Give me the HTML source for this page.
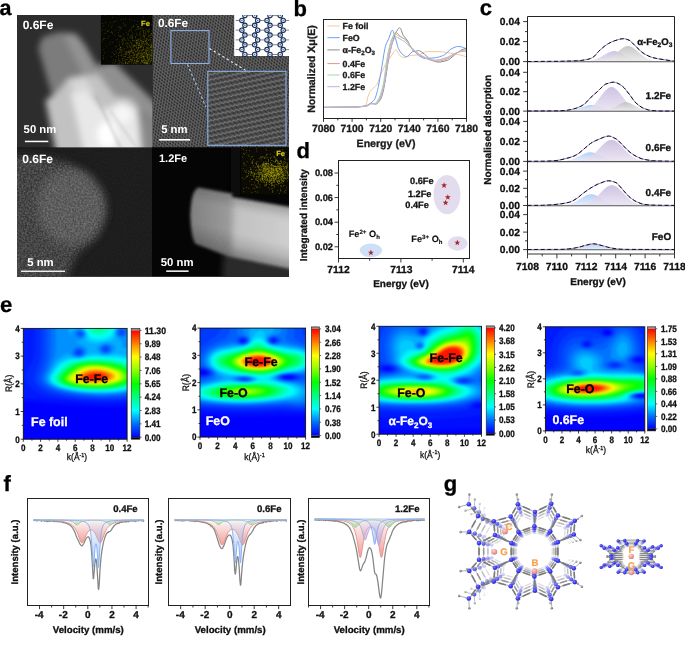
<!DOCTYPE html>
<html lang="en">
<head>
<meta charset="utf-8">
<title>Figure</title>
<style>
html,body{margin:0;padding:0;background:#fff;}
body{width:685px;height:655px;overflow:hidden;}
svg{display:block;font-family:"Liberation Sans", Arial, Helvetica, sans-serif;text-rendering:geometricPrecision;}
text{white-space:pre;}
</style>
</head>
<body>
<svg width="685" height="655" viewBox="0 0 685 655">
<rect width="685" height="655" fill="#fff"/>
<g id="pa">
<defs>
<clipPath id="cTL"><rect x="17.0" y="15.0" width="135.7" height="132.5"/></clipPath>
<clipPath id="cTR"><rect x="152.7" y="15.0" width="136.3" height="132.5"/></clipPath>
<clipPath id="cBL"><rect x="17.0" y="147.5" width="135.7" height="129.2"/></clipPath>
<clipPath id="cBR"><rect x="152.0" y="147.2" width="137.0" height="129.5"/></clipPath>
<clipPath id="cBig"><rect x="207.8" y="71.3" width="78.2" height="74"/></clipPath>
<filter id="bl1" x="-30%" y="-30%" width="160%" height="160%"><feGaussianBlur stdDeviation="1.6"/></filter>
<filter id="bl2" x="-30%" y="-30%" width="160%" height="160%"><feGaussianBlur stdDeviation="3"/></filter>
<filter id="bl3" x="-30%" y="-30%" width="160%" height="160%"><feGaussianBlur stdDeviation="5"/></filter>
<filter id="blt" x="-10%" y="-10%" width="120%" height="120%"><feGaussianBlur stdDeviation="0.45"/></filter>
<filter id="nz" x="0" y="0" width="100%" height="100%" color-interpolation-filters="sRGB">
<feTurbulence type="fractalNoise" baseFrequency="0.55" numOctaves="2" seed="3" result="n"/>
<feColorMatrix in="n" type="matrix" values="0 0 0 0 1  0 0 0 0 1  0 0 0 0 1  1.6 0 0 0 -0.45" result="a"/>
<feComposite in="a" in2="SourceGraphic" operator="in"/>
</filter>
<filter id="nz2" x="0" y="0" width="100%" height="100%" color-interpolation-filters="sRGB">
<feTurbulence type="fractalNoise" baseFrequency="0.9" numOctaves="1" seed="8" result="n"/>
<feColorMatrix in="n" type="matrix" values="0 0 0 0 1  0 0 0 0 1  0 0 0 0 1  1.2 0 0 0 -0.4" result="a"/>
<feComposite in="a" in2="SourceGraphic" operator="in"/>
</filter>
<pattern id="lat" width="3.1" height="5.4" patternUnits="userSpaceOnUse" patternTransform="rotate(-20)">
<rect width="3.1" height="5.4" fill="#646464"/><circle cx="0.78" cy="1.35" r="1.05" fill="#2a2a2a"/><circle cx="2.33" cy="4.05" r="1.05" fill="#2a2a2a"/></pattern>
<pattern id="lat2" width="4.5" height="5.0" patternUnits="userSpaceOnUse" patternTransform="rotate(-12)">
<rect width="4.5" height="5" fill="#494949"/><path d="M-0.3,1.8 L1.1,1.0 L3.4,2.6 L4.8,1.8" stroke="#8a8a8a" stroke-width="0.9" fill="none"/><circle cx="2.25" cy="4.1" r="1.0" fill="#333"/></pattern>
<linearGradient id="rods" gradientUnits="userSpaceOnUse" x1="242" y1="196" x2="228" y2="256"><stop offset="0" stop-color="#000" stop-opacity="0.2"/><stop offset="0.25" stop-color="#000" stop-opacity="0"/><stop offset="0.6" stop-color="#000" stop-opacity="0"/><stop offset="1" stop-color="#000" stop-opacity="0.3"/></linearGradient>
<linearGradient id="rodg" x1="0" y1="0" x2="1" y2="0"><stop offset="0" stop-color="#7e7e7e"/><stop offset="0.36" stop-color="#989898"/><stop offset="0.44" stop-color="#b4b4b4"/><stop offset="1" stop-color="#c6c6c6"/></linearGradient>
</defs>
<rect x="17" y="15" width="272" height="261.7" fill="#1c1c1c" stroke="none" stroke-width="1" />
<g clip-path="url(#cTL)">
<rect x="17" y="15" width="135.7" height="132.5" fill="#2d2d2d" stroke="none" stroke-width="1" />
<g filter="url(#bl2)">
<polygon points="38.32,48.5 42.38,37.33 57.6,32.26 75.87,33.27 85.01,44.44 116.47,100.26 77.9,120.56 51.51,94.17" fill="#7c7c7c" opacity="1.0"/>
<polygon points="62.68,34.29 75.87,34.29 83.99,44.44 114.44,100.26 98.2,106.35" fill="#a4a4a4" opacity="0.55"/>
<polygon points="93.13,65.75 114.44,62.71 159.1,106.35 159.1,153.04 108.35,153.04 98.2,96.2" fill="#909090" opacity="1.0"/>
<polygon points="45.42,100.26 56.59,93.16 68.77,77.93 98.2,73.87 114.44,96.2 130.68,98.23 159.1,128.68 159.1,155.07 56.59,155.07" fill="#c2c2c2" opacity="1.0"/>
<polygon points="70.8,93.16 85.01,88.08 102.26,110.41 122.56,101.28 136.77,109.4 146.92,128.68 148.95,155.07 85.01,155.07" fill="#e8e8e8" opacity="1.0"/>
<polygon points="68.77,81.99 83.99,76.92 94.14,92.14 77.9,96.2" fill="#e0e0e0" opacity="0.7"/>
<ellipse cx="107.34" cy="134.77" rx="10" ry="13" fill="#fff"/>
<ellipse cx="122.56" cy="114.47" rx="9" ry="9" fill="#fff" opacity="0.6"/>
<polygon points="136.77,106.35 159.1,124.62 159.1,155.07 141.85,155.07" fill="#707070" opacity="0.75"/>
</g>
<g filter="url(#bl1)">
<polygon points="94.75,96.2 96.78,95.39 122.56,148.98 119.52,148.98" fill="#888" opacity="0.3"/>
<polygon points="109.37,110.41 110.79,109.6 138.8,148.98 136.37,148.98" fill="#999" opacity="0.3"/>
</g>
</g>
<rect x="100.9" y="15" width="51.8" height="49.7" fill="#070703" stroke="none" stroke-width="1" />
<path d="M134.39 45.48h0.7M110.92 27.28h0.7M134.82 37.77h0.7M151.78 63.99h0.7M149.78 56.76h0.7M150.91 34.85h0.7M133.15 53.41h0.7M149.83 39.06h0.7M147.27 55.33h0.7M131.84 36.02h0.7M146.38 63.25h0.7M136.28 43.96h0.7M136.77 62.39h0.7M117.44 64.17h0.7M146.88 57.92h0.7M141.3 57.55h0.7M151.56 58.35h0.7M123.59 56.33h0.7M147.13 47.64h0.7M147.56 58.37h0.7M130.81 30.91h0.7M137.29 61.77h0.7M150.99 37.54h0.7M102.89 58.01h0.7M137.16 43.29h0.7M113.31 22.36h0.7M132.39 52.33h0.7M141.37 59.63h0.7M148.49 50.68h0.7M141.62 61.49h0.7M142.71 46.75h0.7M129.15 52.91h0.7M136.18 61.56h0.7M144.07 59.36h0.7M144.35 62.66h0.7M126.76 44.97h0.7M150.35 40.63h0.7M141.83 42.91h0.7M132.57 60.56h0.7M119.28 45.68h0.7M133.24 46.59h0.7M146.98 30.88h0.7M138.06 28.14h0.7M147.42 62.66h0.7M136 24.7h0.7M127.35 43.2h0.7M151.41 60.64h0.7M140.67 55.17h0.7M146.67 58.35h0.7M140.12 52.77h0.7M133.62 45.89h0.7M149.1 47.94h0.7M114.29 35.06h0.7M151.65 46.57h0.7M125.47 62.89h0.7M124.36 25.42h0.7M135.1 37.69h0.7M138.45 27.11h0.7M146.47 53.7h0.7M150.87 60.1h0.7M122.81 45.86h0.7M132.86 52.94h0.7M147.89 36.33h0.7M136.42 29.28h0.7M147.78 61.27h0.7M123.46 54.61h0.7M145.87 29.21h0.7M150.2 47.21h0.7M127.69 52.74h0.7M137.13 60.06h0.7M142.08 56.11h0.7M149.76 46.68h0.7M137.23 54.57h0.7M151.45 33.79h0.7M130.85 59.78h0.7M129.04 55.29h0.7M125.72 26.26h0.7M149.24 54.53h0.7M128 40.62h0.7M151.41 47.52h0.7M141.62 50.24h0.7M133.53 63.86h0.7M122.4 60.15h0.7M119.5 48.96h0.7M143.28 47.35h0.7M120.38 50.08h0.7M129.84 37.81h0.7M151.48 54.43h0.7M118.08 55.77h0.7M143.65 44.37h0.7M140.1 55.49h0.7M118.07 35.57h0.7M141.26 47.65h0.7M146.99 42.2h0.7M133.03 25.14h0.7M129.67 42.79h0.7M147.31 63.82h0.7M130.32 55.96h0.7M129.02 19.21h0.7M144.57 35.42h0.7M129.94 59.59h0.7M146.85 51.15h0.7M126.73 34.82h0.7M136.46 41.13h0.7M134.98 57.7h0.7M129.98 59.5h0.7M146.59 55.21h0.7M119.34 44.01h0.7M147.99 59.17h0.7M145.3 50.23h0.7M136.52 61.17h0.7M148.19 47.98h0.7M114 54.62h0.7M146.69 63.6h0.7M124.66 52.05h0.7M148.32 39.85h0.7M129.43 46.91h0.7M134.61 53.63h0.7M127.64 61.84h0.7M141.1 54.03h0.7M110.41 22.89h0.7M114.61 54.39h0.7M147.21 43.21h0.7M141.36 27.09h0.7M132.73 41.09h0.7M112.25 62.77h0.7M122.78 19.22h0.7M151.7 52.67h0.7M136.45 57.6h0.7M146.15 38.03h0.7M140.3 40.79h0.7M121.24 27.11h0.7M108.93 44.5h0.7M138.01 47.94h0.7M112.22 17.48h0.7M122.94 34.61h0.7M117.77 27.84h0.7M140.34 46.05h0.7M143.28 58.34h0.7M143.35 62.68h0.7M137.53 49.37h0.7M150.07 55.65h0.7M143.22 43.14h0.7M148.53 63.65h0.7M137.39 21.27h0.7M107.38 31.57h0.7M140.03 63.27h0.7M107.39 31.26h0.7M119.81 28.14h0.7M134.54 45.84h0.7M148.81 57.61h0.7M141.39 51.31h0.7M141.94 55.81h0.7M121.65 49.85h0.7M134.54 54.98h0.7M147.1 31.16h0.7M119.03 36.48h0.7M128.48 61.88h0.7M135.57 61.65h0.7M146.21 57.2h0.7M126.85 43.15h0.7M143.68 49.1h0.7M151.54 51.44h0.7M138.58 63.68h0.7M128.44 57.65h0.7M115.45 46.85h0.7M129.38 53.83h0.7M145.06 56.11h0.7M132.52 59.42h0.7M145.65 50.94h0.7M135.12 36.48h0.7M148.92 45.21h0.7M124.32 60.97h0.7M138.91 44.78h0.7M123.61 61.98h0.7M136.46 48.23h0.7M142.82 56.91h0.7M137.89 48.09h0.7M146.73 61.75h0.7M121.27 51.63h0.7M138.28 53.29h0.7M149.09 59.13h0.7M150.07 35.63h0.7M146.17 61.59h0.7M126.65 59.52h0.7M139.22 39.24h0.7M121.87 62.56h0.7M131.32 62.29h0.7M132.13 44.21h0.7M144.82 35.09h0.7M143.38 31.48h0.7M142.76 53.89h0.7M104.17 52.69h0.7M139.39 43.74h0.7M151.07 60.15h0.7M135.01 42.19h0.7M129.65 60.41h0.7M135.42 60.7h0.7M125.61 63.26h0.7M138.26 43.5h0.7M130.04 42.36h0.7M140.53 28.15h0.7M138.2 61.45h0.7M122.41 39.16h0.7M150.69 61.76h0.7M144.75 61.03h0.7M149.73 16.67h0.7M143.29 49.03h0.7M150.66 56.09h0.7M118.28 32.39h0.7M125.54 53.66h0.7M141.29 41.8h0.7M145.96 50.88h0.7M115.11 61.22h0.7M110.65 32.42h0.7M144.11 38.15h0.7M149.07 63.12h0.7M139.89 35.01h0.7M124.83 24.39h0.7M146.02 43.79h0.7M144.46 58.45h0.7M127.05 63.45h0.7M147.98 40.54h0.7M130.35 46.27h0.7M133.75 62.75h0.7M143.86 40h0.7M135.97 54.33h0.7M142.27 54.52h0.7M142.53 30.27h0.7M147.4 60.91h0.7M151 57.93h0.7M151.14 45.83h0.7M136.44 40.62h0.7M136.03 61.39h0.7M148.21 59.89h0.7M140.47 31.73h0.7M127.74 39.26h0.7M144.94 41.58h0.7M125.28 62.21h0.7M151.77 41.2h0.7M134.07 49.88h0.7M149.61 58.77h0.7M130.3 51.74h0.7M104.07 38.57h0.7M150.7 53.76h0.7M135.26 51.58h0.7M137.93 61.75h0.7M121.46 63.89h0.7M142.86 56.28h0.7M139.08 43.69h0.7M136.98 42.83h0.7M146.51 47.8h0.7M142.09 35.95h0.7M119.14 52.46h0.7M143.22 34.01h0.7M119.44 41.67h0.7M120.25 47.51h0.7M118.36 58.28h0.7M142.4 43.26h0.7M143.18 60.08h0.7M130.81 20.14h0.7M146.19 52.22h0.7M134.67 49.22h0.7M141.2 58.97h0.7M102.42 30.16h0.7M141.6 45.71h0.7M145.85 63.78h0.7M150.43 41.97h0.7M131.25 43.86h0.7M142.51 50.77h0.7M108.41 25.33h0.7M120.67 55.61h0.7M147.73 48.35h0.7M135.19 46.08h0.7M137.6 39.53h0.7M131.28 60.05h0.7M144.01 45.68h0.7M139.81 50.68h0.7M120.58 19.71h0.7M128.4 33.79h0.7M111.08 31.85h0.7M146.22 44.12h0.7M128.72 61.27h0.7M137.06 59.73h0.7M138.77 57.67h0.7M144.68 63.56h0.7M119.8 49.29h0.7M118.47 15.55h0.7M151.46 46.55h0.7M135.43 62.64h0.7M143.02 48.8h0.7M144.62 33.62h0.7M143 32.27h0.7M135.57 62.98h0.7M140.48 46.32h0.7M119.38 64.18h0.7M131.76 52.69h0.7M146.35 51.98h0.7M148.03 61.7h0.7M136.54 50.93h0.7M150.62 44.99h0.7M144.15 54.45h0.7M141.7 60.37h0.7M133.59 58.94h0.7M115.38 51.01h0.7M133.62 54.58h0.7M141.38 44.87h0.7M145.22 43.47h0.7M146.7 62.08h0.7M128.26 43.83h0.7M151.25 56.18h0.7M148.72 25.66h0.7M147.34 38.57h0.7M137.73 53.3h0.7M148.98 56.29h0.7M137.93 54.01h0.7M131.41 55.41h0.7M129.89 29.67h0.7M120.41 28.65h0.7M102.79 38.91h0.7M141.04 42.6h0.7M138.03 48.32h0.7M142.75 57.29h0.7M139.35 45.51h0.7M120.29 61.69h0.7M126.05 51.31h0.7M138.41 58.3h0.7M148.43 59.69h0.7M133.85 45.03h0.7M151.48 30.71h0.7M150.46 50.4h0.7M139.09 52.87h0.7M149.89 61.77h0.7M143.86 56.83h0.7M143.59 56.3h0.7M146.52 63.75h0.7M119.9 46.64h0.7M146.84 50.74h0.7M135.74 42.2h0.7M136.48 59.97h0.7M138.33 45.39h0.7M149.86 55.07h0.7M133.61 57.53h0.7M132.91 63.49h0.7M124.69 59.19h0.7M151.51 34.73h0.7M122.7 54.56h0.7M142.56 53h0.7M143.8 63.68h0.7M147.11 63.75h0.7M137.59 41.17h0.7M142.72 39.67h0.7M102.71 49.59h0.7M140.32 33.36h0.7M150.98 44.19h0.7M132.77 62.04h0.7M143.15 41.43h0.7M136.07 56.07h0.7M147.63 60.47h0.7M104.69 29.88h0.7M145.85 32.72h0.7M132.47 47.54h0.7M137.47 61.66h0.7M136.41 35.79h0.7M135.79 54.87h0.7M147.45 56.16h0.7M145.14 62.68h0.7M145.96 60.48h0.7M149.5 40.13h0.7M138.71 57.07h0.7M130.13 35.37h0.7M143.78 43.98h0.7M131.21 28.14h0.7M111.75 25.47h0.7M143.53 63.24h0.7M148.62 45.82h0.7M137.75 26.46h0.7M131.67 45.92h0.7M129.07 52.91h0.7M132.74 34.23h0.7M132.46 53.62h0.7M123.4 48.8h0.7M149.37 51.68h0.7M142.71 28.92h0.7M102.3 23.55h0.7M133.96 20.52h0.7M147.94 49h0.7M141.8 44.9h0.7M145.85 63.51h0.7M140.37 49.1h0.7M132.02 36.41h0.7M140.15 54.9h0.7M150.47 37.35h0.7M125.39 61.82h0.7M146.98 62.87h0.7M130.96 50.22h0.7M148.7 50.68h0.7M133.09 57.12h0.7M114.11 21.27h0.7M127.88 51.42h0.7M146.95 45.13h0.7M150.61 58.33h0.7M143.85 59.99h0.7M122.2 44.37h0.7M149.67 37.37h0.7M115.82 21.07h0.7M127.84 52.41h0.7M141.02 40.15h0.7M121.01 55.77h0.7M123.17 41.78h0.7M131.73 38.76h0.7M139.91 38.83h0.7M140.84 40.85h0.7M150.3 34.38h0.7M141.51 40.62h0.7M127.02 37.9h0.7M139.15 44.74h0.7M132.77 46.5h0.7M119.77 51.19h0.7M133.16 26.7h0.7M143.65 56.53h0.7M111.77 52.06h0.7M139.87 28.55h0.7M144.51 62.76h0.7M126.74 63.06h0.7M131.03 61.32h0.7M146.66 58.27h0.7M139.44 56.23h0.7M130.92 48.33h0.7M151.2 54.09h0.7M118.42 48.51h0.7M148.97 60.11h0.7M140.89 46.39h0.7M131.41 43.98h0.7M148.47 45.74h0.7M117.06 49.72h0.7M143.87 37.36h0.7M116.02 46.08h0.7M131.87 27.16h0.7M126.58 54.54h0.7M139.39 53.38h0.7M138.76 32.61h0.7M136.34 51.58h0.7M147.79 44.46h0.7M151.36 57.97h0.7M141.34 63.06h0.7M138.01 29.14h0.7M135.99 55.18h0.7M127.29 63.24h0.7M128.35 54.98h0.7M145.48 53.21h0.7M130.93 50.79h0.7M133.96 61.94h0.7M148.2 31.83h0.7M125.16 43.82h0.7M122.01 50.78h0.7M143.53 57.38h0.7M151.63 50.28h0.7M133.46 26.56h0.7M151.82 55.28h0.7M151.12 45.33h0.7M138.77 47.74h0.7M147.78 56.17h0.7M140.4 29.8h0.7M122.92 43.66h0.7M121.9 63.78h0.7M137.75 43.11h0.7M137.01 26.09h0.7M146.51 53.53h0.7M151.46 59.83h0.7M150.66 51.23h0.7M123.06 23.17h0.7M136.12 45.31h0.7M116.28 52.49h0.7M129.41 50.29h0.7M132.24 38.09h0.7M128.59 57.64h0.7M145.92 53.07h0.7M145.56 56.82h0.7M133.73 46.18h0.7M124.97 54.42h0.7M131.15 49.41h0.7M151.39 53.55h0.7M102.19 40.83h0.7M148.69 59.32h0.7M139.86 53.82h0.7M145.37 50.03h0.7M148.57 52.33h0.7M136.79 57.86h0.7M134.18 59.81h0.7M143.39 23.16h0.7M137.08 55.23h0.7M144.35 52.36h0.7M143.47 61.55h0.7M103.04 58.78h0.7M137.91 61.76h0.7M131.21 35.65h0.7M142.61 16.63h0.7M145.79 62.48h0.7M135.94 46.18h0.7M144.76 40h0.7M135.7 40.62h0.7M139.8 62.47h0.7M132.56 40.22h0.7M128.94 62.87h0.7M147.37 57.13h0.7M132.2 40.39h0.7M147.19 56.06h0.7M146.93 48.48h0.7M146.36 38.89h0.7M137.48 47.99h0.7M137.02 55.8h0.7M124.2 48.66h0.7M125.01 62.78h0.7M130.32 51.54h0.7M128.98 45.17h0.7M136.54 56.29h0.7M144.74 52.51h0.7M137.15 40.65h0.7M146.81 56.62h0.7M113.2 53.34h0.7M139.7 47.54h0.7M138.63 51.51h0.7M136.19 43.47h0.7M129.81 61.42h0.7M140.33 47.07h0.7M136.95 58.28h0.7M140.22 40.28h0.7M125.72 55.84h0.7M146.21 42.1h0.7M105.19 33.29h0.7M145.95 49.02h0.7M130 58.07h0.7M145.04 60.54h0.7M127.52 47.54h0.7M138.33 47.31h0.7M148.46 35.42h0.7M150.91 48.81h0.7M103.28 25.95h0.7M143.31 32.94h0.7M132.2 32.83h0.7M122.13 60.02h0.7M142.44 41.51h0.7M137.75 47.3h0.7M137.78 50.07h0.7M137.62 49.4h0.7M148.79 57.83h0.7M147.28 61.88h0.7M123.04 63.7h0.7M127.9 35.2h0.7M147.32 63.66h0.7M119.85 35.61h0.7M142.53 41.66h0.7M136.26 33.39h0.7M103.32 55.74h0.7M146.05 40.13h0.7M149.95 54.97h0.7M143.95 36.71h0.7M123.84 39.89h0.7M138.77 47.26h0.7M144.68 41.63h0.7M143.31 56.74h0.7M148.27 55.12h0.7M129.74 37.45h0.7M141.76 46.11h0.7M133.94 50.52h0.7M140.37 57.41h0.7M129.91 47.37h0.7M133.52 57.18h0.7M136.27 47.47h0.7M137.66 40.29h0.7M118.58 62.63h0.7M122.36 41.43h0.7M119.14 26.67h0.7M144.21 62.7h0.7M151.24 49.94h0.7M128.79 45.99h0.7M140.47 47.1h0.7M150.71 55.88h0.7M151.51 37.18h0.7M151.87 63.15h0.7M142.09 62.18h0.7M143.86 58.78h0.7M124.53 38.39h0.7M123.49 37.52h0.7M114.6 30.4h0.7M138.19 39.36h0.7M147.4 57.99h0.7M146.91 57.09h0.7M134.96 45.74h0.7M132.7 55.47h0.7M143.33 17.66h0.7M144.89 30.29h0.7M145.15 60.86h0.7M145.05 41.51h0.7M142.41 53.81h0.7M125.12 63.11h0.7M129.49 60.12h0.7M151.04 42.79h0.7M147.99 52.82h0.7M136.03 47.83h0.7M146.32 62.56h0.7M137.17 27.4h0.7M123.59 58.03h0.7M131.92 37.15h0.7M149.61 49.27h0.7M146.82 46.91h0.7M112.3 42.5h0.7M137.27 60.89h0.7M136.43 42.61h0.7M143.51 41.25h0.7M148.27 53.01h0.7M114.21 63.42h0.7M135.27 30.52h0.7M135.36 51.85h0.7M137.47 44.63h0.7M141.54 57.91h0.7M142.64 56.55h0.7M145.58 55.57h0.7M147.45 55.12h0.7M141.22 55.94h0.7M146.21 62.88h0.7M150.05 61.49h0.7M126.2 45.87h0.7M138.43 26.64h0.7M145.92 50.24h0.7M141.62 53.59h0.7M148.2 54.5h0.7M147.34 25.08h0.7M145.31 63.03h0.7M143.63 52.32h0.7M128.63 31.2h0.7M111.79 32.65h0.7M139.33 51.14h0.7M133.68 54.64h0.7M130.58 50.09h0.7M121.72 58.67h0.7M151.31 47.34h0.7M144.23 43.91h0.7M141.11 52.05h0.7M131.37 51.58h0.7M141.23 54.19h0.7M125.87 52.86h0.7M151.42 58.68h0.7M145.92 42.94h0.7M131.5 59.2h0.7M150.34 46.98h0.7M105.84 46.63h0.7M148.73 39.57h0.7M144.93 46.24h0.7M141.02 56.99h0.7M124.95 53.46h0.7M126.04 32.6h0.7M129.1 56.63h0.7M129.81 52.83h0.7M126.79 59.74h0.7M142.97 35.51h0.7M138.87 41.98h0.7M124.61 56.31h0.7M135.99 42.37h0.7M122.16 43.83h0.7M139.26 56.45h0.7M151.3 24.94h0.7M149.89 52.29h0.7M121.37 42.22h0.7M126.64 48.18h0.7M121.3 47.47h0.7M138.38 53.28h0.7M126.88 51.97h0.7M151.1 45.8h0.7M116.61 39.96h0.7M130.79 36.96h0.7M118.83 60.13h0.7M137.66 52.5h0.7M110.31 42.28h0.7M150.43 47.07h0.7M150.58 55.9h0.7M141.31 60.86h0.7M140.74 50.1h0.7M150.56 49.81h0.7M143.49 36.23h0.7M113.05 60.13h0.7M136 60.77h0.7M148.36 44.26h0.7M143.37 60.64h0.7M137.33 50.92h0.7M134.9 51.73h0.7M131.14 50.84h0.7M129.81 40.71h0.7M105.48 22.22h0.7M137.42 53.83h0.7M132.7 61.77h0.7M143.21 49.82h0.7M129.06 51.37h0.7M126.37 42.88h0.7M142.44 28.27h0.7M144.78 50.19h0.7M143.21 47.36h0.7M138.73 60.41h0.7M150.58 47.85h0.7M135.69 39.15h0.7M115.2 61.93h0.7M141.7 60.47h0.7M118.88 29.98h0.7M119.73 49.35h0.7M133.86 44.86h0.7M124.71 39.87h0.7M142.04 61.6h0.7M143.49 55.85h0.7M118.93 61.2h0.7M132.01 60.19h0.7M147.31 54.53h0.7M121.97 40.56h0.7M103.12 39.08h0.7M140.86 61.41h0.7M144.91 60.58h0.7M122.86 38.87h0.7M126.47 59.46h0.7M149.53 53.5h0.7M142.42 37.98h0.7M141.16 43.52h0.7M140.78 46.47h0.7M140.09 37.69h0.7M127.62 52.69h0.7M137.7 39.88h0.7M150.67 33.25h0.7M148.4 33.08h0.7M116 56.79h0.7M136.89 34.64h0.7M149.16 57.36h0.7M149.16 31.45h0.7M142.83 60.29h0.7M147.46 63.33h0.7M126.23 54.26h0.7M143.62 56.13h0.7M148.71 60.68h0.7M129.18 57.92h0.7M138.29 41.57h0.7M148.84 29.02h0.7M130.94 47.55h0.7M144.19 53.51h0.7M151.36 43.33h0.7M136.04 57.6h0.7M125.63 40.41h0.7M143.91 52.66h0.7M131.96 49.83h0.7M151.29 50.18h0.7M120.85 36.37h0.7M136.34 43.16h0.7M145.8 34.54h0.7M140.15 57.58h0.7M133.28 45.43h0.7M122.78 58.85h0.7M119.73 53.02h0.7M133.77 50.25h0.7M147.09 54.83h0.7M124.86 52.21h0.7M138.1 55.13h0.7M103.85 33.66h0.7M144.26 61.93h0.7M133.93 55.37h0.7M143.77 58.3h0.7M143.47 55.93h0.7M149.01 64h0.7M143.76 61.12h0.7M147.97 59.65h0.7M150.65 39.4h0.7M139.18 35.13h0.7M144.64 33.08h0.7M143.15 57.23h0.7M118.27 60.6h0.7M151.31 50.67h0.7M120.87 52.83h0.7M108.5 36.23h0.7M150.78 45.47h0.7M124.91 56.42h0.7M143.36 30.63h0.7M148.12 30.09h0.7M141.93 61.17h0.7M145.92 44.19h0.7M139.8 45.34h0.7M141.58 44.73h0.7M141.33 60.22h0.7M145.2 51.78h0.7M138.01 58.68h0.7M144.94 31.61h0.7M146.35 40.64h0.7M131.62 50.73h0.7M147.48 50.52h0.7M121.1 54.91h0.7M137.14 50.47h0.7M106.8 38.33h0.7M139.53 59.04h0.7M131.79 58.99h0.7M127.4 46.57h0.7M122.81 38.91h0.7M136.09 63.59h0.7M135.77 54.33h0.7M132.22 52.56h0.7M142.1 50.2h0.7M145.58 41.39h0.7M126.34 51.91h0.7M122.63 56.58h0.7M134.23 60.63h0.7M151 33.46h0.7M148.91 49.36h0.7M134.12 60.3h0.7M120.17 36.63h0.7M149.95 39.9h0.7M117.99 55.64h0.7M142.92 49.53h0.7M150.68 47.59h0.7M128.11 51.02h0.7M148.43 36.67h0.7M121.13 49.41h0.7M120.89 62.67h0.7M133.89 55.29h0.7M151.29 55.5h0.7M119.9 47.7h0.7M135.95 40.51h0.7M128.62 61.58h0.7M134.26 40.31h0.7M144.74 59.66h0.7M138.38 45.36h0.7M124.77 59.98h0.7M124.56 50.73h0.7M148.81 44.91h0.7M128.94 52.8h0.7M120.44 47.79h0.7M118.76 63.26h0.7M116.92 39.05h0.7M143.68 36.21h0.7M146.94 54.52h0.7M149.23 29.72h0.7M147.72 22.28h0.7M129.39 30.71h0.7M124.88 56.84h0.7M112.08 33.42h0.7M147.95 31.98h0.7M133.76 48.82h0.7M137.88 45.8h0.7M125.4 19.06h0.7M145.62 49.06h0.7M146.95 59.71h0.7M142.79 60.02h0.7M140.69 56.03h0.7M146.04 47.66h0.7M149.18 35.49h0.7M146.16 53.56h0.7M146.83 49.68h0.7M143.04 42.39h0.7M146.88 43.53h0.7M143.13 52.97h0.7M130.93 63.46h0.7M139.11 42.06h0.7M139.58 34.14h0.7M141.77 53.66h0.7M114.86 59.66h0.7M107.97 30.69h0.7M131.73 42.22h0.7M146.06 39.87h0.7M118.27 53.62h0.7M149.19 43.15h0.7M134.77 57.85h0.7M133.69 40.84h0.7M132.36 57.91h0.7M140.27 46.7h0.7M136.99 29.6h0.7M144.71 63.57h0.7M137.71 44.97h0.7M135.39 63.46h0.7M145.6 40.33h0.7M131.84 56.86h0.7M142.5 50.46h0.7M136.71 56.52h0.7M142.55 62.7h0.7M145.5 54.61h0.7M147.42 39.69h0.7M133.23 51.97h0.7M149.7 62.26h0.7M146.11 54.23h0.7M141.66 56.41h0.7M148.82 54.88h0.7M124.87 63.5h0.7M150.5 44.44h0.7M131.57 56.03h0.7M121.14 39.82h0.7M131.86 38.73h0.7M128.56 51.38h0.7M104.86 15.62h0.7M149.58 58.98h0.7M129.63 57.28h0.7M136.79 64.05h0.7M111.5 56.58h0.7M127.15 57.51h0.7M151.08 52.21h0.7M150.44 60.38h0.7M127.94 63.28h0.7M149.98 55.21h0.7M151.81 17.69h0.7" stroke="#a39d10" stroke-width="0.7" fill="none" opacity="0.52"/>
<text x="141" y="25.8" font-size="7.6" font-weight="bold" text-anchor="start" fill="#d6ce20" stroke="#d6ce20" stroke-width="0.15" >Fe</text>
<text x="22.7" y="28.6" font-size="12" font-weight="bold" text-anchor="start" fill="#fff" >0.6Fe</text>
<text x="23.6" y="133.1" font-size="11.3" font-weight="bold" text-anchor="start" fill="#fff" >50 nm</text>
<rect x="24.9" y="140.7" width="23.4" height="1.5" fill="#fff" stroke="none" stroke-width="1" />
<g clip-path="url(#cTR)">
<g filter="url(#blt)"><rect x="150.7" y="13" width="140.3" height="136.5" fill="url(#lat)" stroke="none" stroke-width="1" /></g>
<g clip-path="url(#cBig)"><g filter="url(#blt)"><rect x="205" y="69" width="84" height="80" fill="url(#lat2)" stroke="none" stroke-width="1" /></g></g>
</g>
<rect x="170.9" y="30.6" width="38.1" height="32.9" fill="none" stroke="#8cb0e8" stroke-width="1.1" />
<rect x="207.8" y="71.3" width="78.2" height="74" fill="none" stroke="#8cb0e8" stroke-width="1.1" />
<line x1="209.5" y1="48.5" x2="246.5" y2="70.8" stroke="#e6eefb" stroke-width="1.1" stroke-dasharray="2.4 2.6"/>
<line x1="187.5" y1="64.5" x2="206" y2="107" stroke="#a9c8f8" stroke-width="1.1" stroke-dasharray="2.4 2.6"/>
<rect x="234.2" y="14.3" width="55" height="41.7" fill="#fff" stroke="none" stroke-width="1" />
<g clip-path="url(#cTR)">
<path d="M244.9 16.8L241.9 19.26M254.7 16.8L257.7 19.26M270 16.8L267 19.26M280.2 16.8L283.2 19.26M241.9 21.66L244.9 24.12M257.7 21.66L254.7 24.12M267 21.66L270 24.12M283.2 21.66L280.2 24.12M244.9 26.52L241.9 28.98M254.7 26.52L257.7 28.98M270 26.52L267 28.98M280.2 26.52L283.2 28.98M241.9 31.38L244.9 33.84M257.7 31.38L254.7 33.84M267 31.38L270 33.84M283.2 31.38L280.2 33.84M244.9 36.24L241.9 38.7M254.7 36.24L257.7 38.7M270 36.24L267 38.7M280.2 36.24L283.2 38.7M241.9 41.1L244.9 43.56M257.7 41.1L254.7 43.56M267 41.1L270 43.56M283.2 41.1L280.2 43.56M244.9 45.96L241.9 48.42M254.7 45.96L257.7 48.42M270 45.96L267 48.42M280.2 45.96L283.2 48.42M241.9 50.82L244.9 53.28M257.7 50.82L254.7 53.28M267 50.82L270 53.28M283.2 50.82L280.2 53.28" stroke="#2a78dc" stroke-width="1.6" fill="none"/>
<g fill="#fff" stroke="#1f2c4c" stroke-width="1.15"><circle cx="244.9" cy="15.6" r="2.2"/><circle cx="254.7" cy="15.6" r="2.2"/><circle cx="270" cy="15.6" r="2.2"/><circle cx="280.2" cy="15.6" r="2.2"/><circle cx="241.9" cy="20.46" r="2.2"/><circle cx="257.7" cy="20.46" r="2.2"/><circle cx="267" cy="20.46" r="2.2"/><circle cx="283.2" cy="20.46" r="2.2"/><circle cx="244.9" cy="25.32" r="2.2"/><circle cx="254.7" cy="25.32" r="2.2"/><circle cx="270" cy="25.32" r="2.2"/><circle cx="280.2" cy="25.32" r="2.2"/><circle cx="241.9" cy="30.18" r="2.2"/><circle cx="257.7" cy="30.18" r="2.2"/><circle cx="267" cy="30.18" r="2.2"/><circle cx="283.2" cy="30.18" r="2.2"/><circle cx="244.9" cy="35.04" r="2.2"/><circle cx="254.7" cy="35.04" r="2.2"/><circle cx="270" cy="35.04" r="2.2"/><circle cx="280.2" cy="35.04" r="2.2"/><circle cx="241.9" cy="39.9" r="2.2"/><circle cx="257.7" cy="39.9" r="2.2"/><circle cx="267" cy="39.9" r="2.2"/><circle cx="283.2" cy="39.9" r="2.2"/><circle cx="244.9" cy="44.76" r="2.2"/><circle cx="254.7" cy="44.76" r="2.2"/><circle cx="270" cy="44.76" r="2.2"/><circle cx="280.2" cy="44.76" r="2.2"/><circle cx="241.9" cy="49.62" r="2.2"/><circle cx="257.7" cy="49.62" r="2.2"/><circle cx="267" cy="49.62" r="2.2"/><circle cx="283.2" cy="49.62" r="2.2"/><circle cx="244.9" cy="54.48" r="2.2"/><circle cx="254.7" cy="54.48" r="2.2"/><circle cx="270" cy="54.48" r="2.2"/><circle cx="280.2" cy="54.48" r="2.2"/></g>
<path d="M247.1 15.6H252.5M272.2 15.6H278M239.7 20.46h-4M259.9 20.46H264.8M285.4 20.46h4M247.1 25.32H252.5M272.2 25.32H278M239.7 30.18h-4M259.9 30.18H264.8M285.4 30.18h4M247.1 35.04H252.5M272.2 35.04H278M239.7 39.9h-4M259.9 39.9H264.8M285.4 39.9h4M247.1 44.76H252.5M272.2 44.76H278M239.7 49.62h-4M259.9 49.62H264.8M285.4 49.62h4M247.1 54.48H252.5M272.2 54.48H278" stroke="#3d4d6a" stroke-width="0.7" fill="none"/>
<path d="M244.2 15.6h1.4M254 15.6h1.4M269.3 15.6h1.4M279.5 15.6h1.4M241.2 20.46h1.4M257 20.46h1.4M266.3 20.46h1.4M282.5 20.46h1.4M244.2 25.32h1.4M254 25.32h1.4M269.3 25.32h1.4M279.5 25.32h1.4M241.2 30.18h1.4M257 30.18h1.4M266.3 30.18h1.4M282.5 30.18h1.4M244.2 35.04h1.4M254 35.04h1.4M269.3 35.04h1.4M279.5 35.04h1.4M241.2 39.9h1.4M257 39.9h1.4M266.3 39.9h1.4M282.5 39.9h1.4M244.2 44.76h1.4M254 44.76h1.4M269.3 44.76h1.4M279.5 44.76h1.4M241.2 49.62h1.4M257 49.62h1.4M266.3 49.62h1.4M282.5 49.62h1.4M244.2 54.48h1.4M254 54.48h1.4M269.3 54.48h1.4M279.5 54.48h1.4" stroke="#2a78dc" stroke-width="1.4" fill="none"/>
</g>
<text x="157.9" y="27.1" font-size="11.8" font-weight="bold" text-anchor="start" fill="#fff" >0.6Fe</text>
<text x="161.2" y="132.6" font-size="11.3" font-weight="bold" text-anchor="start" fill="#fff" >5 nm</text>
<rect x="159.2" y="139" width="31" height="1.6" fill="#fff" stroke="none" stroke-width="1" />
<g clip-path="url(#cBL)">
<rect x="17" y="147.5" width="135.7" height="129.2" fill="#1b1b1b" stroke="none" stroke-width="1" />
<g filter="url(#bl3)"><path d="M5,155 L41,157 L67,162 L87,173 L103,193 L107.4,213 L98,237 L77,254 L62,287 L5,287Z" fill="#313131"/></g>
<g filter="url(#bl3)"><ellipse cx="71" cy="207" rx="34" ry="38" fill="#545454" opacity="0.75"/></g>
<g filter="url(#nz)" opacity="0.26"><g filter="url(#bl2)"><path d="M5,155 L41,157 L67,162 L87,173 L103,193 L107.4,213 L98,237 L77,254 L62,287 L5,287Z" fill="#fff"/></g></g>
<g filter="url(#nz2)" opacity="0.07"><rect x="17" y="147.5" width="135.7" height="129.2" fill="#fff" stroke="none" stroke-width="1" /></g>
</g>
<text x="22.3" y="162.5" font-size="12" font-weight="bold" text-anchor="start" fill="#fff" >0.6Fe</text>
<text x="27.3" y="265.6" font-size="11.3" font-weight="bold" text-anchor="start" fill="#fff" >5 nm</text>
<rect x="21" y="270.6" width="44" height="1.3" fill="#fff" stroke="none" stroke-width="1" />
<g clip-path="url(#cBR)">
<rect x="152" y="147.2" width="137" height="129.5" fill="#050505" stroke="none" stroke-width="1" />
<g filter="url(#bl2)"><path d="M224,252 L295,266 L295,280 L222,280 Z" fill="#2c2c2c"/><path d="M231,146 L240,146 L240,196 L231,194 Z" fill="#111"/></g>
<g filter="url(#bl1)">
<path d="M198.5,187.5 Q191,190 190.3,215 Q191,238 195.5,243.8 L228.6,256.5 L295,270 L295,208 L231.6,197 L232.6,193.8 Z" fill="url(#rodg)"/>
<path d="M198.5,187.5 Q191,190 190.3,215 Q191,238 195.5,243.8 L228.6,256.5 L295,270 L295,208 L231.6,197 L232.6,193.8 Z" fill="url(#rods)"/>
</g>
<g filter="url(#bl2)"><path d="M236,204 L295,214 L295,262 L232,248 Z" fill="#fff" opacity="0.16"/></g>
<g filter="url(#nz2)" opacity="0.10"><path d="M198.5,187.5 L190.3,215 L195.5,243.8 L295,270 L295,208 L232,195 Z" fill="#fff"/></g>
</g>
<rect x="241" y="147.5" width="48" height="46.7" fill="#0b0a04" stroke="none" stroke-width="1" />
<path d="M267.64 163.37h0.7M282.29 181.11h0.7M271.5 175.77h0.7M271.85 170.58h0.7M286.9 163.93h0.7M285.13 172.5h0.7M269.18 174.51h0.7M278.48 175.53h0.7M277.26 182.45h0.7M269.35 168.57h0.7M281.75 169.25h0.7M278.35 170.28h0.7M257.61 161.46h0.7M281.1 162.52h0.7M280.17 188.97h0.7M243.07 191.72h0.7M284.61 192.74h0.7M278.86 180h0.7M268.87 171.73h0.7M283.4 176.75h0.7M282.02 177.21h0.7M263.35 169.66h0.7M273.85 186.28h0.7M279.43 174.66h0.7M278.74 183.15h0.7M250.36 171.64h0.7M263.97 174.33h0.7M270.38 174.18h0.7M242.31 157.15h0.7M274.56 166.21h0.7M280.71 161.01h0.7M264.23 163.8h0.7M250.98 184.56h0.7M276.08 169.87h0.7M260.72 181.86h0.7M281.53 171.87h0.7M254.11 173.75h0.7M262.5 178.46h0.7M260.92 167.75h0.7M262.07 164.07h0.7M264.09 178.91h0.7M272.35 180.87h0.7M278.6 172.44h0.7M261.57 178.42h0.7M276.44 172.18h0.7M265.65 174.95h0.7M278.4 183.54h0.7M257.48 187.49h0.7M272.06 172.88h0.7M280.99 174.15h0.7M267.74 172.21h0.7M262.59 171.82h0.7M276.18 169.81h0.7M256.13 176.73h0.7M269.22 177.84h0.7M248.21 170.99h0.7M265.31 167.85h0.7M283.67 161.97h0.7M257.75 172.63h0.7M276.19 160.18h0.7M281.62 172.05h0.7M258.51 177.15h0.7M260.85 177.11h0.7M256.34 169.64h0.7M262.59 172.34h0.7M266.89 179.66h0.7M262.86 175.91h0.7M274.43 175.99h0.7M251.55 162.26h0.7M278.11 176.91h0.7M271.29 173.25h0.7M273.19 172.63h0.7M282.56 178.6h0.7M285.45 170.97h0.7M278.31 175.15h0.7M279.18 175.02h0.7M271.63 176.41h0.7M268.94 179.17h0.7M282.86 162.96h0.7M263.93 175.66h0.7M275.57 178.64h0.7M280.58 190.92h0.7M265.64 172.65h0.7M261.99 178.73h0.7M278.06 177.11h0.7M285.24 166.57h0.7M283.4 178.19h0.7M276.64 170.61h0.7M275.07 160.94h0.7M265.78 175.24h0.7M279.15 177.6h0.7M286.02 166.19h0.7M276.48 175.1h0.7M258.85 170.88h0.7M266.24 175.22h0.7M265.05 170.51h0.7M273.53 175.59h0.7M265.39 171.37h0.7M273.8 166.85h0.7M272.77 181.89h0.7M248.49 188.35h0.7M267.29 175.06h0.7M272.56 166.53h0.7M270.69 176.08h0.7M281.85 169.51h0.7M269.16 182.47h0.7M287.84 175h0.7M264.01 165.81h0.7M284.16 178.26h0.7M279.18 181.07h0.7M257.06 180.59h0.7M263.34 162.64h0.7M279.76 169.63h0.7M274.63 170.08h0.7M277.47 190.38h0.7M287.32 175.14h0.7M283.25 166.64h0.7M275.67 175.22h0.7M268.16 172.22h0.7M269.32 188.95h0.7M259.1 176.16h0.7M250.32 174.76h0.7M257.18 192.11h0.7M276.58 168.47h0.7M249.55 181.26h0.7M249.83 167.57h0.7M261.81 175.94h0.7M261.09 173h0.7M257.78 165.6h0.7M263.68 177.46h0.7M266.15 175.81h0.7M259.84 180.72h0.7M273.13 170.78h0.7M261.9 176.78h0.7M269.32 184.48h0.7M278.54 163.62h0.7M276.27 176.5h0.7M282.14 174.11h0.7M276.75 177.94h0.7M276.9 161.44h0.7M258.24 176.6h0.7M267.98 164.03h0.7M278.08 178.35h0.7M255.92 180.22h0.7M262.78 168.38h0.7M265.53 161.64h0.7M279.2 168.61h0.7M272.23 184.97h0.7M277.72 165.87h0.7M269.9 171.04h0.7M268.31 165.18h0.7M271.09 184.97h0.7M284.85 178.73h0.7M279.93 173.07h0.7M256.41 163.3h0.7M273.09 172.14h0.7M264.66 177.99h0.7M243.16 153.47h0.7M285.19 170.57h0.7M261.81 179.1h0.7M281.93 171.67h0.7M251.63 192.55h0.7M265.96 185.69h0.7M272.77 165.56h0.7M275.47 169.1h0.7M261.91 173.78h0.7M274.05 166.47h0.7M272.76 168.59h0.7M282.85 177.38h0.7M276.48 166.47h0.7M274.65 161.93h0.7M276.23 160.45h0.7M285.7 177.77h0.7M280.35 177.76h0.7M272.6 190.84h0.7M258.12 178.8h0.7M273.58 175.33h0.7M281.22 182.01h0.7M270.92 180.48h0.7M277.17 171.8h0.7M286.4 166.73h0.7M279.09 169.68h0.7M272.39 165.02h0.7M251.13 179.46h0.7M265.64 167.05h0.7M276.35 171.76h0.7M259.67 174.51h0.7M274.42 176.35h0.7M287.11 171.75h0.7M252.12 160.78h0.7M261.57 181.9h0.7M261.45 169.9h0.7M267.42 157.45h0.7M275.84 175.39h0.7M282.53 172.7h0.7M274.53 175.17h0.7M261.78 156.53h0.7M267.12 174.17h0.7M272.86 172.54h0.7M271.93 178.82h0.7M275.26 166.41h0.7M276.08 166.68h0.7M263.62 174.68h0.7M265.41 166.32h0.7M243.48 162.91h0.7M272.73 156h0.7M259.68 186.96h0.7M274.22 156.29h0.7M284.17 158.89h0.7M279.47 166.32h0.7M267.32 175.53h0.7M253.39 176.53h0.7M266.11 180.2h0.7M262.76 179.36h0.7M264.16 172.92h0.7M280.45 175.25h0.7M266.56 174.24h0.7M272.56 177.27h0.7M282.38 183.6h0.7M277.14 175.72h0.7M282.05 176.12h0.7M270.83 175.08h0.7M274.86 168.39h0.7M275.33 166.79h0.7M273.85 181.92h0.7M271.12 171.65h0.7M280.24 177.13h0.7M243.24 149.35h0.7M287.5 176.47h0.7M280.58 173.27h0.7M265.59 174.01h0.7M263.87 181.94h0.7M242.66 168.61h0.7M270.6 172.81h0.7M269.39 175.02h0.7M265.6 176.61h0.7M278.73 181.57h0.7M267.87 182.28h0.7M248.7 171.42h0.7M271.1 183.59h0.7M265.36 163.53h0.7M273.85 173.5h0.7M282.28 175.22h0.7M277.49 173.97h0.7M270.55 167.4h0.7M272.86 170.88h0.7M274.42 179.16h0.7M266.44 162.78h0.7M262.47 178.14h0.7M250.29 169.29h0.7M268.03 170.21h0.7M275.74 169.7h0.7M260.24 172.1h0.7M269.9 181.3h0.7M267.26 178.75h0.7M271.4 160.48h0.7M270.31 176.21h0.7M268.33 159.7h0.7M267.45 172.02h0.7M272.98 178.1h0.7M249.09 150.7h0.7M284.32 158.63h0.7M271.12 172.41h0.7M278.75 171.5h0.7M283.25 174.46h0.7M272.5 176.67h0.7M257.36 166.75h0.7M265.93 155.24h0.7M265.91 169.95h0.7M254.29 176.22h0.7M263.5 156.78h0.7M280.58 166.67h0.7M257.75 183.59h0.7M270.91 170.12h0.7M286.21 170.04h0.7M283.61 164.45h0.7M273.34 176.64h0.7M277.33 182.01h0.7M273.83 171.91h0.7M270.55 181.05h0.7M267.72 173.45h0.7M264.09 168.71h0.7M286.41 168.48h0.7M272.03 169.1h0.7M267.44 172.34h0.7M262.47 157.49h0.7M256.46 178.76h0.7M251.56 173.34h0.7M258.54 166.59h0.7M266.2 169.98h0.7M258.73 174.96h0.7M271.05 179.09h0.7M270.18 172.48h0.7M260.61 165.66h0.7M286.64 173.26h0.7M266.2 179.57h0.7M263.44 165.12h0.7M262.12 175.1h0.7M258.12 167.4h0.7M282.6 166.88h0.7M268.41 167.15h0.7M273.92 178.72h0.7M271.5 168.67h0.7M279.65 173.87h0.7M286.81 164.82h0.7M270.95 164.46h0.7M277.7 179.94h0.7M280.26 170.44h0.7M282.54 180.84h0.7M279.1 168.49h0.7M281.2 170.47h0.7M260.13 169.23h0.7M275.35 170.53h0.7M279.81 169.05h0.7M283.47 166.84h0.7M241.82 177.69h0.7M263.05 164.58h0.7M267.12 168.33h0.7M286.67 162.92h0.7M278.74 173.69h0.7M258.19 164.76h0.7M275.86 177.64h0.7M275.99 180.73h0.7M286.2 167.3h0.7M256.74 177.76h0.7M284.48 175.45h0.7M258.24 181.13h0.7M269.17 181.21h0.7M261.44 179.87h0.7M256.58 173.64h0.7M287.97 174.66h0.7M279.61 168.36h0.7M245.07 171.96h0.7M277.71 174.46h0.7M267.83 174.16h0.7M257.43 173.78h0.7M274.72 162.03h0.7M247.89 175.18h0.7M273.52 177.74h0.7M279.59 174.56h0.7M265.07 166.8h0.7M268.13 160.85h0.7M285.03 178.78h0.7M260.17 174.41h0.7M267.42 179.04h0.7M253.61 169.7h0.7M260.93 167.31h0.7M247.19 176.52h0.7M263.54 166.6h0.7M258.9 158.5h0.7M287.65 172.36h0.7M259.23 173.01h0.7M281.1 173.04h0.7M269.71 172.57h0.7M263.03 176.38h0.7M263.48 170.21h0.7M242.96 179.07h0.7M267.05 171.25h0.7M262.46 176.78h0.7M279.11 169.7h0.7M270.72 168.87h0.7M283.63 168.51h0.7M246.27 187.46h0.7M281.12 172.8h0.7M279.47 150.25h0.7M258.62 176.83h0.7M265.11 163.71h0.7M282.5 164.09h0.7M271.22 182.67h0.7M271.84 185.1h0.7M284.7 177.89h0.7M274.8 178.45h0.7M269.38 174.85h0.7M274.21 180.5h0.7M274.14 157.49h0.7M260.33 180.31h0.7M285.42 190.41h0.7M246.73 175.92h0.7M251.15 172.33h0.7M271.12 185.76h0.7M275.25 169.21h0.7M270.98 175.69h0.7M263.85 170.22h0.7M279.82 171.53h0.7M263.49 171.62h0.7M278.71 161.92h0.7M275.28 161.19h0.7M269.47 168.26h0.7M281.27 168.63h0.7M251.14 169.42h0.7M277.6 173.01h0.7M275.47 179.21h0.7M269.92 154.04h0.7M286.07 166.04h0.7M275.32 177.91h0.7M270.77 175.29h0.7M252.27 163.31h0.7M253.12 174.93h0.7M281.75 157.02h0.7M254.4 173.49h0.7M269.66 166.18h0.7M269.78 176.81h0.7M261.36 172.57h0.7M266.96 180.67h0.7M264.88 174.24h0.7M271.23 173.13h0.7M279.33 181.27h0.7M271.36 173.84h0.7M278.85 164.88h0.7M287.09 181.04h0.7M265.9 184.31h0.7M265.86 173.72h0.7M262.52 167.21h0.7M260.76 159.91h0.7M252.43 161.77h0.7M265.27 178.61h0.7M280.66 161.54h0.7M280.61 163.66h0.7M270.81 171.95h0.7M273.71 182.46h0.7M269.96 175.12h0.7M264.76 186.05h0.7M269.4 174.68h0.7M271.19 173.04h0.7M253.2 159.54h0.7M245.37 177.79h0.7M264.03 179.53h0.7M255.11 179.65h0.7M280.63 160.95h0.7M282.85 180.72h0.7M271.65 169.08h0.7M270.78 157.21h0.7M269.83 179.23h0.7M284.51 166.77h0.7M249.9 158.9h0.7M281.39 179.83h0.7M261.86 179.37h0.7M278.16 170.76h0.7M247.81 155.04h0.7M284.44 156.96h0.7M268.38 180.9h0.7M273.16 167.45h0.7M268.25 159.84h0.7M285.3 166.69h0.7M283.76 161.63h0.7M281.34 169.12h0.7M257.25 180.6h0.7M274.96 157.82h0.7M266.87 173.47h0.7M276.62 174.49h0.7M281.36 177.63h0.7M271.49 179.17h0.7M278.27 174.69h0.7M271.07 167.72h0.7M265.47 168.12h0.7M272.26 172.64h0.7M264.19 172.2h0.7M269.91 176.13h0.7M268.1 170.71h0.7M274.52 175.36h0.7M280.5 169.37h0.7M280.63 166.46h0.7M276.72 180.59h0.7M274.53 166.53h0.7M286.95 169.79h0.7M269.04 170.38h0.7M260.16 170.4h0.7M255.56 185.2h0.7M275.45 173.39h0.7M243.61 165.06h0.7M283.02 185.97h0.7M269.45 182.04h0.7M271.05 178.44h0.7M271.36 176h0.7M258.44 172.88h0.7M256.03 148.58h0.7M273.24 166.27h0.7M279.24 169.63h0.7M281.01 176.68h0.7M274.75 182.06h0.7M271.82 177.96h0.7M271.2 169.79h0.7M266.03 167.09h0.7M276.93 181.58h0.7M270.47 165.44h0.7M261.61 178.38h0.7M267.51 154.04h0.7M262.76 173.5h0.7M261.17 173.04h0.7M269.84 168.65h0.7M287.08 177.94h0.7M266.44 175.53h0.7M267.34 169.24h0.7M265.54 170.27h0.7M273.57 171.2h0.7M270.31 162.9h0.7M272.93 169.89h0.7M262.99 171.18h0.7M274.53 178.27h0.7M283.76 185.28h0.7M269.37 171.67h0.7M246.05 150.42h0.7M282.81 174.68h0.7M251.25 179.15h0.7M268.05 173.07h0.7M278.01 180.5h0.7M250.24 168.94h0.7M265.65 177.46h0.7M260.92 174.36h0.7M280.08 168.19h0.7M287.49 167.34h0.7M284.67 175.22h0.7M248.2 173.42h0.7M255.77 174.11h0.7M277.74 168.61h0.7M270.83 166.33h0.7M244.13 154.19h0.7M273.05 169.35h0.7M267.75 176.09h0.7M282.22 149.45h0.7M278.44 166.4h0.7M275.63 177.58h0.7M280.81 186.65h0.7M266.45 164.9h0.7M278.81 167.62h0.7M279.3 174.39h0.7M266.8 166.4h0.7M277.68 167.03h0.7M245.72 152.81h0.7M283.99 191.61h0.7M248.57 173.42h0.7M273.83 169.8h0.7M257.06 176.54h0.7M265.39 173.47h0.7M265.86 158.23h0.7M273.35 175.4h0.7M273.74 171.32h0.7M277.98 173.26h0.7M263.51 174.82h0.7M279.3 167.21h0.7M266.41 150.2h0.7M280.89 178.66h0.7M256.22 162h0.7M275.49 159.5h0.7M264.36 170.9h0.7M267.75 175h0.7M262.33 176.02h0.7M254.35 188.28h0.7M279.75 169.52h0.7M268.32 169.2h0.7M269.06 170.63h0.7M280.74 176.4h0.7M270.64 163.13h0.7M268.72 177.76h0.7M281.48 173.38h0.7M269.05 178.93h0.7M270.28 171.18h0.7M285.82 188.99h0.7M260.3 179.01h0.7M286.53 172.53h0.7M258.6 169.16h0.7M278.72 172.76h0.7M255.48 170.15h0.7M262.24 177.28h0.7M265.75 172.36h0.7M269.69 172.96h0.7M276.55 168.41h0.7M275.77 170.82h0.7M254.78 173.24h0.7M275.74 184.64h0.7M263.91 158.49h0.7M266.1 182.84h0.7M250.46 172.91h0.7M283.34 175.55h0.7M278.41 174.09h0.7M262.19 164.26h0.7M282.94 173.14h0.7M252.82 184.66h0.7M271.37 165.62h0.7M265.46 148.97h0.7M261.82 169.88h0.7M272.36 168.95h0.7M267.51 180.86h0.7M262.97 163.42h0.7M278.33 168.49h0.7M274.37 175.72h0.7M271.43 165.06h0.7M287.2 165.43h0.7M269.38 180.86h0.7M264.07 176.44h0.7M282.69 171.27h0.7M250.54 175.33h0.7M274.58 172.55h0.7M275.41 175.99h0.7M271.66 174.35h0.7M274.75 165.21h0.7M258.09 174.17h0.7M283.43 174.85h0.7M264.52 177.47h0.7M276.14 169.3h0.7M266.37 182.09h0.7M271.05 171.17h0.7M276.77 170.44h0.7M276.8 170.36h0.7M251.1 171.45h0.7M270.08 158.48h0.7M272.46 172.35h0.7M254.31 182.68h0.7M258.86 169.15h0.7M265.51 174.13h0.7M259.34 175.01h0.7M273.98 180.32h0.7M272.89 185.71h0.7M254.44 174.25h0.7M262.09 180.51h0.7M270.8 180.18h0.7M254.8 191.42h0.7M273.01 180.4h0.7M271.25 170.98h0.7M268.62 167.75h0.7M284.79 168.17h0.7M272.84 173.78h0.7M265.58 164.64h0.7M272.07 182.82h0.7M264.26 168.54h0.7M277.48 172.73h0.7M269.43 169.75h0.7M263.56 170.99h0.7M278.09 178.23h0.7M256.27 164.49h0.7M272.95 179.09h0.7M280.44 185.66h0.7M251.32 171.76h0.7M280.38 182.97h0.7M265.84 176.76h0.7M276.54 181.24h0.7M275.89 175.99h0.7M284.37 167.42h0.7M251.94 173.02h0.7M280.95 170.45h0.7M271.29 188.8h0.7M281.81 172.61h0.7M280.32 190.55h0.7M255.51 167.36h0.7M262.57 170.44h0.7M263.06 168.18h0.7M273.83 175.36h0.7M275.81 179.03h0.7M274.69 172.59h0.7M274.94 161.01h0.7M286 187.03h0.7M273.25 169.09h0.7M257.63 170.38h0.7M263.41 164.25h0.7M266.46 184.26h0.7M273.61 168.72h0.7M270.3 172.77h0.7M271.86 182.92h0.7M272.95 169.95h0.7M281.07 168.29h0.7M265.78 176.08h0.7M269.86 168.83h0.7M270 177.74h0.7M285.4 162.16h0.7M262.96 182.12h0.7M254.89 163.08h0.7M276.74 163.43h0.7M266.88 169.6h0.7M277.52 181.36h0.7M271.26 169.27h0.7M265.07 179.26h0.7M282.79 172.98h0.7M272.21 191.06h0.7M272.71 178.72h0.7M287.32 166.84h0.7M278.75 163.56h0.7M276.5 175.66h0.7M245.68 165.83h0.7M286.13 168.11h0.7M260.26 165.93h0.7M265.14 174.49h0.7M276.92 165.31h0.7M264.38 166.7h0.7M268.53 176.51h0.7M266.16 176.2h0.7M269.03 177.14h0.7M277.14 166.43h0.7M257.74 171.5h0.7M255.38 178.52h0.7M270.86 175.33h0.7M277.12 170.29h0.7M271.89 171.09h0.7M283.39 179.61h0.7M267.26 166.31h0.7M276.34 170.68h0.7M265.85 169.02h0.7M254.83 167.12h0.7M246.82 161.63h0.7M287.92 175.53h0.7M276.34 177.03h0.7M266.46 163.87h0.7M277.37 172.08h0.7M274.34 185.02h0.7M284 169.39h0.7M272.5 168.22h0.7M268.26 161.44h0.7M282.48 180.7h0.7M276.78 173.03h0.7M269.42 170.44h0.7M281.39 169.51h0.7M265.77 163.78h0.7M277.83 166.72h0.7M265 174.86h0.7M277.3 163.15h0.7M266.28 177.41h0.7M279.27 176.58h0.7M257.18 166.57h0.7M281.66 176.32h0.7M271.78 163.87h0.7M267.07 173.98h0.7M276.55 154.26h0.7M287.06 172.09h0.7M246.5 176.84h0.7M281.26 180.2h0.7M270.81 164.66h0.7M257.83 172.68h0.7M272.38 192.23h0.7M282.72 181.26h0.7M281.23 178.53h0.7M271.13 168.37h0.7M273.16 174.06h0.7M275.08 166.88h0.7M276.28 174.14h0.7M269.99 172.5h0.7M256.91 165.88h0.7M283.24 168.79h0.7M259.51 184.65h0.7M261.57 176.02h0.7M281.36 170.46h0.7M267.68 163.47h0.7M277.15 171.37h0.7M264.03 182.74h0.7M262.18 171.27h0.7M254.32 174.22h0.7M265.86 164.59h0.7M287.27 173.7h0.7M252.64 167.04h0.7M272.64 171.06h0.7M278.23 162.29h0.7M271.71 160.71h0.7M252.46 163h0.7M268.26 174.3h0.7M286.23 178.91h0.7M283.61 171.13h0.7M271.06 168.62h0.7M260.57 156.63h0.7M273.47 175.65h0.7M269.73 172.87h0.7M268.63 166.37h0.7M274.09 174.62h0.7M280.68 171.16h0.7M261.81 174.63h0.7M270.48 183.59h0.7M272.47 176.29h0.7M256.15 163.89h0.7M271.87 169.89h0.7M264.44 169.63h0.7M268.22 169.28h0.7M262.44 164.61h0.7M282.16 174.71h0.7M277.59 184.89h0.7M280.29 167.72h0.7M285.86 171.59h0.7M263.17 168.26h0.7M279.01 174.53h0.7M252.47 175.19h0.7M263.61 162.02h0.7M276.94 173.85h0.7M252.64 172.23h0.7M280.32 163.55h0.7M273.34 178.44h0.7M285.62 159.41h0.7M278.75 181.58h0.7M252.77 188.2h0.7M265.9 182.78h0.7M277.85 168.6h0.7M280.71 167.88h0.7M282.42 171.06h0.7M276.72 176.44h0.7M266.99 179.94h0.7M277.87 173.79h0.7M267.33 169.59h0.7M287.84 158.94h0.7M271.58 173.74h0.7M279.46 179.54h0.7M256.46 179.11h0.7M273.65 157.11h0.7M277.26 174.01h0.7M265.91 171.6h0.7M281.48 166.55h0.7M272.87 170.37h0.7M279.44 163.43h0.7M267.07 168.06h0.7M259.92 178.67h0.7M258.46 168.03h0.7M276.95 173.77h0.7M253.53 175.28h0.7M263.2 165h0.7M284.08 177.37h0.7M264.4 176.94h0.7M279.66 171.6h0.7M272.36 176.37h0.7M265.12 166.58h0.7M264.14 164.15h0.7M265.49 157.13h0.7M268.2 187.43h0.7M262.98 168.88h0.7M260.56 157.27h0.7M258.73 174.16h0.7M264.73 181.09h0.7M283.99 171.24h0.7M277.87 166.78h0.7M264.02 185.32h0.7M273.82 170.59h0.7M282.75 166.11h0.7M280.73 182.62h0.7M280.32 179.82h0.7M278.43 183.8h0.7M280.49 165.44h0.7M271.61 167.49h0.7M260.22 172.94h0.7M256.45 151.14h0.7M267.92 176.62h0.7M268.1 173.3h0.7M265.2 169.35h0.7M276.82 167.36h0.7M256.62 186.74h0.7M267.22 168.33h0.7M260.09 172.58h0.7M264.79 172.08h0.7M269.88 180.57h0.7M275.11 173.88h0.7M286.63 178.03h0.7M277.87 163.44h0.7M267.86 165.59h0.7M253.57 177.31h0.7M246.17 172.32h0.7M279.36 163.8h0.7M266.32 154.45h0.7M263.94 165.6h0.7M286.42 167.94h0.7M279.21 168.14h0.7M252.4 156.49h0.7M267.98 163.43h0.7M269.89 180.27h0.7M258.06 181.98h0.7M256.14 176.32h0.7M261.91 178.77h0.7M276.02 167.18h0.7M273.58 179.8h0.7M262.24 165.82h0.7M268.99 167.61h0.7M282.02 176.25h0.7M266.88 163.91h0.7M270.69 169.17h0.7M264.49 176.73h0.7M285.13 174.24h0.7M272.52 177h0.7M266.41 168.61h0.7M271.18 164.57h0.7M263.27 180.49h0.7M285.35 175.65h0.7M275.67 169.66h0.7M253.51 172.82h0.7M268.18 171.17h0.7M268.66 175.17h0.7M271.74 165.67h0.7M265.58 169.12h0.7M278.63 164.97h0.7M265.15 165.19h0.7M282.62 164.92h0.7M273.9 174.58h0.7M272.97 161.64h0.7M267.13 171.52h0.7M279.98 161.19h0.7M275.57 171.54h0.7M266.65 165.42h0.7M265.08 168.79h0.7M277.2 171.52h0.7M275.97 168.33h0.7M246.39 170.02h0.7M268.01 168.39h0.7M272.33 172.37h0.7M275.22 175.09h0.7M275.85 179.04h0.7M270.19 173.39h0.7M277.61 174.19h0.7M261.9 178.86h0.7M252.33 179.37h0.7M263.66 168.06h0.7M248.65 156.3h0.7M273.56 181.2h0.7M282.97 181.33h0.7M258.86 169.43h0.7M271.97 172.73h0.7M284.82 163.2h0.7M283.16 175.78h0.7M267.94 171.62h0.7M261.18 169.83h0.7M259.31 169.67h0.7M264.26 157.58h0.7M269.53 172.27h0.7M284.48 173.43h0.7M280.05 172.38h0.7M274.48 187.17h0.7M261.75 166.91h0.7M277.17 178.31h0.7M251.68 163.04h0.7M263.46 170.27h0.7M270.81 176.54h0.7M241.52 148.32h0.7M268.8 181h0.7M279.79 172.62h0.7M270.75 180.71h0.7M274.62 174.42h0.7M260.67 157.95h0.7M258.85 166.92h0.7M273.79 182.05h0.7M270.19 158.17h0.7M283.39 181.69h0.7M265.25 174.41h0.7M269.76 174.04h0.7M251.3 156.97h0.7M275.72 158.96h0.7M255.5 185.66h0.7M273.48 176.11h0.7M264.15 167.5h0.7M263.87 176.56h0.7M260.72 166.01h0.7M271.28 183.04h0.7M265.04 184.76h0.7M256.42 187.38h0.7M270.8 179.07h0.7M285.64 152.23h0.7M263.96 174.78h0.7M274.86 179.35h0.7M277.5 171.51h0.7M264.06 168.89h0.7M284.5 168.18h0.7M277.4 160.37h0.7M278.29 174.05h0.7M262.21 166.05h0.7M253.02 165.47h0.7M268.81 164.12h0.7M276.75 173.93h0.7M275.82 172.02h0.7M282.97 178.52h0.7M272.4 174.17h0.7M276.38 168.6h0.7M250.85 172.83h0.7M280.96 186.13h0.7M276.86 161.07h0.7M281.4 179.79h0.7M244.32 170.54h0.7M278.27 154.06h0.7M278.97 193.55h0.7M273.33 165.52h0.7M262.32 175.08h0.7M243.39 188.35h0.7M263 165.2h0.7M279.73 165.34h0.7M284.09 180.11h0.7M271.88 176.08h0.7M265.79 169.06h0.7M268.71 166.79h0.7M266.51 177.77h0.7M271.23 175.17h0.7M272.46 188.4h0.7M277.18 168.93h0.7M255.6 171.28h0.7M257.9 166.84h0.7M265.51 163.32h0.7M278.67 183.12h0.7M265.92 163.44h0.7M265.46 171h0.7M279.72 166.06h0.7M259.34 179.39h0.7M265.43 180.44h0.7M244.29 163.65h0.7M272.94 180.44h0.7M266.23 173.36h0.7M261.67 175.32h0.7M259.33 172.92h0.7M269.03 174.51h0.7M274.7 169.28h0.7M273.95 152.07h0.7M275.54 168.69h0.7M287.77 178.37h0.7M268.33 172.15h0.7M280.9 169.88h0.7" stroke="#bcb410" stroke-width="0.7" fill="none" opacity="0.75"/>
<text x="276.2" y="156.4" font-size="7.6" font-weight="bold" text-anchor="start" fill="#d6ce20" stroke="#d6ce20" stroke-width="0.15" >Fe</text>
<text x="159" y="162.3" font-size="11" font-weight="bold" text-anchor="start" fill="#fff" >1.2Fe</text>
<text x="160.8" y="265.8" font-size="11.3" font-weight="bold" text-anchor="start" fill="#fff" >50 nm</text>
<rect x="166.2" y="270.4" width="22.4" height="1.5" fill="#fff" stroke="none" stroke-width="1" />
<text x="-0.6" y="15.3" font-size="21.5" font-weight="bold" text-anchor="start" fill="#000" stroke="#000" stroke-width="0.3" >a</text>
</g>
<g id="pb">
<clipPath id="pbc"><rect x="323.5" y="19.5" width="143.0" height="99.0"/></clipPath><g clip-path="url(#pbc)" stroke-linejoin="round">
<path d="M323.4 107.4l20.2-.1 13-.4 3.6-.2 3.6-.4 1.4-.4 .7-.5 .8-2.7 .7-3.7 .7-2.7 1.5-4 .7-1.2 .7-.9 1.4-1.4 2.9-2.2 .7-.8 .8-1.1 1.4-2.9 1.4-4.3 2.2-5.4 2.2-4.7 1.4-2.7 2.2-3.6 4.3-6.1 2.2-3.5 .7-.9 .7-.5 .7 .1 .8 .7 2.1 3.5 .7 1.1 .8 .6 2.1 1.3 1.5 .3 1.4-.3 3.6-1.5 1.5-.4 7.9-.6 1.4-.5 4.4-2.2 1.4-.5 .7-.1 12.3 0 3.6 .3 6.5 1 4.3 .7 7.2 1.5 6.5 1.6" fill="none" stroke="#f8c79a" stroke-width="1" />
<path d="M323.4 107.4l28.1-.3 6.5-.3 5.1-.4 3.6-.9 1.4-.7 3.6-2.4 1.5-1.3 .7-.8 .7-.9 .7-1.5 .7-2.1 1.5-5.1 .7-3.2 2.9-16 2.9-18.2 1.4-7 .7-2.2 .8-1.7 2.1-4.4 2.2-6.3 .7-1.3 .7-.2 .7 1.2 2.2 7 2.2 8.2 .7 1.8 .7 1.5 .7 1.2 1.5 2.1 2.9 2.6 1.4 .8 .7 .1 .7-.2 .8-.4 4.3-4.2 .7-.4 .7-.2 .8 .1 .7 .4 .7 .6 2.9 3 .7 .5 2.9 1.7 1.4 .6 1.5 .3 2.1 0 7.3-.7 2.1-.3 2.9-.7 2.9-1 2.1-1 1.5-1 3.6-3.7 1.4-1.1 2.9-1.4 2.2-.8 1.4-.3 1.5 0 2.9 .5 1.4 .4 1.4 .7 2.2 1.3" fill="none" stroke="#6f9ff2" stroke-width="1" />
<path d="M323.4 107.4l24.5-.2 7.9-.2 4.4-.3 4.3-.5 2.9-.5 2.9-2 .7-.3 1.4 0 2.2 .5 1.4 .1 .8-.2 1.4-1.3 1.4-1.7 .8-1.1 .7-1.5 .7-1.7 .7-2.4 .8-3 2.1-11.2 2.2-14.7 1.4-8.3 2.2-9.9 1.4-5.5 1.5-4.4 1.4-3.7 .7-1.5 1.5-2.3 .7-1 .7-.6 .7-.2 .8 .8 .7 1.6 1.4 3.9 .7 1.5 3.6 4.4 .8 1.2 2.9 5.6 2.1 3.5 .7 .9 .8 .4 .7-.1 2.9-.8 .7-.1 .7 .1 .7 .3 1.5 .9 2.9 2.3 4.3 3.8 1.4 1 3.6 1.9 2.2 .8 2.2 .4 2.8-.2 3.6-.7 3.7-1.2 2.1-1.4 5.1-4.4 5-3.7 1.5-.8 1.4-.6 2.2-.7 1.4-.2" fill="none" stroke="#8c8c8c" stroke-width="1" />
<path d="M323.4 107.4l23.1-.2 8.6-.2 3.6-.2 5.1-.5 2.9-.4 1.4-.6 2.2-1.4 .7-.2 1.4 0 2.9 .3 .7-.1 .8-.6 1.4-2 1.4-2.5 1.5-3.5 .7-2.3 .7-2.7 1.5-6.7 .7-4.3 2.9-20.8 2.1-10.9 1.5-5.8 .7-2.3 2.2-4.8 .7-1.2 .7-.7 .7-.2 .8 .4 2.8 2.9 4.4 2.9 1.4 1.2 1.4 1.7 2.9 4.1 1.5 1.9 3.6 3.6 2.9 2.4 4.3 3 2.9 1.5 4.3 1.6 3.6 1.1 2.9 .5 2.2 0 2.8-.5 3.6-1.1 2.9-1 1.5-.7 5-3.8 2.2-1.3 5.8-2.3 2.8-.9 2.2-.4" fill="none" stroke="#e3958c" stroke-width="1" />
<path d="M323.4 107.4l24.5-.2 7.9-.2 4.4-.3 4.3-.5 2.2-.3 1.4-.6 2.2-1.3 .7-.3 4.3-.3 .7-.5 .8-.9 2.1-3.8 1.5-3.5 1.4-4.6 1.5-5.8 .7-4.1 2.9-21 .7-4.1 1.4-6.7 1.5-5.6 .7-2.3 2.1-4.7 .8-1.1 .7-.6 .7 .1 .7 .2 2.9 1.9 4.3 2.1 1.5 .9 1.4 1.3 4.4 5.7 2.1 2.4 3.6 3.5 2.9 2.2 2.9 1.9 2.9 1.6 3.6 1.2 2.9 .9 2.9 .4 2.1-.1 3.6-.5 3.6-.9 4.4-1.4 2.1-1.1 3.6-2.3 2.2-1.1 5.8-1.9 2.8-.7 2.2-.3" fill="none" stroke="#a5d8a5" stroke-width="1" />
<path d="M323.4 107.4l23.1-.2 8.6-.2 3.6-.2 5.1-.5 2.9-.4 1.4-.6 2.2-1.4 .7-.2 1.4 0 2.9 .3 .7-.1 .8-.5 1.4-1.8 1.4-2.2 1.5-3.3 1.4-4.5 2.2-9.6 3.6-22.5 2.2-9.8 1.4-5.3 .7-2 1.5-3.3 .7-1.3 .7-.7 .7-.1 1.5 .6 5 2.9 2.2 1.4 2.1 1.9 3.7 3.7 2.8 2.6 2.9 2.3 3.6 2.4 2.9 1.6 2.9 1.3 4.3 1.4 2.9 .8 2.2 .2 1.4 0 2.2-.3 2.1-.5 7.3-2.3 6.4-3.4 3.6-1.3 2.2-.6 1.5-.2 5-.2" fill="none" stroke="#c4aee0" stroke-width="1" />
</g>
<rect x="323.5" y="19.5" width="143" height="99" fill="none" stroke="#222" stroke-width="1" />
<path d="M323.5 118.5L323.5 121.9M337.8 118.5L337.8 120.4M352.1 118.5L352.1 121.9M366.4 118.5L366.4 120.4M380.7 118.5L380.7 121.9M395 118.5L395 120.4M409.3 118.5L409.3 121.9M423.6 118.5L423.6 120.4M437.9 118.5L437.9 121.9M452.2 118.5L452.2 120.4M466.5 118.5L466.5 121.9" stroke="#222" stroke-width="0.9" fill="none"/>
<text x="323.5" y="131.6" font-size="10.4" font-weight="bold" text-anchor="middle" fill="#1a1a1a" stroke="#1a1a1a" stroke-width="0.3" >7080</text>
<text x="352.1" y="131.6" font-size="10.4" font-weight="bold" text-anchor="middle" fill="#1a1a1a" stroke="#1a1a1a" stroke-width="0.3" >7100</text>
<text x="380.7" y="131.6" font-size="10.4" font-weight="bold" text-anchor="middle" fill="#1a1a1a" stroke="#1a1a1a" stroke-width="0.3" >7120</text>
<text x="409.3" y="131.6" font-size="10.4" font-weight="bold" text-anchor="middle" fill="#1a1a1a" stroke="#1a1a1a" stroke-width="0.3" >7140</text>
<text x="437.9" y="131.6" font-size="10.4" font-weight="bold" text-anchor="middle" fill="#1a1a1a" stroke="#1a1a1a" stroke-width="0.3" >7160</text>
<text x="466.5" y="131.6" font-size="10.4" font-weight="bold" text-anchor="middle" fill="#1a1a1a" stroke="#1a1a1a" stroke-width="0.3" >7180</text>
<text x="386" y="146.8" font-size="10.6" font-weight="bold" text-anchor="middle" fill="#1a1a1a" stroke="#1a1a1a" stroke-width="0.3" >Energy (eV)</text>
<text transform="translate(314.6 69) rotate(-90)" font-size="10.6" font-weight="bold" text-anchor="middle" fill="#1a1a1a" stroke="#1a1a1a" stroke-width="0.3" >Normalized Xμ(E)</text>
<line x1="327.4" y1="26" x2="339.7" y2="26" stroke="#f8c79a" stroke-width="1" />
<text x="342.6" y="28.9" font-size="8.8" font-weight="bold" text-anchor="start" fill="#1a1a1a" stroke="#1a1a1a" stroke-width="0.3" >Fe foil</text>
<line x1="327.4" y1="37.7" x2="339.7" y2="37.7" stroke="#6f9ff2" stroke-width="1" />
<text x="342.6" y="40.6" font-size="8.8" font-weight="bold" text-anchor="start" fill="#1a1a1a" stroke="#1a1a1a" stroke-width="0.3" >FeO</text>
<line x1="327.4" y1="49.9" x2="339.7" y2="49.9" stroke="#8c8c8c" stroke-width="1" />
<text x="342.6" y="52.8" font-size="8.8" font-weight="bold" text-anchor="start" fill="#1a1a1a" stroke="#1a1a1a" stroke-width="0.3" >α-Fe<tspan font-size="6.2" dy="2">2</tspan><tspan dy="-2">O</tspan><tspan font-size="6.2" dy="2">3</tspan></text>
<line x1="327.4" y1="63.6" x2="339.7" y2="63.6" stroke="#e3958c" stroke-width="1" />
<text x="342.6" y="66.5" font-size="8.8" font-weight="bold" text-anchor="start" fill="#1a1a1a" stroke="#1a1a1a" stroke-width="0.3" >0.4Fe</text>
<line x1="327.4" y1="75" x2="339.7" y2="75" stroke="#a5d8a5" stroke-width="1" />
<text x="342.6" y="77.9" font-size="8.8" font-weight="bold" text-anchor="start" fill="#1a1a1a" stroke="#1a1a1a" stroke-width="0.3" >0.6Fe</text>
<line x1="327.4" y1="86.7" x2="339.7" y2="86.7" stroke="#c4aee0" stroke-width="1" />
<text x="342.6" y="89.6" font-size="8.8" font-weight="bold" text-anchor="start" fill="#1a1a1a" stroke="#1a1a1a" stroke-width="0.3" >1.2Fe</text>
<text x="293.4" y="15.6" font-size="22" font-weight="bold" text-anchor="start" fill="#000" stroke="#000" stroke-width="0.3" >b</text>
</g>
<g id="pc">
<defs>
<linearGradient id="gp" x1="0" y1="0" x2="0" y2="1" gradientUnits="objectBoundingBox"><stop offset="0" stop-color="#c6b8de"/><stop offset="1" stop-color="#e8e2f1"/></linearGradient>
<linearGradient id="gg" x1="0" y1="0" x2="0" y2="1"><stop offset="0" stop-color="#bdbdbd"/><stop offset="1" stop-color="#ececec"/></linearGradient>
<linearGradient id="gb" x1="0" y1="0" x2="0" y2="1"><stop offset="0" stop-color="#a9c8f5"/><stop offset="1" stop-color="#e3ecfb"/></linearGradient>
</defs>
<path d="M580.6 61.6l5.2-.3 3.4-.3 3.5-.7 1.7-.5 1.7-.6 3.5-1.6 8.6-4.9 1.7-.8 1.7-.5 1.7-.3 1.8 0 1.7 .3 1.7 .5 3.5 1.7 6.8 4 3.5 1.6 1.7 .6 1.7 .5 3.5 .7 3.4 .3 5.2 .3z" fill="url(#gp)" fill-opacity="0.85"/>
<path d="M594.4 61.6l0-.1 5.2-.3 3.4-.5 3.5-1 1.7-.7 1.7-.9 3.5-2.4 6.8-6 1.8-1.3 1.7-1.1 1.7-.8 1.7-.4 1.8 0 1.7 .4 1.7 .8 1.7 1.1 1.8 1.3 6.8 6 3.5 2.4 1.7 .9 1.7 .7 3.5 1 3.4 .5 5.2 .3 0 .1z" fill="url(#gg)" fill-opacity="0.85"/>
<line x1="527.5" y1="61.8" x2="674.5" y2="61.8" stroke="#555" stroke-width="1.1" />
<path d="M527.5 61.5l31.6-.2 12.8-.3 4.9-.2 4-.3 3.9-.6 3-.5 2-.6 1.9-.8 1-.5 1-.6 2-2 2.9-3.4 2-1.9 4-3.4 1.9-1.4 2-1.2 3-1.6 2.9-1.1 5-1.6 1.9-.4 2-.2 1 0 2 .4 2.9 1.1 1 .6 2 1.8 2.9 3.1 6.9 6.5 3 2 3.9 2 4 1.4 4.9 1.1 16.8 2.6" fill="none" stroke="#9a7fc8" stroke-width="1" />
<path d="M527.5 61.5l31.6-.2 12.8-.3 4.9-.2 4-.3 3.9-.6 3-.5 2-.6 1.9-.8 1-.5 1-.6 2-2 2.9-3.4 2-1.9 4-3.4 1.9-1.4 2-1.2 3-1.6 2.9-1.1 5-1.6 1.9-.4 2-.2 1 0 2 .4 2.9 1.1 1 .6 2 1.8 2.9 3.1 6.9 6.5 3 2 3.9 2 4 1.4 4.9 1.1 16.8 2.6" fill="none" stroke="#111" stroke-width="1" stroke-dasharray="4 2.6"/>
<text x="519.9" y="65.2" font-size="10.3" font-weight="bold" text-anchor="end" fill="#111" stroke="#111" stroke-width="0.3" >0.00</text>
<text x="519.9" y="45.2" font-size="10.3" font-weight="bold" text-anchor="end" fill="#111" stroke="#111" stroke-width="0.3" >0.02</text>
<text x="519.9" y="25.2" font-size="10.3" font-weight="bold" text-anchor="end" fill="#111" stroke="#111" stroke-width="0.3" >0.04</text>
<path d="M523.1 61.6L527.5 61.6M525 51.6L527.5 51.6M523.1 41.6L527.5 41.6M525 31.6L527.5 31.6M523.1 21.6L527.5 21.6" stroke="#222" stroke-width="0.9" fill="none"/>
<text x="672.3" y="44.8" font-size="9.6" font-weight="bold" text-anchor="end" fill="#111" stroke="#111" stroke-width="0.3" >α-Fe<tspan font-size="6.6" dy="2.2">2</tspan><tspan dy="-2.2">O</tspan><tspan font-size="6.6" dy="2.2">3</tspan></text>
<path d="M560.7 111.1l7.8-.4 4.7-.6 4.6-1.3 7.8-2.9 3.2-.7 1.5-.2 1.6 0 3.1 .5 3.1 1 6.3 2.3 4.6 1.3 4.7 .6 7.8 .4z" fill="url(#gb)" fill-opacity="0.85"/>
<path d="M576.9 111.1l0-.1 5.4-.5 3.5-.8 1.8-.7 1.7-.8 1.8-1.2 1.8-1.4 1.8-1.6 1.7-2 7.1-9.2 1.8-2.1 1.8-1.8 1.7-1.2 1.8-.6 1.8 0 1.8 .6 1.7 1.2 1.8 1.8 1.8 2.1 7.1 9.2 1.7 2 1.8 1.6 1.8 1.4 1.8 1.2 1.7 .8 1.8 .7 3.5 .8 5.4 .5 0 .1z" fill="url(#gp)" fill-opacity="0.85"/>
<path d="M597.9 111.1l4.4-.2 2.9-.3 2.8-.6 1.5-.4 1.4-.5 2.9-1.3 7.2-4.2 1.5-.6 1.4-.4 1.5-.3 1.4 0 1.5 .3 1.4 .4 2.9 1.4 5.8 3.4 2.9 1.3 1.4 .5 1.5 .4 2.8 .6 2.9 .3 4.4 .2z" fill="url(#gg)" fill-opacity="0.85"/>
<line x1="527.5" y1="111.3" x2="674.5" y2="111.3" stroke="#555" stroke-width="1.1" />
<path d="M527.5 111l27.6-.1 8.9-.3 3-.3 2.9-.5 4-.9 2.9-.9 4-1.7 1.9-1.1 2-1.4 2-1.9 3.9-4.3 7.9-7 4-4.1 2-1.7 .9-.6 4-1.3 2-.5 1.9-.2 2 .2 2 .7 2 1 2.9 1.9 2 1.9 2 2.4 3.9 5 3 4.2 1.9 2.5 2 1.9 2 1.6 2 1.4 1.9 1.1 4 1.5 1.9 .6 2 .3 5 .4 3.9 .2 14.8 .1" fill="none" stroke="#9a7fc8" stroke-width="1" />
<path d="M527.5 111l27.6-.1 8.9-.3 3-.3 2.9-.5 4-.9 2.9-.9 4-1.7 1.9-1.1 2-1.4 2-1.9 3.9-4.3 7.9-7 4-4.1 2-1.7 .9-.6 4-1.3 2-.5 1.9-.2 2 .2 2 .7 2 1 2.9 1.9 2 1.9 2 2.4 3.9 5 3 4.2 1.9 2.5 2 1.9 2 1.6 2 1.4 1.9 1.1 4 1.5 1.9 .6 2 .3 5 .4 3.9 .2 14.8 .1" fill="none" stroke="#111" stroke-width="1" stroke-dasharray="4 2.6"/>
<text x="519.9" y="114.7" font-size="10.3" font-weight="bold" text-anchor="end" fill="#111" stroke="#111" stroke-width="0.3" >0.00</text>
<text x="519.9" y="95.3" font-size="10.3" font-weight="bold" text-anchor="end" fill="#111" stroke="#111" stroke-width="0.3" >0.02</text>
<text x="519.9" y="75.9" font-size="10.3" font-weight="bold" text-anchor="end" fill="#111" stroke="#111" stroke-width="0.3" >0.04</text>
<path d="M523.1 111.1L527.5 111.1M525 101.4L527.5 101.4M523.1 91.7L527.5 91.7M525 82L527.5 82M523.1 72.3L527.5 72.3" stroke="#222" stroke-width="0.9" fill="none"/>
<text x="671.2" y="98.9" font-size="10" font-weight="bold" text-anchor="end" fill="#111" stroke="#111" stroke-width="0.3" >1.2Fe</text>
<path d="M556.8 161.4l5.2-.2 3.4-.3 3.5-.6 1.7-.4 1.7-.6 3.5-1.3 8.6-4.3 1.7-.7 1.7-.4 1.7-.3 1.8 0 1.7 .3 1.7 .4 3.5 1.5 6.8 3.5 3.5 1.3 1.7 .6 1.7 .4 3.5 .6 3.4 .3 5.2 .2z" fill="url(#gb)" fill-opacity="0.85"/>
<path d="M573.1 161.4l0-.1 5.9-.5 3.9-.7 2-.5 2-.8 2-1 1.9-1.3 2-1.5 2-1.7 7.8-8.3 2-1.8 2-1.6 1.9-1.1 2-.5 2 0 2 .5 1.9 1.1 2 1.6 2 1.8 7.8 8.3 2 1.7 2 1.5 1.9 1.3 2 1 2 .8 2 .5 3.9 .7 5.9 .5 0 .1z" fill="url(#gp)" fill-opacity="0.85"/>
<line x1="527.5" y1="161.6" x2="674.5" y2="161.6" stroke="#555" stroke-width="1.1" />
<path d="M527.5 161.3l18.7-.1 8.9-.5 3-.4 3.9-.8 7.9-2 4-1.4 1.9-1 2-1.1 2-1.5 8.9-7.6 1.9-1.5 2-1.2 3-1.5 7.9-3.4 2.9-.9 2-.3 1 0 2 .5 1.9 .9 3 1.5 2 1.6 8.8 9.1 3 2.6 3 2.2 1.9 1.2 3 1.5 3 1.3 1.9 .6 4 .8 5.9 .9 9.9 .3 11.8 .2" fill="none" stroke="#9a7fc8" stroke-width="1" />
<path d="M527.5 161.3l18.7-.1 8.9-.5 3-.4 3.9-.8 7.9-2 4-1.4 1.9-1 2-1.1 2-1.5 8.9-7.6 1.9-1.5 2-1.2 3-1.5 7.9-3.4 2.9-.9 2-.3 1 0 2 .5 1.9 .9 3 1.5 2 1.6 8.8 9.1 3 2.6 3 2.2 1.9 1.2 3 1.5 3 1.3 1.9 .6 4 .8 5.9 .9 9.9 .3 11.8 .2" fill="none" stroke="#111" stroke-width="1" stroke-dasharray="4 2.6"/>
<text x="519.9" y="165" font-size="10.3" font-weight="bold" text-anchor="end" fill="#111" stroke="#111" stroke-width="0.3" >0.00</text>
<text x="519.9" y="145" font-size="10.3" font-weight="bold" text-anchor="end" fill="#111" stroke="#111" stroke-width="0.3" >0.02</text>
<text x="519.9" y="125" font-size="10.3" font-weight="bold" text-anchor="end" fill="#111" stroke="#111" stroke-width="0.3" >0.04</text>
<path d="M523.1 161.4L527.5 161.4M525 151.4L527.5 151.4M523.1 141.4L527.5 141.4M525 131.4L527.5 131.4M523.1 121.4L527.5 121.4" stroke="#222" stroke-width="0.9" fill="none"/>
<text x="671.2" y="150.9" font-size="10" font-weight="bold" text-anchor="end" fill="#111" stroke="#111" stroke-width="0.3" >0.6Fe</text>
<path d="M557.5 205.5l5.2-.3 3.4-.4 3.5-.7 1.7-.5 1.7-.7 3.5-1.7 8.6-5.3 1.7-.8 1.7-.6 1.7-.3 1.8 0 1.7 .3 1.7 .6 3.5 1.8 6.8 4.3 3.5 1.7 1.7 .7 1.7 .5 3.5 .7 3.4 .4 5.2 .3z" fill="url(#gb)" fill-opacity="0.85"/>
<path d="M575 205.5l0-.1 5.7-.4 3.7-.7 1.9-.5 1.9-.8 1.9-.9 1.9-1.2 1.9-1.4 1.9-1.7 7.5-7.8 1.9-1.7 1.9-1.5 1.9-1 1.9-.5 1.8 0 1.9 .5 1.9 1 1.9 1.5 1.9 1.7 7.5 7.8 1.9 1.7 1.9 1.4 1.9 1.2 1.9 .9 1.9 .8 1.9 .5 3.7 .7 5.7 .4 0 .1z" fill="url(#gp)" fill-opacity="0.85"/>
<line x1="527.5" y1="205.7" x2="674.5" y2="205.7" stroke="#555" stroke-width="1.1" />
<path d="M527.5 205.4l14.8-.1 6.9-.3 7.9-.7 4.9-.6 4-.7 3.9-.9 3-1.3 3.9-2.4 2-1.5 3.9-3.3 4-2.9 3-2.1 3.9-2.3 3.9-2 6-2.4 2.9-.9 2-.2 2 .1 1.9 .5 2 .6 2 .8 1 .7 1 1 7.9 9.2 2.9 3 3 2.3 2 1.4 1.9 1.1 4 1.7 1.9 .7 2 .4 4 .5 3.9 .3 8.9 .2 13.8 .1" fill="none" stroke="#9a7fc8" stroke-width="1" />
<path d="M527.5 205.4l14.8-.1 6.9-.3 7.9-.7 4.9-.6 4-.7 3.9-.9 3-1.3 3.9-2.4 2-1.5 3.9-3.3 4-2.9 3-2.1 3.9-2.3 3.9-2 6-2.4 2.9-.9 2-.2 2 .1 1.9 .5 2 .6 2 .8 1 .7 1 1 7.9 9.2 2.9 3 3 2.3 2 1.4 1.9 1.1 4 1.7 1.9 .7 2 .4 4 .5 3.9 .3 8.9 .2 13.8 .1" fill="none" stroke="#111" stroke-width="1" stroke-dasharray="4 2.6"/>
<text x="519.9" y="209.1" font-size="10.3" font-weight="bold" text-anchor="end" fill="#111" stroke="#111" stroke-width="0.3" >0.00</text>
<text x="519.9" y="191.9" font-size="10.3" font-weight="bold" text-anchor="end" fill="#111" stroke="#111" stroke-width="0.3" >0.02</text>
<text x="519.9" y="174.7" font-size="10.3" font-weight="bold" text-anchor="end" fill="#111" stroke="#111" stroke-width="0.3" >0.04</text>
<path d="M523.1 205.5L527.5 205.5M525 196.9L527.5 196.9M523.1 188.3L527.5 188.3M525 179.7L527.5 179.7M523.1 171.1L527.5 171.1" stroke="#222" stroke-width="0.9" fill="none"/>
<text x="671.2" y="195.6" font-size="10" font-weight="bold" text-anchor="end" fill="#111" stroke="#111" stroke-width="0.3" >0.4Fe</text>
<path d="M562.9 249.6l7.8-.3 4.7-.7 4.6-1.2 7.8-2.7 3.2-.7 1.5-.2 1.6 0 3.1 .5 3.1 .9 6.3 2.2 4.6 1.2 4.7 .7 7.8 .3z" fill="url(#gb)" fill-opacity="0.85"/>
<line x1="527.5" y1="249.8" x2="674.5" y2="249.8" stroke="#555" stroke-width="1.1" />
<path d="M527.5 249.5l32.6-.1 3.9-.1 4.9-.4 4-.5 3.9-.8 3-.6 4.9-1.5 5-1.2 1.9-.4 2-.1 2 .2 1.9 .4 5 1.3 4.9 1.4 4.9 1.1 4 .6 3.9 .4 6 .2 48.3 .1" fill="none" stroke="#9a7fc8" stroke-width="1" />
<path d="M527.5 249.5l32.6-.1 3.9-.1 4.9-.4 4-.5 3.9-.8 3-.6 4.9-1.5 5-1.2 1.9-.4 2-.1 2 .2 1.9 .4 5 1.3 4.9 1.4 4.9 1.1 4 .6 3.9 .4 6 .2 48.3 .1" fill="none" stroke="#111" stroke-width="1" stroke-dasharray="4 2.6"/>
<text x="519.9" y="253.2" font-size="10.3" font-weight="bold" text-anchor="end" fill="#111" stroke="#111" stroke-width="0.3" >0.00</text>
<text x="519.9" y="235.7" font-size="10.3" font-weight="bold" text-anchor="end" fill="#111" stroke="#111" stroke-width="0.3" >0.02</text>
<text x="519.9" y="218.2" font-size="10.3" font-weight="bold" text-anchor="end" fill="#111" stroke="#111" stroke-width="0.3" >0.04</text>
<path d="M523.1 249.6L527.5 249.6M525 240.85L527.5 240.85M523.1 232.1L527.5 232.1M525 223.35L527.5 223.35M523.1 214.6L527.5 214.6" stroke="#222" stroke-width="0.9" fill="none"/>
<text x="671.2" y="239.9" font-size="10" font-weight="bold" text-anchor="end" fill="#111" stroke="#111" stroke-width="0.3" >FeO</text>
<path d="M527.5 254.0V16.5H674.5V254.0" fill="none" stroke="#222" stroke-width="1"/>
<line x1="527.5" y1="254" x2="674.5" y2="254" stroke="#777" stroke-width="1.6" />
<path d="M527.5 254L527.5 258.4M542.2 254L542.2 256.4M556.9 254L556.9 258.4M571.6 254L571.6 256.4M586.3 254L586.3 258.4M601 254L601 256.4M615.7 254L615.7 258.4M630.4 254L630.4 256.4M645.1 254L645.1 258.4M659.8 254L659.8 256.4M674.5 254L674.5 258.4" stroke="#222" stroke-width="0.9" fill="none"/>
<text x="527.5" y="270" font-size="10.3" font-weight="bold" text-anchor="middle" fill="#111" stroke="#111" stroke-width="0.3" >7108</text>
<text x="556.9" y="270" font-size="10.3" font-weight="bold" text-anchor="middle" fill="#111" stroke="#111" stroke-width="0.3" >7110</text>
<text x="586.3" y="270" font-size="10.3" font-weight="bold" text-anchor="middle" fill="#111" stroke="#111" stroke-width="0.3" >7112</text>
<text x="615.7" y="270" font-size="10.3" font-weight="bold" text-anchor="middle" fill="#111" stroke="#111" stroke-width="0.3" >7114</text>
<text x="645.1" y="270" font-size="10.3" font-weight="bold" text-anchor="middle" fill="#111" stroke="#111" stroke-width="0.3" >7116</text>
<text x="674.5" y="270" font-size="10.3" font-weight="bold" text-anchor="middle" fill="#111" stroke="#111" stroke-width="0.3" >7118</text>
<text x="598.1" y="285.3" font-size="10" font-weight="bold" text-anchor="middle" fill="#111" stroke="#111" stroke-width="0.3" >Energy (eV)</text>
<text transform="translate(490.9 129.8) rotate(-90)" font-size="10.1" font-weight="bold" text-anchor="middle" fill="#111" stroke="#111" stroke-width="0.3" >Normalised adsorption</text>
<text x="479.7" y="14.8" font-size="22" font-weight="bold" text-anchor="start" fill="#000" stroke="#000" stroke-width="0.3" >c</text>
</g>
<g id="pd">
<ellipse cx="447" cy="194.6" rx="13.5" ry="19.7" fill="#e2dcee"/>
<ellipse cx="370.9" cy="250.3" rx="11.2" ry="6.9" fill="#cfdff7"/>
<ellipse cx="457.6" cy="243.5" rx="9.9" ry="7.2" fill="#e2dcee"/>
<polygon points="444.1,182.3 444.87,184.35 447.05,184.44 445.34,185.8 445.92,187.91 444.1,186.7 442.28,187.91 442.86,185.8 441.15,184.44 443.33,184.35" fill="#a52a2a"/>
<polygon points="447.8,194.2 448.57,196.25 450.75,196.34 449.04,197.7 449.62,199.81 447.8,198.6 445.98,199.81 446.56,197.7 444.85,196.34 447.03,196.25" fill="#a52a2a"/>
<polygon points="445.6,199.7 446.37,201.75 448.55,201.84 446.84,203.2 447.42,205.31 445.6,204.1 443.78,205.31 444.36,203.2 442.65,201.84 444.83,201.75" fill="#a52a2a"/>
<polygon points="370.9,249.6 371.67,251.65 373.85,251.74 372.14,253.1 372.72,255.21 370.9,254 369.08,255.21 369.66,253.1 367.95,251.74 370.13,251.65" fill="#a52a2a"/>
<polygon points="457.3,239.6 458.07,241.65 460.25,241.74 458.54,243.1 459.12,245.21 457.3,244 455.48,245.21 456.06,243.1 454.35,241.74 456.53,241.65" fill="#a52a2a"/>
<rect x="338.5" y="160.5" width="131" height="98" fill="none" stroke="#222" stroke-width="1" />
<path d="M334.5 246.8L338.5 246.8M336.3 234.5L338.5 234.5M334.5 222.2L338.5 222.2M336.3 209.9L338.5 209.9M334.5 197.6L338.5 197.6M336.3 185.3L338.5 185.3M334.5 173L338.5 173M338.5 258.5L338.5 262.5M369.7 258.5L369.7 260.7M400.9 258.5L400.9 262.5M432.1 258.5L432.1 260.7M463.3 258.5L463.3 262.5" stroke="#222" stroke-width="0.9" fill="none"/>
<text x="333" y="176.4" font-size="9.3" font-weight="bold" text-anchor="end" fill="#111" stroke="#111" stroke-width="0.3" >0.08</text>
<text x="333" y="201" font-size="9.3" font-weight="bold" text-anchor="end" fill="#111" stroke="#111" stroke-width="0.3" >0.06</text>
<text x="333" y="225.4" font-size="9.3" font-weight="bold" text-anchor="end" fill="#111" stroke="#111" stroke-width="0.3" >0.04</text>
<text x="333" y="250.2" font-size="9.3" font-weight="bold" text-anchor="end" fill="#111" stroke="#111" stroke-width="0.3" >0.02</text>
<text x="338.5" y="272.9" font-size="10.3" font-weight="bold" text-anchor="middle" fill="#111" stroke="#111" stroke-width="0.3" >7112</text>
<text x="401.4" y="272.9" font-size="10.3" font-weight="bold" text-anchor="middle" fill="#111" stroke="#111" stroke-width="0.3" >7113</text>
<text x="463.2" y="272.9" font-size="10.3" font-weight="bold" text-anchor="middle" fill="#111" stroke="#111" stroke-width="0.3" >7114</text>
<text x="401" y="287" font-size="10" font-weight="bold" text-anchor="middle" fill="#111" stroke="#111" stroke-width="0.3" >Energy (eV)</text>
<text transform="translate(307.2 215.2) rotate(-90)" font-size="10" font-weight="bold" text-anchor="middle" fill="#111" stroke="#111" stroke-width="0.3" >Integrated intensity</text>
<text x="433.6" y="184.4" font-size="9.2" font-weight="bold" text-anchor="end" fill="#111" stroke="#111" stroke-width="0.3" >0.6Fe</text>
<text x="431.4" y="196.8" font-size="9.2" font-weight="bold" text-anchor="end" fill="#111" stroke="#111" stroke-width="0.3" >1.2Fe</text>
<text x="428.8" y="208" font-size="9.2" font-weight="bold" text-anchor="end" fill="#111" stroke="#111" stroke-width="0.3" >0.4Fe</text>
<text x="348.7" y="237.2" font-size="9.2" font-weight="bold" text-anchor="start" fill="#111" stroke="#111" stroke-width="0.15" >Fe<tspan font-size="6.2" dy="-3.4">2+</tspan><tspan dy="3.4"> O</tspan><tspan font-size="6" dy="1.6">h</tspan></text>
<text x="411.3" y="242" font-size="9.2" font-weight="bold" text-anchor="start" fill="#111" stroke="#111" stroke-width="0.15" >Fe<tspan font-size="6.2" dy="-3.4">3+</tspan><tspan dy="3.4"> O</tspan><tspan font-size="6" dy="1.6">h</tspan></text>
<text x="296.6" y="158.3" font-size="22" font-weight="bold" text-anchor="start" fill="#000" stroke="#000" stroke-width="0.3" >d</text>
</g>
<g id="pe">
<defs><filter id="hbl" x="-5%" y="-5%" width="110%" height="110%" color-interpolation-filters="sRGB"><feGaussianBlur stdDeviation="0.9"/></filter><linearGradient id="cb" x1="0" y1="1" x2="0" y2="0"><stop offset="0" stop-color="rgb(0,0,255)"/><stop offset="0.125" stop-color="rgb(0,110,255)"/><stop offset="0.25" stop-color="rgb(0,255,255)"/><stop offset="0.375" stop-color="rgb(0,255,128)"/><stop offset="0.5" stop-color="rgb(0,255,0)"/><stop offset="0.625" stop-color="rgb(140,255,0)"/><stop offset="0.75" stop-color="rgb(255,255,0)"/><stop offset="0.875" stop-color="rgb(255,128,0)"/><stop offset="1" stop-color="rgb(255,0,0)"/></linearGradient></defs>
<clipPath id="hc0"><rect x="23.3" y="328.4" width="103.8" height="110.8"/></clipPath>
<g clip-path="url(#hc0)"><g filter="url(#hbl)">
<rect x="17.3" y="322.4" width="115.8" height="122.8" fill="rgb(0,0,255)" stroke="none" stroke-width="1" />
<path d="M90.9 406.7l8.6 .4 10 .1 22.8-.5 0-83.8-114.2 0 0 79.1 10 .1 5.7 .2 11.4 1.1 35.7 2.7 10 .6z" fill="rgb(0,13,255)" fill-rule="evenodd"/>
<path d="M76.4 402.1l13.1 .9 12.8 .4 11.4 0 18.6-.4 0-80.1-114.2 0 0 75 7.1 0 7.2 .3 14.3 1.6 29.7 2.3z" fill="rgb(0,26,255)" fill-rule="evenodd"/>
<path d="M86.5 400.6l10.1 .5 10 .2 25.7-.7 0-77.7-97.8 0 0 22.8-.2 4.6-.4 4.6-.6 3-.9 2.9-1.4 3.1-3.4 6.2-1.7 4.6-.4 3 .2 1.5 .3 1.6 1.5 3 1.1 1.5 2.4 2.5 4.2 3.3 4.3 2.5 4.3 1.7 5.7 1.3 11.4 1.6 14.3 1.5 11.3 .9z" fill="rgb(0,41,255)" fill-rule="evenodd"/>
<path d="M90.5 399l9 .4 8.5 .1 8.6-.2 10-.6 5.7 0 0-75.8-92 0 0 24.3-.5 9.2-.5 3-.7 3.1-3.8 10.6-.7 3.1-.2 1.5 .1 1.5 .4 1.6 1.5 3 2.7 3 3.8 2.9 4.3 2.2 5.7 1.8 7.1 1.7 10 1.6 11.4 1.4 9.6 .6z" fill="rgb(0,58,255)" fill-rule="evenodd"/>
<path d="M90.4 397.5l9.1 .4 8.5 .1 8.6-.3 10-.7 5.7-.1 0-74-88.2 0 0 24.3-.3 7.7-.4 3-.9 4.6-1.6 5-2 5.6-.8 3.1-.2 1.5 .1 1.5 .4 1.6 .6 1.5 1 1.5 1.4 1.5 1.8 1.5 2 1.4 4.3 2 5.7 2 7.2 1.7 8.5 1.6 10 1.3 9.5 .7zM105.2 350.3l-.8-1.5 .8-.6 1.4 0 .6 .6-.6 1.2-1.4 .3zM120.9 332.7l-.4-.7 .4-.4 1.4 .2 .2 .2-.2 .4-1.4 .3zM78.1 354.2l-1.4-.9 .1-1.5 1.3-.8 1.4 0 1.3 .8 0 1.5-1.3 .8-1.4 .1z" fill="rgb(0,75,255)" fill-rule="evenodd"/>
<path d="M87.8 396l10.2 .6 10 0 8.6-.3 10-.9 5.7-.1 0-72.4-84.8 0-.1 24.3-.3 7.7-.4 3.6-1 4-1.9 5.9-2.4 6.3-.4 1.5-.2 1.5 .1 1.5 .4 1.6 .7 1.5 1.8 2.2 3.1 2.3 4 2.1 5.7 2 5.8 1.5 7.1 1.4 10 1.4 8.3 .8zM103.7 350.8l-.6-.5-.3-1.5 1-1.6 1.4-.5 1.4 0 1.4 .7 .8 1.4-.4 1.5-1.8 1.1-1.4 0-1.5-.6zM119.4 333.7l-.4-1.7 .4-.9 .6-.6 .9-.5 1.4 0 1.1 .5 .3 .4 .6 1.1-.6 1.6-1.4 .9-1.4 0-1.5-.8zM78.1 355.2l-1.5-.5-1.2-1.4 0-1.5 1.2-1.5 1.5-.5 1.4-.1 1.4 .6 1.3 1.5-.1 1.5-1.2 1.3-.5 .3-.9 .2-1.4 .1zM80.9 335.1l-1.4-.4-.8-1.2 .8-1.1 1.4-.3 1.3 1.4-1.3 1.6z" fill="rgb(0,94,255)" fill-rule="evenodd"/>
<path d="M83.7 394.5l10.1 .8 11.4 .2 11.4-.5 10-1.1 5.7-.1 0-70.9-81.3 0 0 24.3-.4 7.7-.5 3-1.4 4.6-2.1 6.1-2 4.5-1.1 3.1-.3 1.5 .1 1.5 .4 1.6 .8 1.5 .7 .8 2.4 2.2 3.3 2 4.3 1.8 5.7 1.7 7.2 1.6 8.5 1.3 7.1 .8zM103.7 352.1l-1.4-1.1-.6-.7-.3-1.5 .9-1.8 1.4-.9 1.5-.4 1.4-.1 1.4 .4 1.6 1.2 .7 1.6-.4 1.5-1.6 1.5-1.7 .6-1.4 0-1.5-.3zM119.4 335.2l-1.3-1.7-.2-1.5 .7-1.5 .8-.8 1.5-.7 1.4-.3 1.4 .6 1.5 1.2 .5 1.5-.3 1.5-1.3 1.5-1.8 .8-1.4 0-1.5-.6zM75.2 354.9l-1.1-1.6-.1-1.5 .8-1.5 1.8-1.3 1.5-.4 1.4 0 1.4 .4 1.8 1.3 .7 1.5-.1 1.5-1.3 1.6-1.1 .6-1.4 .4-1.4 0-1.5-.3-1.4-.7zM78.1 335.5l-.5-.5-.5-1.5 .6-1.5 .4-.3 1.4-.7 1.4 .1 1.7 .9 .7 1.5-.3 1.5-.7 .8-1.4 .6-1.4-.1-1.4-.8z" fill="rgb(0,116,255)" fill-rule="evenodd"/>
<path d="M78.8 392.9l6.4 .8 5.7 .4 12.8 .3 10-.3 5.7-.5 7.2-1 5.7-.1 0-58.4-4.3 0-1.4 .9-1.4 1.3-1.5 .7-1.4 .3-1.4-.1-1.5-.5-1.4-1.1-1-2.1 0-1.5 .5-1.5 1.4-1.5 .9-1.6 0-4.5-64 0 .1 21.3-.2 4.6-.3 3-.6 3.1-1 3-4.7 10.7-2.9 6.1-.5 1.5-.3 1.5 0 1.5 .5 1.6 .9 1.5 1.4 1.5 1.3 1.1 2.9 1.7 2.8 1.3 4.3 1.4 5.7 1.5 7.1 1.3 6.5 .8zM102.3 352.5l-1-.7-1.2-1.5-.2-1.5 .5-1.6 1.9-1.7 1.4-.6 1.5-.3 1.4 0 1.4 .2 2.1 .9 1.4 1.5 .4 1.6-.3 1.5-1.2 1.5-.9 .6-1.5 .6-1.4 .3-1.4 0-1.5-.2-1.4-.6zM76.6 356.5l-1.4-.6-1.7-1-1-1.6-.2-1.5 .4-1.5 1.1-1.4 1.4-1.1 1.4-.5 1.5-.2 2.8 .4 1.4 .6 1 .7 1.2 1.5 .4 1.5-.3 1.5-1.2 1.6-1.1 .7-1.8 .8-2.4 .3-1.5-.2zM78.1 337.4l-1.3-.8-1.1-1.6-.3-1.5 .5-1.5 1.7-1.5 1.9-.5 1.4 .1 1.4 .6 1.5 1.3 .5 1.5-.1 1.5-.4 .9-1.5 1.4-1.4 .4-1.4 .1-1.4-.4zM128 330.5l4.3 0 0-7.6-7.2 0 0 4.5 .8 1.6 .7 .7 1.4 .8z" fill="rgb(0,144,255)" fill-rule="evenodd"/>
<path d="M87.7 392.9l10.3 .6 10-.1 10-.7 8.6-1.3 5.7 0 0-43.2-5.7-.1-3.1-.9-1.8-1.5 .1-1.5 .5-1.5-.4-1.6-1-.5-.9-1-.6-.2-1.4-1.4-1.4-2-.7-2.5 .1-1.5 .5-1.5 1-1.5 .5-1.6 0-4.5-50.5 0 .1 6.1 .5 1.7 1.4 2.7 1.4 .8 .3-.7 1.1-1 .3-.5 1.6-1.5 2.4-1.2 1.5-.3 1.4-.1 1.4 .3 1.4 .5 1.5 1.1 .9 1.2 .5 1.5 .1 1.5-.5 1.6-1 1.4-1.5 1.3-.9 .3-.5 .4-1.4 .5-3.6 .6 .9 1.6 5.5 2.3 3.5 2.2 1.3 1.6 .4 1.5-.3 1.5-.8 1.5-1.4 1.6-2.3 1.5-3.2 .9-2.9-.1-3.2-.8-2.7-1.5-1.2-1-1.4-.5-1.5 0-1.4 .4-2.8 1.6-4.3 3.4-2.9 3.3-1.3 1.9-5.6 10.7-.6 1.5-.4 1.5 .1 1.5 .4 1.6 1 1.5 1.5 1.5 3.5 2.3 4.3 1.8 4.3 1.3 7.1 1.6 10 1.4 8.2 .7zM102.3 353.7l-1.4-.6-2.1-1.3-1.2-1.5-.3-1.5 .6-1.6 1.5-1.5 1.5-1 2.8-1.1 1.5-.2 2.8-.1 1.5 .2 2.1 .7 2.9 1.5 1 1.5-.2 1.6-.8 1.5-1.5 1.5-2.5 1.5-2.5 .8-1.4 .2-2.9-.2-1.4-.4z" fill="rgb(0,173,255)" fill-rule="evenodd"/>
<path d="M79.7 391.4l5.5 .6 7.1 .5 12.9 .1 5.7-.2 5.7-.5 10-1.5 5.7-.1 0-34.9-5.7-.1-7.2-1-2.8-.2-2.9 .2-5.7 1-2.8 .1-3.6-.5-5-1.2-4.3-.1-2.8 .5-5.7 2.7-1.5 .5-2.4 .6-3.3 .1-5.7-.7-2.8 .3-4.3 1.5-2.9 1.5-1.4 1-2.6 2.4-1.1 1.5-4.9 7.9-1.4 2.8-.4 1.5 0 1.5 .5 1.6 1 1.5 1.6 1.5 2.4 1.5 2 1 4.3 1.6 4.3 1.2 5.7 1.1 8.8 1.2zM90.4 342.7l3.4 .8 2.8 .1 7.1-1.6 5.8-.9 2.8-.9 .9-.6 1.2-1.5 .5-6.1 .5-1.5 .9-1.5 .4-1.6 0-4.5-35.2 0 0 4.5 1.2 1.6 1.8 1.5 1.1 1.5 .6 1.5 .2 1.5-.3 4.6 .5 1 .5 .5 .9 .7 2.4 .9z" fill="rgb(0,203,255)" fill-rule="evenodd"/>
<path d="M87.3 391.4l10.7 .5 10-.1 10-.9 8.6-1.5 5.7-.1 0-31-5.7-.1-5.7-1-5.7-.6-10-.1-8.6-.7-4.3 .1-4.3 .6-4.8 1.4-3.7 .8-7.2 .2-2.8 .5-4.3 1.4-1.4 .7-2.9 1.7-1.4 1.2-2.3 2.6-4.3 6.1-1.7 3.1-.4 1.5 0 1.5 .5 1.6 1 1.5 1.7 1.5 2.6 1.5 2.9 1.3 4.3 1.4 5.7 1.3 5.7 .9 5.7 .7 6.4 .5zM91.8 339.6l2 .6 2.8 .3 4.3-.1 5.7-1.2 2.8-1.1 1.5-.9 1.4-1.6 1.9-5.1 .7-1.5 .3-1.6 0-4.5-31.6 0 0 4.5 .6 1.6 1.5 1.5 .9 1.5 .7 1.5 .7 2.9 1 1.7 1.9 1.2 .9 .3z" fill="rgb(0,234,255)" fill-rule="evenodd"/>
<path d="M78.1 389.9l5.7 .6 7.1 .5 7.1 .2 7.2-.1 5.7-.3 5.7-.5 5.7-.9 4.3-.9 5.7-.1 0-28-5.7-.2-7.2-1.4-7.1-.8-12.8-.7-7.2 0-4.3 .4-8.5 1.7-7.2 .7-4.2 1.3-4.3 2-2.9 2.1-1.4 1.5-5.9 7.7-.8 1.5-.5 1.5 0 1.5 .5 1.6 1.1 1.5 1.9 1.5 2.7 1.5 2.4 1 4.3 1.4 4.3 .9 8.6 1.3zM96.1 338.1l3.4 .1 4.2-.6 2.9-.9 2.9-1.7 1.5-1.5 1.3-2.2 1-2.3 .3-1.6 0-4.5-28.4 0 0 4.5 .5 1.6 1.1 1.5 2.7 4.6 1.4 1.4 1.4 .8 1.5 .4 2.3 .4z" fill="rgb(0,255,246)" fill-rule="evenodd"/>
<path d="M83.9 389.9l11.3 .7 11.4-.2 11.4-1.1 8.6-1.7 5.7-.1 0-25.5-5.7-.1-7.2-1.6-8.5-1.2-10-.6-7.1-.1-7.2 .5-12.8 2.1-4.3 1.2-3.9 1.8-2.3 1.5-1.7 1.5-6.4 7.7-.9 1.5-.5 1.5 0 1.5 .5 1.6 1.2 1.5 1.9 1.5 3 1.5 3.4 1.3 4.3 1.1 5.7 1.1 10.1 1.1zM92.6 335l1.2 .5 2.8 .6 4.3-.1 3.9-1 3-1.5 1.7-1.5 1.1-1.5 .8-1.5 .2-1.6 0-4.5-24.8 0 0 4.5 .4 1.6 2.3 3.4 1 1.1 .4 .5 1.7 1z" fill="rgb(0,255,217)" fill-rule="evenodd"/>
<path d="M94.1 389.9l8.2 0 8.6-.4 7.1-.9 4.3-.8 4.3-1.1 5.7-.1 0-23.1-4.3 0-1.4-.2-7.2-1.8-8.5-1.4-8.6-.6-8.5-.1-7.2 .4-11.4 1.8-2.9 .8-2.8 1-3.9 2.1-1.9 1.5-2.8 2.9-2.9 3.2-2.2 3.1-.6 1.5 0 1.5 .5 1.6 1.3 1.5 2.1 1.5 3.2 1.5 2.9 1 4.3 1.1 4.3 .8 7.1 .9 7.1 .5 6.1 .3zM94.3 333.5l2.3 .6 1.4 .1 2.9-.2 2.8-.8 2.4-1.2 1.8-1.5 1-1.5 .3-1.6 0-4.5-20.6 0 0 4.5 .4 1.6 1.1 1.5 1.5 1.5 .7 .6 2 .9z" fill="rgb(0,255,187)" fill-rule="evenodd"/>
<path d="M79.5 388.4l5.7 .5 7.1 .4 7.2 .1 5.7-.1 5.7-.5 5.7-.7 4.3-.7 5.7-1.5 1.4-.2 4.3 0 0-20.9-4.3 0-1.4-.1-5.7-1.8-8.6-1.6-8.6-.9-7.1-.3-7.1 .2-7.2 .8-7 1.4-4.5 1.5-3 1.5-2.1 1.5-6.1 6.1-2.4 3.1-.6 1.5-.1 1.5 .6 1.6 1.3 1.5 2.3 1.5 3.1 1.4 2.8 .9 4.3 1 8.6 1.3zM97.3 332l2.2 .1 1.4-.3 2.8-1.1 1.5-1 .7-.7 .4-1.6 0-4.5-15.2 0 0 4.5 .4 1.6 .8 .9 1.5 1 1.4 .6 2.1 .5z" fill="rgb(0,255,157)" fill-rule="evenodd"/>
<path d="M85.2 388.4l11.4 .5 5.7-.1 5.7-.3 5.7-.6 4.3-.7 4.3-.9 4.3-1.3 1.4-.1 4.3 0 0-18.8-4.3 0-1.4-.2-2.9-1-4.3-1.3-8.5-1.6-7.2-.8-7.1-.3-7.1 .1-7.2 .8-7.1 1.6-4.3 1.6-2.8 1.7-1.5 1.1-4.2 4.1-2.7 2.8-1.1 1.5-.7 1.5 0 1.5 .6 1.6 1.4 1.5 2.4 1.5 2.9 1.2 2.9 .9 8.5 1.6 8.6 .9zM96.1 329l1.9 .4 1.5 0 1.5-.4 1-1.6 0-4.5-6.9 0 0 4.5 1 1.6z" fill="rgb(0,255,126)" fill-rule="evenodd"/>
<path d="M75.6 386.8l6.7 .9 7.2 .4 8.5 .2 7.2-.2 7.1-.6 5.7-.9 4.3-1 4.3-1.4 1.4-.2 4.3 0 0-16.6-4.3 0-1.4-.3-5.7-2.1-5.7-1.4-7.2-1.2-7.1-.7-7.1-.2-7.2 .4-7.1 1.2-4.3 1.1-3.1 1.3-2.6 1.5-1.9 1.6-3.8 3.4-2.7 2.7-1.2 1.5-.7 1.5-.1 1.5 .7 1.6 1.1 1.1 3 1.9 2.7 1.1 2.9 .8 6.1 1.1z" fill="rgb(0,255,94)" fill-rule="evenodd"/>
<path d="M79.4 386.8l7.2 .7 7.2 .3 7.1 0 5.7-.3 5.7-.6 5.7-1 4.3-1.1 4.3-1.5 1.4-.3 4.3 0 0-14.4-4.3 0-1.4-.2-5.7-2.4-5.7-1.6-7.2-1.3-7.1-.7-7.1-.2-5.8 .3-5.7 .7-5.7 1.4-2.3 .9-2.9 1.5-2.1 1.6-4.1 3.5-2.7 2.6-1.3 1.5-.7 1.5-.1 1.5 .7 1.6 1.3 1.2 3.2 1.8 2.5 .9 4.2 1.1 7.1 1z" fill="rgb(0,255,62)" fill-rule="evenodd"/>
<path d="M84.5 386.8l6.4 .4 7.1 .1 5.7-.2 5.8-.4 5.7-.9 4.2-.9 3.6-1.1 3.6-1.5 1.4-.3 4.3 0 0-12-4.3 0-1.4-.4-4.3-2.1-5.7-1.9-7.1-1.5-7.2-1-7.1-.3-7.2 .3-5.7 .8-5.7 1.6-4.3 2.1-2.8 2.1-4.3 3.7-2.6 2.8-.8 1.5-.1 1.5 .7 1.6 1.8 1.5 3.9 1.8 2.8 .8 4.3 .9 9.3 1z" fill="rgb(0,255,28)" fill-rule="evenodd"/>
<path d="M75.5 385.3l4 .6 5.7 .5 7.1 .4 5.7 0 5.7-.2 5.8-.5 4.2-.6 4.3-.9 4.3-1.4 2.3-.9 2-1.1 1.4-.4 4.3 0 0-9.4-4.3 0-1.4-.4-1.4-1-2.8-1.4-4.4-1.7-5.7-1.6-7.1-1.2-7.2-.6-5.7-.1-5.7 .5-5.7 1-4.3 1.5-1.4 .7-2.9 1.7-7.1 5.9-1.3 1.5-.8 1.5-.1 1.5 .8 1.6 1.9 1.5 3.8 1.6 6 1.4z" fill="rgb(6,255,0)" fill-rule="evenodd"/>
<path d="M78.7 385.3l9.3 .9 10 .1 8.6-.4 4.3-.5 4.3-.8 3.1-.8 4-1.4 3.1-1.6 1.2-1 1.4-.5 4.3 0 0-6.1-4.3 0-1.4-.5-1.1-1.1-2.3-1.5-3.8-1.8-5.7-1.8-7.1-1.5-7.1-.8-5.7-.2-5.8 .3-5.7 1-2.8 .8-2.3 .9-3.4 2-4.3 3.2-2.9 2.5-1.4 1.5-.8 1.5-.1 1.5 .8 1.6 2.1 1.5 2.3 1 2.8 .8 6.4 1.2z" fill="rgb(43,255,0)" fill-rule="evenodd"/>
<path d="M83.1 385.3l7.8 .5 8.6 0 7.1-.5 7.1-1 5.7-1.6 4.2-1.9 1.9-1.6 1-1.5 .4-1.5-.3-.5-.3-1-1-1.6-1.7-1.5-1.3-.8-4.6-2.2-5.4-1.7-7.1-1.5-7.2-.7-7.1 0-6.4 .8-5.2 1.5-4.1 2.2-4.3 3.1-2.9 2.4-1.5 1.5-.8 1.5-.1 1.5 .9 1.6 2.3 1.5 5 1.6 4.3 .8 5 .6z" fill="rgb(82,255,0)" fill-rule="evenodd"/>
<path d="M90.9 385.3l7.1 0 5.7-.2 5.8-.7 5.7-1.1 3.3-1 3.8-1.9 1.5-1.2 1-1.5 .3-1.5-.5-1.5-1.1-1.6-2.6-2-1.9-1-3.7-1.5-5.3-1.6-6.3-1.1-7.1-.6-7.1 .2-5.7 .9-2.9 .9-2.8 1.3-2.9 1.8-3.8 2.7-2 1.6-1.5 1.5-.9 1.5-.1 1.5 1.1 1.6 1.5 .9 1.4 .7 2.9 .9 2.8 .7 4.3 .6 10 .7z" fill="rgb(120,255,0)" fill-rule="evenodd"/>
<path d="M78.6 383.8l8 .8 8.6 .3 7.1-.2 7.5-.9 6.4-1.5 3.7-1.5 2.1-1.6 1.2-1.5 .2-1.5-.5-1.5-.6-.8-.6-.8-2-1.5-3.1-1.6-5.7-2-5.7-1.2-7.2-.8-5.7-.1-5.7 .6-4.3 1.2-2.1 .9-2.8 1.5-6.5 4.6-1.6 1.5-.9 1.5-.1 1.5 1.2 1.6 2.9 1.5 2.8 .8 3.4 .7z" fill="rgb(156,255,0)" fill-rule="evenodd"/>
<path d="M82.4 383.8l7.1 .5 8.5 .1 7.2-.5 5.7-.9 4.3-1.2 2.7-1 1.5-1 .9-.6 1.2-1.5 .2-1.5-.5-1.5-1.3-1.6-2.2-1.5-3.1-1.5-4.6-1.5-6.3-1.4-5.7-.6-5.7 0-4.4 .4-2.7 .6-2.8 1-4.3 2.2-5.7 3.9-1.6 1.5-1 1.5 0 1.5 1.3 1.6 1.2 .6 2.2 .9 2.1 .5 5.8 1z" fill="rgb(189,255,0)" fill-rule="evenodd"/>
<path d="M88.8 383.8l6.4 .1 5.7-.2 5.7-.6 4.6-.8 4.7-1.5 2.5-1.6 1.3-1.5 .3-1.5-.6-1.5-1.4-1.6-2.3-1.5-3.5-1.5-5.3-1.5-4.6-.9-5.7-.5-5.7 .2-4.3 .7-2.8 .9-2.9 1.2-2.8 1.7-4.1 2.8-1.7 1.5-1 1.5 0 1.5 1.6 1.6 3.9 1.5 5.5 .9 6.5 .6z" fill="rgb(222,255,0)" fill-rule="evenodd"/>
<path d="M79.7 382.3l6.9 .8 7.2 .3 7.1-.2 5.7-.7 5.7-1.3 2.9-1.2 1.4-.8 1.4-1.5 .2-1.5-.6-1.5-1.5-1.6-2.6-1.5-5.5-2-4.9-1-5.1-.6-4.2-.1-4.3 .4-4.3 1.1-2.9 1.2-4.4 2.5-2.3 1.6-1.8 1.5-1 1.5 .2 1.5 1.8 1.6 4.9 1.5z" fill="rgb(255,254,0)" fill-rule="evenodd"/>
<path d="M83.5 382.3l6 .5 5.7 .1 5.7-.3 5.7-.7 4.6-1.1 3.3-1.6 1.6-1.5 .3-1.5-.7-1.5-1.7-1.6-2.9-1.5-4.6-1.5-4.2-.9-4.3-.5-4.2 0-4.3 .5-4.3 1.2-4.3 2.1-4.3 2.8-1.1 .9-1 1.5 .3 1.5 2.2 1.6 2.5 .7 4 .8z" fill="rgb(255,216,0)" fill-rule="evenodd"/>
<path d="M90.6 382.3l4.6 0 4.3-.2 4.2-.4 4.8-.9 3.9-1.6 1.7-1.5 .3-1.5-.7-1.5-1.9-1.6-3.3-1.5-3.3-.9-4.3-.9-4.3-.3-4.3 .2-2.8 .4-4.3 1.4-3.4 1.6-2.5 1.6-2 1.5-1 1.5 .5 1.5 2.8 1.6 5.6 1 5.4 .5z" fill="rgb(255,178,0)" fill-rule="evenodd"/>
<path d="M82.9 380.8l5.1 .6 5.8 .3 5.7-.2 4.2-.5 2.9-.6 3.4-1.2 2-1.5 .4-1.5-.9-1.5-2-1.5-4.3-1.6-2.9-.6-4.3-.6-2.8 0-2.9 .2-4.3 .9-2.8 1.1-3.9 2.1-2 1.5-.9 1.5 .7 1.5 3.8 1.6z" fill="rgb(255,140,0)" fill-rule="evenodd"/>
<path d="M87.9 380.8l4.4 .2 4.3 0 3.4-.2 3.7-.7 3.4-.9 .9-.5 1.6-1 .4-1.5-1-1.5-2.4-1.4-4.3-1.3-2.8-.5-2.9-.2-2.8 .1-2.9 .5-4.1 1.2-3.1 1.6-2.1 1.5-.9 1.5 1.1 1.5 3.4 1.1 2.7 .5z" fill="rgb(255,100,0)" fill-rule="evenodd"/>
<path d="M85.4 379.2l2.6 .6 4.3 .4 4.3 0 4.3-.5 2.6-.5 3.1-1.4 .2-.1 .5-1.5-1.3-1.5-3.8-1.6-2.7-.4-2.9-.2-4.3 .3-2.8 .7-2.9 1.1-2.4 1.6-.8 1.5 2 1.5z" fill="rgb(255,60,0)" fill-rule="evenodd"/>
<path d="M92.2 379.2l4.5 0 4.2-.8 2.2-.7 .8-1.5-2.1-1.5-3.8-.8-2.8 0-4.3 .7-3.3 1.6-.5 1.5 2.4 1 2.7 .5z" fill="rgb(255,20,0)" fill-rule="evenodd"/>
</g></g>
<rect x="23.3" y="328.4" width="103.8" height="110.8" fill="none" stroke="#111" stroke-width="0.9" />
<path d="M23.3 439.2L23.3 441.8M31.95 439.2L31.95 440.7M40.6 439.2L40.6 441.8M49.25 439.2L49.25 440.7M57.9 439.2L57.9 441.8M66.55 439.2L66.55 440.7M75.2 439.2L75.2 441.8M83.85 439.2L83.85 440.7M92.5 439.2L92.5 441.8M101.15 439.2L101.15 440.7M109.8 439.2L109.8 441.8M118.45 439.2L118.45 440.7M127.1 439.2L127.1 441.8M20.7 439.2L23.3 439.2M21.8 425.35L23.3 425.35M20.7 411.5L23.3 411.5M21.8 397.65L23.3 397.65M20.7 383.8L23.3 383.8M21.8 369.95L23.3 369.95M20.7 356.1L23.3 356.1M21.8 342.25L23.3 342.25M20.7 328.4L23.3 328.4" stroke="#111" stroke-width="0.8" fill="none"/>
<text transform="translate(23.3 450.7) scale(0.86 1)" font-size="9.4" font-weight="bold" text-anchor="middle" fill="#111" stroke="#111" stroke-width="0.3">0</text>
<text transform="translate(40.6 450.7) scale(0.86 1)" font-size="9.4" font-weight="bold" text-anchor="middle" fill="#111" stroke="#111" stroke-width="0.3">2</text>
<text transform="translate(57.9 450.7) scale(0.86 1)" font-size="9.4" font-weight="bold" text-anchor="middle" fill="#111" stroke="#111" stroke-width="0.3">4</text>
<text transform="translate(75.2 450.7) scale(0.86 1)" font-size="9.4" font-weight="bold" text-anchor="middle" fill="#111" stroke="#111" stroke-width="0.3">6</text>
<text transform="translate(92.5 450.7) scale(0.86 1)" font-size="9.4" font-weight="bold" text-anchor="middle" fill="#111" stroke="#111" stroke-width="0.3">8</text>
<text transform="translate(109.8 450.7) scale(0.86 1)" font-size="9.4" font-weight="bold" text-anchor="middle" fill="#111" stroke="#111" stroke-width="0.3">10</text>
<text transform="translate(127.1 450.7) scale(0.86 1)" font-size="9.4" font-weight="bold" text-anchor="middle" fill="#111" stroke="#111" stroke-width="0.3">12</text>
<text transform="translate(19.7 442.5) scale(0.86 1)" font-size="9.4" font-weight="bold" text-anchor="end" fill="#111" stroke="#111" stroke-width="0.3">0</text>
<text transform="translate(19.7 414.8) scale(0.86 1)" font-size="9.4" font-weight="bold" text-anchor="end" fill="#111" stroke="#111" stroke-width="0.3">1</text>
<text transform="translate(19.7 387.1) scale(0.86 1)" font-size="9.4" font-weight="bold" text-anchor="end" fill="#111" stroke="#111" stroke-width="0.3">2</text>
<text transform="translate(19.7 359.4) scale(0.86 1)" font-size="9.4" font-weight="bold" text-anchor="end" fill="#111" stroke="#111" stroke-width="0.3">3</text>
<text transform="translate(19.7 331.7) scale(0.86 1)" font-size="9.4" font-weight="bold" text-anchor="end" fill="#111" stroke="#111" stroke-width="0.3">4</text>
<text transform="translate(12 383.4) rotate(-90) scale(0.9 1)" font-size="9.4" text-anchor="middle" fill="#111" stroke="#111" stroke-width="0.3">R(Å)</text>
<text transform="translate(77 460.2) scale(0.9 1)" font-size="9.4" text-anchor="middle" fill="#111" stroke="#111" stroke-width="0.3">k(Å<tspan font-size="6" dy="-3.4">-1</tspan><tspan dy="3.4">)</tspan></text>
<rect x="131.2" y="328.4" width="8.7" height="2" fill="#8c8c8c" stroke="none" stroke-width="1" />
<rect x="131.2" y="330.4" width="8.7" height="106.8" fill="url(#cb)" stroke="none" stroke-width="1" />
<rect x="131.2" y="437.2" width="8.7" height="2" fill="#000" stroke="none" stroke-width="1" />
<rect x="131.2" y="328.4" width="8.7" height="110.8" fill="none" stroke="#222" stroke-width="0.6" />
<text transform="translate(144.7 333.7) scale(0.93 1)" font-size="9.4" font-weight="bold" text-anchor="start" fill="#111" stroke="#111" stroke-width="0.3">11.30</text>
<text transform="translate(144.7 347.05) scale(0.87 1)" font-size="9.4" font-weight="bold" text-anchor="start" fill="#111" stroke="#111" stroke-width="0.3">9.89</text>
<text transform="translate(144.7 360.4) scale(0.87 1)" font-size="9.4" font-weight="bold" text-anchor="start" fill="#111" stroke="#111" stroke-width="0.3">8.48</text>
<text transform="translate(144.7 373.75) scale(0.87 1)" font-size="9.4" font-weight="bold" text-anchor="start" fill="#111" stroke="#111" stroke-width="0.3">7.06</text>
<text transform="translate(144.7 387.1) scale(0.87 1)" font-size="9.4" font-weight="bold" text-anchor="start" fill="#111" stroke="#111" stroke-width="0.3">5.65</text>
<text transform="translate(144.7 400.45) scale(0.87 1)" font-size="9.4" font-weight="bold" text-anchor="start" fill="#111" stroke="#111" stroke-width="0.3">4.24</text>
<text transform="translate(144.7 413.8) scale(0.87 1)" font-size="9.4" font-weight="bold" text-anchor="start" fill="#111" stroke="#111" stroke-width="0.3">2.83</text>
<text transform="translate(144.7 427.15) scale(0.87 1)" font-size="9.4" font-weight="bold" text-anchor="start" fill="#111" stroke="#111" stroke-width="0.3">1.41</text>
<text transform="translate(144.7 440.5) scale(0.87 1)" font-size="9.4" font-weight="bold" text-anchor="start" fill="#111" stroke="#111" stroke-width="0.3">0.00</text>
<path d="M139.9 330.4L141.5 330.4M139.9 343.75L141.5 343.75M139.9 357.1L141.5 357.1M139.9 370.45L141.5 370.45M139.9 383.8L141.5 383.8M139.9 397.15L141.5 397.15M139.9 410.5L141.5 410.5M139.9 423.85L141.5 423.85M139.9 437.2L141.5 437.2" stroke="#222" stroke-width="0.7" fill="none"/>
<text x="75.2" y="382.9" font-size="12.4" font-weight="bold" text-anchor="start" fill="#000" stroke="#000" stroke-width="0.3" >Fe-Fe</text>
<text x="31.1" y="426.2" font-size="12.4" font-weight="bold" text-anchor="start" fill="#fff" stroke="#fff" stroke-width="0.3" >Fe foil</text>
<clipPath id="hc1"><rect x="200" y="328.1" width="105.6" height="109"/></clipPath>
<g clip-path="url(#hc1)"><g filter="url(#hbl)">
<rect x="194" y="322.1" width="117.6" height="121" fill="rgb(0,0,255)" stroke="none" stroke-width="1" />
<path d="M218.7 415.6l16.7 .8 15.9 .2 13.1-.3 18-.7 15.4 .3 7.3-.4 5.8 0 0-92.8-116.2 0 0 48.1 4.4 0 2.9-.4 1.4 0 .9 .2 2 1 .6 .5-.5 1.5-1.5 .4-10.2-.1 0 40.5 5.8 0 18.2 1.2zM242.6 340.8l-.2-.2 .2-.1 1.5 .1-1.5 .2zM284.7 378.1l-.6-1.5 .6-.2 5.9-.2 1.4 .1 1.2 .3-.6 1.5-.6 .2-4.4 .1-2.9-.3z" fill="rgb(0,13,255)" fill-rule="evenodd"/>
<path d="M238.8 412.6l16.9 0 26.1-.8 4.4 .1 11.6 .8 2.9 0 5.8-.4 4.4 0 0-89.6-116.2 0 0 47.4 8.7-.1 2.6 .6 1.9 1.5-.4 1.5-1.2 .6-1.4 .5-2.9 .1-2.9-.2-4.4 0 0 36 5.8 .1 23.3 1.4 15 .5zM242.6 342l-1.3-1.4 1.3-.8 1.5 .1 .8 .7-.8 1.1-1.5 .3zM273.1 341.2l-1.2-.6 1.2-1.1 1.5 .5 .4 .6-.4 .4-1.5 .2zM284.7 378.5l-1.2-.4-.3-1.5 1.5-.6 2.9-.4 3 .1 1.4 .1 2.5 .8-.5 1.5-2 .6-4.4 .1-2.9-.3z" fill="rgb(0,26,255)" fill-rule="evenodd"/>
<path d="M220.2 409.6l13.7 .6 14.5 .1 11.7-.2 21.7-.8 5.8 .3 10.2 1 4.4 0 4.3-.4 4.4 0 0-87.5-116.2 0 0 46.7 8.7 0 1.5 .3 2.4 .9 1.5 1.5-.2 1.5-.8 .7-1.5 .7-1.4 .4-2.9 .2-7.3-.2 0 32.8 5.8 0 10.2 .9 9.5 .5zM242.6 342.5l-1.3-.4-.9-1.5 .8-1 .8-.5 .6-.1 1.6 .1 1.3 1.2 .3 .3-.3 .5-.8 1-.6 .3-1.5 .1zM271.7 341.3l-.6-.7 .6-1.4 1.4-.4 1.5 .1 .5 .2 .9 1.5-1.4 1.2-1.5 .2-1.4-.7zM283.3 378.5l-.9-.4-.2-1.5 2.5-1 2.2-.5 4.3 0 2.3 .5 2.4 1-.3 1.5-3.6 1.1-4.4 .1-2.9-.4-1.4-.4z" fill="rgb(0,41,255)" fill-rule="evenodd"/>
<path d="M225.3 408.1l11.5 .4 13.1 0 10.2-.2 21.7-.9 5.8 .3 10.2 1.2 4.4-.1 4.3-.5 4.4 0 0-85.6-108.2 0 0 4.4-.4 1.5-1.8 2.4-1.4 .7-4.4 0 0 36.8 7.3 .1 1.4 .2 2.9 .8 2.1 1 1.4 1.5 0 1.5-.6 .7-1.4 1-2.9 .8-2.9 .2-7.3 0 0 30.1 5.8 0 13.1 1.1 11.7 .6zM241.2 342.6l-1-.5-.8-1.5 1-1.5 .8-.4 1.4-.3 1.5 .1 1.5 .6 .8 1.5-.7 1.5-1.6 .7-1.5 .2-1.4-.4zM273.1 342.5l-1.4-.4-1.4-1.5 .6-1.5 .8-.5 1.4-.4 1.5 .1 1.8 .8 .5 1.5-.9 1.1-.5 .4-.9 .3-1.5 .1zM286.2 379.7l-2.9-.7-2-.9-.1-1.5 3.5-1.5 2.9-.4 4.4 .1 2 .3 3.5 1.5-.1 1.5-2.5 1-2.2 .5-2.1 .2-4.4-.1z" fill="rgb(0,58,255)" fill-rule="evenodd"/>
<path d="M223 406.6l13.8 .5 13.1 0 10.2-.3 23.2-1.1 4.3 .2 8.8 1.2 2.9 .2 2.9-.2 4.3-.6 4.4 0 0-67.9-4.4 0-1.4-.5-1.5-2-.6-1.5-1.4-6-.2-1.5 0-4.4-80.3 0 0 4.4-.3 1.5-2.5 4.5-2.5 3-1.7 1.5-9.2 6.4-4.4 3.4-1.4 .4-4.4 0 0 19.7 5.8 .1 2.9 .4 2.9 .9 3.3 1.7 1.3 1.5 .1 1.5-1.1 1.5-.7 .5-1.4 .7-2.9 .7-4.4 .5-5.8 0 0 27.3 5.8 .1 11.6 1 10.9 .7zM239.7 342.6l-.6-.5-.7-1.5 .6-1.5 .7-.6 1.5-.6 1.4-.2 1.5 .2 1.4 .5 1 .7 .6 1.5-.7 1.5-.9 .6-1.4 .6-1.5 .2-1.4-.3-1.5-.6zM242.6 379.8l-1-.2 1-1.1 1.5-.4 1.4 0 1.5 1 .5 .5-2 .4-2.9-.2zM271.7 342.6l-.9-.5-1.1-1.5 .3-1.5 1.7-1.2 1.4-.3 1.5 0 1.4 .5 1.5 1 .4 1.5-1.1 1.5-2.2 .8-1.5 0-1.4-.3zM284.7 379.9l-2.9-.9-1.7-.9 .1-1.5 3.1-1.5 4.3-.7 4.4 0 4.4 .7 3.3 1.5 .1 1.5-2 1-1.6 .5-2.7 .5-2.9 .2-3-.1-2.9-.3z" fill="rgb(0,75,255)" fill-rule="evenodd"/>
<path d="M217.6 405.1l13.4 .7 14.5 .2 14.6-.4 23.2-1.4 4.3 .1 8.8 1.1 2.9 .2 2.9-.2 4.3-.8 4.4 0 0-26.4-5.8 .1-3.9 1.3-3.4 .6-2.9 .4-4.3 .2-4.4-.3-2.9-.4-1.7-.5-2.6-1.5 .1-1.5 2.8-1.5 4.3-.9 4.4-.2 4.3 .3 4.7 .8 4.6 1.5 .9 1 1.4 .2 4.4 0 0-33.7-4.4 0-1.4-.2-7.4-3.3-2.2-1.5-1.2-1.5-.4-1.5 0-4.5-.6-4.5 0-4.4-62.8 0 0 4.4-.2 1.5-1.9 6-.8 1.5-1.4 1.5-2.1 1.5-3.1 1.5-6 2.5-2.9 1.5-2.9 1.7-4.3 3.3-2.8 3-1.6 2.2-1.4 .9-4.4 0 0 9.5 4.4 0 1.4 .4 .6 .5 6.7 2.6 3 1.9 1.2 1.5 .4 1.5-.6 1.5-1.1 1-2.9 1.5-7.3 1.6-5.8 .1 0 24.1 5.8 .1 8.7 1 8.4 .6zM239.7 379.7l-.1-.1 .6-1.5 2.4-.4 1.5-.1 4.1 .5 1.1 1.5-2.3 .7-2.9 .3-1.5-.2-2.9-.7zM270.2 342.3l-1.2-1.7 .2-1.5 1-1.1 1.5-.8 1.4-.3 1.5 0 1.4 .3 1.5 .6 1.4 1.3 .2 1.5-1 1.5-2.1 1-1.4 .3-1.5 0-1.4-.3-1.5-.8zM241.2 343.8l-1.5-.5-1.9-1.2-.8-1.5 .2-1.5 1.1-1 1.4-.8 1.5-.4 1.4 0 1.5 .2 1.4 .5 1.5 1.1 .4 .4 .4 1.5-.8 1.7-1.5 1-1.4 .5-1.5 .1-1.4-.1z" fill="rgb(0,94,255)" fill-rule="evenodd"/>
<path d="M212.1 403.6l7.3 .6 8.7 .5 18.9 .2 16-.6 21.7-1.5 4.4 .1 7.3 .8 2.9 .1 2.9-.3 2.9-1 1.4-.2 4.4 0 0-19.7-4.4 0-4.3-1-1.5-.1-10.1-.2-5.9-.5-2.9-.6-2-.6-2.1-1.5 .3-1.5 2.6-1.5 2.7-.7 2.9-.5 5.8-.3 10.2 .8 4.3-.3 4.4 0 0-27.3-4.4 0-1.4-.2-5.8-2.1-8.3-2.4-3.1-1.5-1.7-1.5-.6-1.5 .3-1.5 1.2-4.5 .1-1.5-.4-3 0-4.5-49.1 .1 0 4.4-.9 4.5 .1 1.5 .5 1.5 .9 .5 4.3 .6 1.5 .4 1.4 .5 1.5 1 1.2 1.5 .3 1.5-.7 1.5-.8 .8-1.5 .9-1.4 .4-2.9 .1-2.8-.7-4.5-2.6-1.4-.1-11.6 3.2-4.4 1.5-4.4 2.1-2.8 1.9-3.2 3-2.1 3-1.3 3-.3 1.5 0 1.5 .2 1.5 .6 1.5 1.5 1.5 4.5 2.6 2.8 1.9 1.3 1.5 .6 1.5 0 1.5-.3 .6-.5 .9-1 .9-1.4 .8-2.9 1.2-7.3 2-5.8 .1 0 20.6 5.8 0 11.6 1.4zM244.1 381.1l-2.9-.3-3.4-1.2 .2-1.5 1.7-.5 2.9-.5 4.4 .3 3 .7 .8 1.5-2.4 1-1.4 .3-2.9 .2zM273.1 343.9l-1.4-.3-1.5-.7-1-.8-.9-1.5 0-1.5 1.2-1.5 .7-.5 1.5-.6 1.4-.3 2.9 0 1.5 .3 2.6 1.1 1.4 1.5-.2 1.5-1.4 1.5-3.2 1.5-2.1 .4-1.5-.1z" fill="rgb(0,116,255)" fill-rule="evenodd"/>
<path d="M225.2 403.6l11.6 .4 13.1-.1 16-.7 20.3-1.9 4.4 0 7.2 .3 2.9-.3 1.5-.5 1.4-.7 1.5-1 1.4-.5 4.4 0 0-12.8-4.4 0-1.4-.3-4.4-2-3.8-.9-9.3-.8-5.8-1-3.8-1.2-1.7-1.5 .4-1.5 2.6-1.5 2.5-.8 2.9-.6 5.9-.6 10.1 .1 1.5-.2 4.3-.9 4.4 0 0-23.4-4.4 0-1.4-.2-2.9-1.2-4.4-1.1-14.5-3-1.5 0-4.3 1-2.9 .3-2.9-.4-1.5-.6-1.4-1-.4-.4-.9-1.5 0-1.5 .7-1.5 .6-.6 2.9-1.6 5.8-1 1.4-.6 .9-.7 .9-1.5 .3-1.5-.4-3 0-4.4-36.5 0 0 4.4-.7 3-.1 1.5 .4 1.5 1.3 1.5 2 1.5 1.5 1.5 .7 1.5 0 1.5-.6 1.5-1.7 1.5-1.4 .7-1.4 .4-2.9 .2-5.8-1-1.5-.1-2.9 .3-8.7 1.9-5.8 1.8-2.9 1.4-2.9 1.9-1.6 1.5-1.3 1.5-1.8 3-.8 3-.1 1.5 .2 1.5 .6 1.5 1.2 1.5 5 3.6 2.6 2.4 1 1.5 .7 1.5 .5 1.5-.6 1.5-2.4 1.5-4.6 1.5-5.8 1.5-3 .7-5.8 .2 0 17.5 5.8 .1 11.6 1.5 13.1 1zM241.2 381.3l-1.5-.2-3.9-1.5-.1-1.5 2.6-.9 1.4-.3 4.4-.3 4.3 .5 3.2 1 .7 1.5-2.4 1.2-1.5 .4-2.9 .3-4.3-.2z" fill="rgb(0,144,255)" fill-rule="evenodd"/>
<path d="M216 402.1l9.2 .7 10.2 .4 11.6 0 10.2-.4 13-1 14.5-1.6 11.7-1 2.9-.7 1.4-.6 1.5-1.1 1.4-1.4 2.5-3.8-.6-1.5-.4-.3-.8-1.2-1.6-1.5-2.5-1.5-3.8-1.5-4.4-1-8.7-1.3-4.4-1-2.9-1.2-1.3-1.5 .7-1.5 2.5-1.5 5.4-1.6 5.8-.7 10.2-.5 2.9-.6 2.9-1.1 1.4-.3 4.4 0 0-19.9-4.4 0-1.4-.3-2.9-1.2-4.4-1.2-14.5-2.4-2.9-.3-5.8 .1-2.9-.5-1.5-.5-1.4-.8-1.3-1.2-.9-1.5-.2-1.5 .3-1.5 1-1.5 1.1-1 3.1-2 1.6-1.5 .5-1.5-.5-3 0-4.4-22.5 0 0 4.4-.5 1.5-.8 1.5-.6 3 0 1.5 .9 3 .3 1.5-.2 1.5-.7 1.5-1.5 1.5-2.4 1.2-1.4 .4-2.9 .3-4.4-.1-2.9 .2-11.6 2.1-4.3 1.2-3 1.4-2.9 1.9-1.9 1.9-2 3-.9 3 0 1.5 .2 1.5 .5 1.5 1.1 1.5 1.7 1.5 3.9 3 4.7 4.1 3 1.9 1 1.5-2.7 1.5-5 1.5-15.2 3.7-5.8 .2 0 14.8 5.8 .1 7.3 1.3 8.2 .9zM238.3 381.3l-1.1-.2-4.2-1.5-.9-1.5 3.3-1.2 2.9-.5 5.8-.2 4.5 .4 2.7 .8 1.9 .7 .6 1.5-2.8 1.5-4 .6-4.4 .1-4.3-.5z" fill="rgb(0,173,255)" fill-rule="evenodd"/>
<path d="M226.7 402.1l8.7 .3 10.1 .1 8.8-.3 10.1-.7 11.6-1.3 14.6-2.2 4.3-.9 2.9-1.2 1.8-1.3 1.2-1.5 .6-1.5-.2-1.5-1-1.5-1.8-1.5-2.8-1.5-4.4-1.5-10.8-2.2-4.4-1.2-2.4-1.1-1-1.5 1.1-1.5 2.8-1.5 4.6-1.5 5.1-1 10.2-.9 2.9-.4 2.9-.9 2.9-1.5 1.4-.3 4.4 0 0-16.6-4.4 0-1.4-.3-2.9-1.4-4.4-1.2-10.2-1.5-7.2-1.3-7.3-.7-2.9-.9-1.4-.7-1.5-1.1-.8-.8-.9-1.5-.6-1.5-.4-4.5-.4-1.5-.7-1.5-.5-.5-1.5-.5-1.4 .1-1.5 .5-1.4 .8-2.9 2.5-1.5 1.7-1.6 4.4-.9 1.5-1.4 1.5-1.9 1.2-2.9 1-8.7 1-13.1 2.4-4.3 1.3-3 1.5-2.7 2.1-1.3 1.5-.9 1.5-.6 1.5-.3 1.5-.1 1.5 .3 1.5 .5 1.5 1 1.5 1.6 1.5 5.5 4.1 2.9 1.6 2.9 1.2 5.8 1.4 2.9 .1 10.1-.3 4.4 .3 4 .6 4 1.5 .6 1.5-2.6 1.5-3.1 .7-4.4 .4-5.8-.2-10.1-1.7-2.9 0-7.3 1.4-7.3 1.5-7.2 1.8-4.4 1.2-1.4 .2-4.4 0 0 12.2 5.8 .1 5.8 1.3 5.8 .8 7.3 .8 7.3 .5z" fill="rgb(0,203,255)" fill-rule="evenodd"/>
<path d="M217 400.6l9.7 .8 10.1 .4 11.6-.1 10.2-.5 11.6-1.1 8.7-1.3 8.7-1.7 4-1 1.9-.7 1.5-.8 1.4-1.1 .4-.4 .7-1.5-.1-1.5-1-1.5-1.5-1.1-2.9-1.6-2.9-1-15.5-3.8-3.5-1.5-.4-1.5 2-1.5 3.1-1.5 4.6-1.5 5.3-1.2 13.1-1.9 2.9-.8 2.9-1.4 1.5-1 1.4-.4 4.4 0 0-13.3-4.4 0-1.4-.4-2.9-1.6-4.4-1.3-13.1-1.9-13-2.5-2.9-1.1-1.8-1.2-1.7-1.5-2.3-3-1.5-1.2-1.4-.5-1.5-.1-1.4 .1-1.5 .5-1.4 .9-4.4 4.8-2.3 1.5-2.1 .9-2.9 .7-18.8 3.5-2.9 .7-2.9 1-3 1.7-2.1 2-1 1.5-.7 1.5-.3 1.5-.1 1.5 .2 1.5 .6 1.5 1 1.5 1 1 2.9 2.3 2.9 1.7 2.9 1.2 7.3 1.9 4.3 .6 13.1 .7 6.4 1.1 4 1.5 .8 1.5-2.9 1.5-4 .9-4.3 .5-5.8 0-10.2-.9-2.9 0-2.9 .3-7.2 1.2-7.3 1.6-5.8 1.5-4.4 1.4-1.4 .2-4.4 0 0 9.5 4.4 0 1.4 .2 7.3 1.8 9.2 1.3z" fill="rgb(0,234,255)" fill-rule="evenodd"/>
<path d="M224.9 400.6l11.9 .5 13.1-.1 13.1-.8 10.1-1.3 10.2-1.9 3.3-.9 4-1.5 2.3-1.5 1-1.5 0-1.5-1.1-1.5-2.1-1.5-3.5-1.5-5.3-1.5-17.5-3.8-2.9 .1-2.8 .7-5.9 1.2-4.4 .5-5.8 .2-11.6-.6-7.2 .7-8.8 1.6-5.8 1.3-4.3 1.4-4.4 1.8-1.4 .3-4.4 0 0 6.2 4.4 0 1.4 .3 4.3 1.6 5.9 1.3 7.3 1.1 6.9 .6zM256.3 376.6l2.3 .7 2.9 .5 2.9 0 1.5-.2 6.9-2.5 7.6-2.3 5.8-1.2 7.3-1.1 4.3-1 4.4-1.8 2.9-2.1 1.4-.5 4.4 0 0-9.8-4.4 0-1.4-.5-1.5-1.1-2-1.1-3.8-1.2-12.7-1.8-13.4-3-2.9-1-1.5-.8-1.7-1.2-2.6-2.2-1.5-.8-1.4-.6-1.5-.2-1.4 .1-1.5 .4-1.4 .8-3.1 2.5-2.1 1.5-3.6 1.6-12.5 2.9-10.7 2.1-2.9 1-2.8 1.4-1.8 1.5-1.2 1.5-.8 1.5-.4 1.5 0 1.5 .2 1.5 .7 1.5 1.7 2.2 3 2.2 2.9 1.4 2.9 1 8.7 2.1 4.3 .7 11.6 1 7.9 1.4z" fill="rgb(0,255,246)" fill-rule="evenodd"/>
<path d="M216.9 399.1l11.2 1.1 13.1 .3 14.5-.4 11.6-1.1 5.8-.9 5.8-1.2 3.4-.8 3.9-1.3 3.1-1.7 1.3-1.5 0-1.5-1.1-1.5-1.9-1.2-4.4-1.8-8.6-2.1-8.7-1.5-2.9-.2-2.9 .1-8.8 1.1-4.3 .3-4.4 .1-10.1-.3-5.8 .4-8.7 1.5-8.8 2.1-4.3 1.5-1.5 .8-1.3 .7-1.5 1.5-.7 1.5 .6 .3 .9 1.2 2.7 1.5 5.1 1.6 7.7 1.4zM251.3 375.1l8.8 1.2 2.9 .1 2.9-.2 2.9-.6 11.6-3.2 16-3.6 2.9-1 2.9-1.5 2.1-1.7 .8-1 1.4-1 4.4 0 0-4.9-4.4 0-1.4-.9-1-1.2-1.9-1.4-1.5-.7-2.9-1-2.9-.6-10.2-1.4-10.1-2.3-5.8-1.8-2.6-1.3-4.7-2.7-1.4-.4-1.5-.2-1.4 0-1.5 .4-1.4 .6-3.7 2.3-2.2 1.2-2.9 1.1-13 3.3-8.7 1.8-4.4 1.5-2.6 1.6-1.5 1.5-.9 1.5-.4 1.5-.1 1.5 .3 1.5 .8 1.7 1.1 1.3 1.9 1.5 2.9 1.6 5.8 1.8 8.7 2.1 4.3 .7 11.6 1.3z" fill="rgb(0,255,217)" fill-rule="evenodd"/>
<path d="M222.8 399.1l11.1 .7 11.6 .1 10.2-.5 11.6-1.1 8.7-1.6 2.9-.7 4.2-1.4 2.9-1.5 1.4-1.5 .1-1.5-1.2-1.5-1.6-.9-1.1-.6-3.2-1.2-5.8-1.4-8.7-1.4-4.4-.3-2.9 .1-11.6 .8-14.5 .1-7.3 .7-8.7 1.6-5.8 1.6-2.6 .9-3 1.5-1.6 1.5-.2 1.5 1.2 1.5 2.9 1.5 6.2 1.7 9.2 1.3zM255.7 375.1l5.8 .4 2.9-.2 4.4-.6 22.8-5.6 4.8-1.4 2.9-1.1 1.4-.8 1.7-1.2 1.2-1.4 .8-1.6 .3-1.5-.3-1.5-.8-1.5-1.4-1.4-2.9-1.6-4.4-1.1-10.2-1.5-8-1.9-5-1.3-2.9-1-7.3-3.3-2.9-.6-1.4 .1-2.9 .8-5.9 2.8-4.3 1.5-9.4 2.5-12.4 3-2.9 1.3-1.4 1-.8 .7-1.1 1.5-.6 1.5 0 1.5 .3 1.5 .7 1.3 1.5 1.7 1.4 1 1.5 .8 3.1 1.2 12.8 3.5 5.8 1 13.1 1.5z" fill="rgb(0,255,187)" fill-rule="evenodd"/>
<path d="M230.7 399.1l9 .3 10.2-.2 10.2-.7 8.7-1.2 6-1.2 5.6-1.8 2.5-1.2 1.5-1.5 .1-1.5-1.4-1.5-2.9-1.5-2.7-.9-7.3-1.6-7.2-.9-5.8-.1-10.2 .5-13.1 .2-4.3 .4-5.8 .8-7.3 1.5-5.4 1.6-3.3 1.6-1.5 1.4-.2 1.5 1.7 1.6 3 1.4 2.8 .8 7.3 1.3 9.8 .9zM247.3 373.6l9.9 1 4.3 .1 2.9-.1 2.9-.4 4.4-.8 11.1-2.8 12.1-3.5 2.7-1 1.7-.9 1-.6 1.6-1.5 .9-1.5 .2-1.5-.3-1.5-1-1.5-1-.8-1.4-.9-2.9-1-10.2-1.7-6.8-1.6-10.6-3-5.8-2.3-2.9-.8-1.5-.2-2.9 .3-1.4 .5-6.4 2.5-3.8 1.3-18.9 5-2.9 .9-1.4 .7-1.7 1.1-1.4 1.5-.6 1.5-.1 1.5 .4 1.5 .9 1.5 1.8 1.5 2.1 1.2 4.4 1.5 10.1 3 4.4 .9 6.1 .9z" fill="rgb(0,255,157)" fill-rule="evenodd"/>
<path d="M221.6 397.6l9.4 .9 10.2 .3 10.1-.3 10.2-.8 8.7-1.4 6.4-1.7 3.3-1.5 1.6-1.5 .1-1.5-1.5-1.5-4.1-1.7-5.8-1.4-7.2-1-4.4-.2-4.3 0-18.9 .5-5.8 .5-8.7 1.5-5.9 1.5-4.2 1.8-1.8 1.5-.1 1.5 1.6 1.5 3.7 1.5 7.4 1.5zM252.1 373.6l8 .5 2.9-.1 4.3-.5 4.4-.7 4.3-1 9.5-2.7 9-3 3.4-1.5 2-1.5 1-1.5 .3-1.5-.4-1.5-1.5-1.7-2.9-1.3-13.1-2.7-12.3-3.3-8-2.7-2.9-.7-1.5-.1-1.4 0-2.9 .6-8.6 2.9-20.5 6-3.6 1.5-1.7 1.5-.9 1.5-.1 1.5 .4 1.5 1.2 1.5 1.8 1.3 4 1.7 12 3.8 5.8 1.2 8 1z" fill="rgb(0,255,126)" fill-rule="evenodd"/>
<path d="M227 397.6l8.4 .6 10.1 0 8.8-.4 8.7-1 7.2-1.4 3.2-.8 2.6-1.1 1-.4 1.6-1.5 .1-1.5-1.7-1.5-3.9-1.5-5.8-1.3-5.8-.7-7.2-.2-14.6 .3-5.8 .3-5.8 .7-5.1 .9-5.9 1.5-3.6 1.5-1.7 1.5-.1 1.5 1.9 1.5 4.4 1.5 4.3 .9 4.7 .6zM244.6 372.1l8.2 1.1 7.3 .2 7.2-.5 5.8-1 5.1-1.3 4.9-1.5 11.8-4.5 2.9-1.8 1-1.2 .4-1.5-.7-1.5-.7-.6-1.2-.9-1.7-.6-10.2-2.3-23.2-6.7-2.9-.4-2.9 .3-16 4.6-13 4.3-2.1 .8-2.3 1.4-1.2 1.6-.2 1.5 .6 1.5 1.5 1.5 2.6 1.5 3.7 1.5 7.5 2.7 4.4 1.1 3.4 .7z" fill="rgb(0,255,94)" fill-rule="evenodd"/>
<path d="M235.6 397.6l8.5 .1 7.2-.3 7.3-.7 5.8-.8 5.8-1.3 3.8-1.5 1.8-1.5 0-1.5-2-1.5-4.6-1.5-4.8-.9-5.8-.6-7.3-.1-11.6 .2-7.2 .6-5.8 .8-6.5 1.5-3.8 1.5-1.9 1.5 0 1.5 2.1 1.5 5 1.5 6.5 .9 7.5 .6zM248.2 372.1l7.5 .7 5.8 .1 5.8-.6 7.3-1.3 7.2-2.2 9.9-4.2 2.8-1.5 1.6-1.5 .4-1.5-1.1-1.5-3.4-1.5-17.4-5.1-11.6-3.3-4.4-.6-2.9 .2-2.9 .6-14.5 4.3-10.6 3.9-2.7 1.5-1.4 1.5-.4 1.5 .7 1.5 1.8 1.5 2.7 1.5 3.4 1.5 3.9 1.5 4 1.3 4.4 1.1 4.1 .6z" fill="rgb(0,255,62)" fill-rule="evenodd"/>
<path d="M226 396.1l7.9 .8 7.3 .2 8.7-.2 8.7-.8 8.2-1.5 4.2-1.5 1.9-1.5-.1-1.5-2.4-1.5-3.1-.9-2.9-.7-5.8-.7-5.8-.2-7.3 0-7.2 .3-5.8 .5-4.4 .7-4.6 1-4.3 1.5-1.9 1.5 .1 1.5 2.4 1.5 6.2 1.5zM253 372.1l7.1 .2 5.8-.3 5.8-.9 5.8-1.5 5.3-2 6-3 2.4-1.5 1.5-1.5 .2-1.5-1.7-1.5-3.5-1.5-7.3-2.6-8.7-2.7-10.2-2.5-2.9-.3-2.9 .1-4.4 .9-7.2 2.1-7.3 2.3-6.4 2.7-2.6 1.5-1.5 1.5-.5 1.5 .8 1.5 1.7 1.5 2.5 1.5 6 2.7 2.9 .9 4.4 1.2 4.3 .7 4.6 .5z" fill="rgb(0,255,28)" fill-rule="evenodd"/>
<path d="M231.7 396.1l6.6 .4 5.8 0 5.8-.2 5.8-.5 5.8-.9 2.9-.7 3.5-1.1 2-1.5-.2-1.5-2.8-1.5-3.9-.9-3.8-.6-4.9-.4-5.9-.1-7.2 .2-5.8 .4-8.7 1.5-4.5 1.4-2 1.5 .2 1.5 2.9 1.5 3.4 .7 5 .8zM245.6 370.6l7.2 1 7.3 .2 7.2-.5 5.8-1.1 3.8-1.1 4-1.5 3-1.5 2.5-1.5 1.9-1.5 1.1-1.5-.1-1.5-1.7-1.5-2.8-1.5-3.4-1.5-6.8-2.4-8.7-2.3-4.4-.9-2.9-.3-2.9 .2-4.4 .8-8.7 2.4-6.9 2.5-3.1 1.5-2.3 1.5-1.5 1.5-.5 1.5 .7 1.5 1.5 1.5 2.4 1.5 5.4 2.5 2.9 .9 4.4 1.1z" fill="rgb(6,255,0)" fill-rule="evenodd"/>
<path d="M227.3 394.6l5.2 .8 5.8 .4 5.8 .1 5.8-.3 5.8-.5 4.4-.8 4.4-1.2 2.3-1.5-.4-1.5-3.6-1.5-2.7-.5-4.4-.6-4.4-.2-5.8 0-5.8 .2-8.7 1.1-5.5 1.5-2.3 1.5 .4 1.5 3.7 1.5zM248.6 370.6l5.7 .6 7.2 .1 7.3-.8 5.8-1.3 4.5-1.6 3-1.5 2.3-1.5 1.6-1.5 .8-1.5-.2-1.5-1.5-1.5-2.4-1.5-3.8-1.7-7.2-2.4-8.7-2.1-4.4-.5-2.9 .2-4.4 .8-4.3 1.1-7.3 2.2-5.2 2.4-2.2 1.5-1.4 1.5-.4 1.5 .5 1.5 1.5 1.5 2.2 1.5 2.1 1.1 2.9 1.2 2.9 .9 6 1.3z" fill="rgb(43,255,0)" fill-rule="evenodd"/>
<path d="M232.4 394.6l4.4 .4 5.8 .2 5.8-.2 4.4-.3 4.4-.7 3.6-.9 2.5-1.5-.6-1.5-2.6-.9-2.9-.7-4.4-.4-4.4-.1-5.8 .1-4.3 .3-4.4 .6-4.8 1.1-2.6 1.5 .7 1.5 5.2 1.5zM252.7 370.6l5.9 .3 5.8-.3 5.8-.9 4.4-1.1 4.3-1.7 1.5-.8 2.3-1.5 1.5-1.5 .6-1.5-.3-1.5-1.4-1.5-1.3-.8-1-.7-3.2-1.5-5.9-2-8.7-2.1-4.4-.4-4.3 .3-4.4 .9-6.6 1.8-5 2-2.1 1-2.1 1.5-1.4 1.5-.4 1.5 .5 1.5 1.4 1.5 2.1 1.5 3.4 1.6 5.8 1.8 2.9 .6 4.3 .5z" fill="rgb(82,255,0)" fill-rule="evenodd"/>
<path d="M231.5 393.1l3.9 .8 2.9 .4 4.3 .2 4.4-.2 4.3-.4 5-.8 3.1-1.5-1.2-1.5-3.9-.8-5.9-.6-5.8 .1-4.3 .5-4.9 .8-3 1.5 1.1 1.5zM246.1 369.1l5.2 .9 5.9 .4 5.8-.2 5.8-.7 5.8-1.5 4.3-1.9 2.2-1.5 1.4-1.5 .5-1.5-.3-1.5-1.3-1.5-1-.6-1.3-.9-3.1-1.4-4.3-1.5-4.4-1.2-5.8-1.1-4.3-.2-4.4 .5-5.8 1.4-6.1 2-3.1 1.5-1 .7-1.2 .8-1.3 1.5-.4 1.5 .5 1.5 1.3 1.5 2.2 1.5 1.8 .9 2.9 1.1 3.5 1z" fill="rgb(120,255,0)" fill-rule="evenodd"/>
<path d="M238.1 393.1l4.5 .3 5.8-.2 1.5-.2 4.3-1.4-2.9-1.5-4.3-.3-5.8 .2-1.5 .2-4.3 1.4 2.7 1.5zM248.7 369.1l5.6 .7 5.8 .1 5.8-.4 4.3-.8 3.7-1.1 3.6-1.6 2.1-1.4 1.4-1.5 .5-1.5-.4-1.5-1.3-1.5-2.3-1.5-3.3-1.5-5.4-1.7-5.8-1.2-4.4-.4-4.3 .3-4.4 .8-5.8 1.7-4.8 2-2.2 1.5-1.3 1.5-.4 1.5 .5 1.5 1.3 1.5 2.2 1.5 4.7 1.9 4.6 1.1z" fill="rgb(156,255,0)" fill-rule="evenodd"/>
<path d="M251.9 369.1l5.3 .4 5.8-.2 4.3-.6 4.7-1.1 3.8-1.5 2.4-1.5 1.3-1.5 .5-1.5-.4-1.5-1.3-1.5-.8-.5-1.5-1-2.9-1.2-4.3-1.4-5.8-1.3-4.4-.4-4.3 .3-4.4 .8-4.4 1.3-4.7 1.9-2.3 1.5-1.3 1.5-.4 1.5 .4 1.5 1.4 1.5 2.3 1.5 1.7 .8 4.4 1.4 4.9 .8z" fill="rgb(189,255,0)" fill-rule="evenodd"/>
<path d="M246.6 367.6l4.7 1 5.9 .4 5.8-.2 4.3-.6 4.4-1.1 2.9-1.2 2.2-1.3 .7-.7 .7-.8 .5-1.5-.5-1.5-1.3-1.5-2.4-1.5-4.3-1.6-4.3-1.2-4.4-.7-4.3-.2-4.4 .5-5.8 1.4-4.4 1.6-2.7 1.7-1.4 1.5-.4 1.5 .5 1.5 1.4 1.5 2.4 1.5 4.2 1.5z" fill="rgb(222,255,0)" fill-rule="evenodd"/>
<path d="M248.8 367.6l5.5 .8 4.3 .2 4.4-.2 4.3-.7 2.9-.7 2.5-.9 2.7-1.5 1.4-1.5 .5-1.5-.4-1.5-1.4-1.5-2.6-1.5-5.6-1.9-4.3-.9-4.4-.4-2.9 .1-4.4 .7-4.3 1.2-2.9 1.1-1.5 .7-1.4 .9-1.4 1.5-.4 1.5 .5 1.5 1.4 1.5 2.8 1.6 4.7 1.4z" fill="rgb(255,254,0)" fill-rule="evenodd"/>
<path d="M251.5 367.6l4.2 .5 4.4 0 4.3-.4 2.9-.5 3.7-1.1 2.9-1.5 1.6-1.5 .5-1.5-.4-1.5-1.5-1.5-2.7-1.5-5.5-1.7-4.4-.8-2.9-.2-4.3 .3-4.4 .9-4.6 1.5-2.7 1.5-1.5 1.5-.4 1.5 .5 1.5 1.5 1.5 1.4 .8 2.9 1.2 4.5 1z" fill="rgb(255,216,0)" fill-rule="evenodd"/>
<path d="M256.1 367.6l4 0 2.9-.2 4.3-.8 2.9-.9 2.3-1.1 1.7-1.5 .5-1.5-.5-1.5-1.6-1.5-2.9-1.5-3.8-1.2-4.4-.7-2.9-.2-4.3 .2-3 .6-4.4 1.3-2.9 1.5-1.6 1.5-.5 1.5 .6 1.5 1.6 1.5 3.3 1.5 3.9 1 4.8 .5z" fill="rgb(255,178,0)" fill-rule="evenodd"/>
<path d="M249.5 366.1l3.3 .7 4.4 .4 4.3-.2 4.4-.6 2.9-.8 2.2-1 1.8-1.5 .6-1.5-.5-1.5-1.7-1.5-3.3-1.5-2-.6-4.4-.8-2.9-.2-2.9 .1-2.9 .4-4.1 1.1-3.3 1.5-1.6 1.5-.6 1.5 .6 1.5 1.7 1.4 4 1.6z" fill="rgb(255,140,0)" fill-rule="evenodd"/>
<path d="M252 366.1l3.7 .5 2.9 .1 2.9-.2 3.1-.4 4.7-1.5 2.1-1.5 .6-1.5-.5-1.5-1.9-1.5-3.7-1.5-4.4-.8-2.9-.2-2.9 .1-2.9 .4-2.9 .8-2.9 1.2-1.9 1.5-.5 1.5 .6 1.5 2.1 1.5 2.6 1 2.1 .5z" fill="rgb(255,100,0)" fill-rule="evenodd"/>
<path d="M256.5 366.1l5-.1 2.9-.5 2.9-.8 2.6-1.6 .7-1.5-.6-1.5-2.1-1.5-4.6-1.5-3.2-.4-2.9 0-2.9 .2-3 .7-2.7 1-2 1.5-.6 1.5 .7 1.5 1.7 1.2 1.5 .6 2.9 .7 3.7 .5z" fill="rgb(255,60,0)" fill-rule="evenodd"/>
<path d="M251.2 364.6l3.1 .7 1.4 0 4.4 .1 2.9-.2 2.3-.6 2-.9 .9-.6 .9-1.5-.7-1.5-2.4-1.5-1.6-.5-5.8-.8-5.8 .6-2.2 .7-2.2 1.3-.2 .2-.7 1.5 .8 1.5 2.9 1.5z" fill="rgb(255,20,0)" fill-rule="evenodd"/>
</g></g>
<rect x="200" y="328.1" width="105.6" height="109" fill="none" stroke="#111" stroke-width="0.9" />
<path d="M200 437.1L200 439.7M208.8 437.1L208.8 438.6M217.6 437.1L217.6 439.7M226.4 437.1L226.4 438.6M235.2 437.1L235.2 439.7M244 437.1L244 438.6M252.8 437.1L252.8 439.7M261.6 437.1L261.6 438.6M270.4 437.1L270.4 439.7M279.2 437.1L279.2 438.6M288 437.1L288 439.7M296.8 437.1L296.8 438.6M305.6 437.1L305.6 439.7M197.4 437.1L200 437.1M198.5 423.48L200 423.48M197.4 409.85L200 409.85M198.5 396.23L200 396.23M197.4 382.6L200 382.6M198.5 368.98L200 368.98M197.4 355.35L200 355.35M198.5 341.73L200 341.73M197.4 328.1L200 328.1" stroke="#111" stroke-width="0.8" fill="none"/>
<text transform="translate(200 449.2) scale(0.86 1)" font-size="9.4" font-weight="bold" text-anchor="middle" fill="#111" stroke="#111" stroke-width="0.3">0</text>
<text transform="translate(217.6 449.2) scale(0.86 1)" font-size="9.4" font-weight="bold" text-anchor="middle" fill="#111" stroke="#111" stroke-width="0.3">2</text>
<text transform="translate(235.2 449.2) scale(0.86 1)" font-size="9.4" font-weight="bold" text-anchor="middle" fill="#111" stroke="#111" stroke-width="0.3">4</text>
<text transform="translate(252.8 449.2) scale(0.86 1)" font-size="9.4" font-weight="bold" text-anchor="middle" fill="#111" stroke="#111" stroke-width="0.3">6</text>
<text transform="translate(270.4 449.2) scale(0.86 1)" font-size="9.4" font-weight="bold" text-anchor="middle" fill="#111" stroke="#111" stroke-width="0.3">8</text>
<text transform="translate(288 449.2) scale(0.86 1)" font-size="9.4" font-weight="bold" text-anchor="middle" fill="#111" stroke="#111" stroke-width="0.3">10</text>
<text transform="translate(305.6 449.2) scale(0.86 1)" font-size="9.4" font-weight="bold" text-anchor="middle" fill="#111" stroke="#111" stroke-width="0.3">12</text>
<text transform="translate(196.4 440.4) scale(0.86 1)" font-size="9.4" font-weight="bold" text-anchor="end" fill="#111" stroke="#111" stroke-width="0.3">0</text>
<text transform="translate(196.4 413.15) scale(0.86 1)" font-size="9.4" font-weight="bold" text-anchor="end" fill="#111" stroke="#111" stroke-width="0.3">1</text>
<text transform="translate(196.4 385.9) scale(0.86 1)" font-size="9.4" font-weight="bold" text-anchor="end" fill="#111" stroke="#111" stroke-width="0.3">2</text>
<text transform="translate(196.4 358.65) scale(0.86 1)" font-size="9.4" font-weight="bold" text-anchor="end" fill="#111" stroke="#111" stroke-width="0.3">3</text>
<text transform="translate(196.4 331.4) scale(0.86 1)" font-size="9.4" font-weight="bold" text-anchor="end" fill="#111" stroke="#111" stroke-width="0.3">4</text>
<text transform="translate(188.6 382.6) rotate(-90) scale(0.9 1)" font-size="9.4" text-anchor="middle" fill="#111" stroke="#111" stroke-width="0.3">R(Å)</text>
<text transform="translate(254.5 460.4) scale(0.9 1)" font-size="9.4" text-anchor="middle" fill="#111" stroke="#111" stroke-width="0.3">k(Å)<tspan font-size="6" dy="-3.4">-1</tspan></text>
<rect x="311.3" y="326.9" width="8.2" height="2" fill="#8c8c8c" stroke="none" stroke-width="1" />
<rect x="311.3" y="328.9" width="8.2" height="106.7" fill="url(#cb)" stroke="none" stroke-width="1" />
<rect x="311.3" y="435.6" width="8.2" height="2" fill="#000" stroke="none" stroke-width="1" />
<rect x="311.3" y="326.9" width="8.2" height="110.7" fill="none" stroke="#222" stroke-width="0.6" />
<text transform="translate(325 332.2) scale(0.87 1)" font-size="9.4" font-weight="bold" text-anchor="start" fill="#111" stroke="#111" stroke-width="0.3">3.04</text>
<text transform="translate(325 345.54) scale(0.87 1)" font-size="9.4" font-weight="bold" text-anchor="start" fill="#111" stroke="#111" stroke-width="0.3">2.66</text>
<text transform="translate(325 358.88) scale(0.87 1)" font-size="9.4" font-weight="bold" text-anchor="start" fill="#111" stroke="#111" stroke-width="0.3">2.28</text>
<text transform="translate(325 372.21) scale(0.87 1)" font-size="9.4" font-weight="bold" text-anchor="start" fill="#111" stroke="#111" stroke-width="0.3">1.90</text>
<text transform="translate(325 385.55) scale(0.87 1)" font-size="9.4" font-weight="bold" text-anchor="start" fill="#111" stroke="#111" stroke-width="0.3">1.52</text>
<text transform="translate(325 398.89) scale(0.87 1)" font-size="9.4" font-weight="bold" text-anchor="start" fill="#111" stroke="#111" stroke-width="0.3">1.14</text>
<text transform="translate(325 412.23) scale(0.87 1)" font-size="9.4" font-weight="bold" text-anchor="start" fill="#111" stroke="#111" stroke-width="0.3">0.76</text>
<text transform="translate(325 425.56) scale(0.87 1)" font-size="9.4" font-weight="bold" text-anchor="start" fill="#111" stroke="#111" stroke-width="0.3">0.38</text>
<text transform="translate(325 438.9) scale(0.87 1)" font-size="9.4" font-weight="bold" text-anchor="start" fill="#111" stroke="#111" stroke-width="0.3">0.00</text>
<path d="M319.5 328.9L321.1 328.9M319.5 342.24L321.1 342.24M319.5 355.57L321.1 355.57M319.5 368.91L321.1 368.91M319.5 382.25L321.1 382.25M319.5 395.59L321.1 395.59M319.5 408.93L321.1 408.93M319.5 422.26L321.1 422.26M319.5 435.6L321.1 435.6" stroke="#222" stroke-width="0.7" fill="none"/>
<text x="244.6" y="365.7" font-size="12.4" font-weight="bold" text-anchor="start" fill="#000" stroke="#000" stroke-width="0.3" >Fe-Fe</text>
<text x="219.5" y="396.9" font-size="12.4" font-weight="bold" text-anchor="start" fill="#000" stroke="#000" stroke-width="0.3" >Fe-O</text>
<text x="205.7" y="424.9" font-size="12.4" font-weight="bold" text-anchor="start" fill="#fff" stroke="#fff" stroke-width="0.3" >FeO</text>
<clipPath id="hc2"><rect x="379" y="326.3" width="102.5" height="107.9"/></clipPath>
<g clip-path="url(#hc2)"><g filter="url(#hbl)">
<rect x="373" y="320.3" width="114.5" height="119.9" fill="rgb(0,0,255)" stroke="none" stroke-width="1" />
<path d="M397.1 429.2l36 .5 53.5-.8 0-108-112.7 0 0 108 23.2 .3zM475.4 405.6l0-.2 1.4-.7 1.4-.2 1.4 .6 .4 .4-.4 .6-1.4 .7-1.4-.1-1.4-1.1zM386.6 369.9l-1.4-.6-1.1-.9 1.1-.6 1.4-.3 1.4 0 1.4 .2 1.7 .7-.3 .5-1.3 1-2.9 0z" fill="rgb(0,13,255)" fill-rule="evenodd"/>
<path d="M409 418.8l15.6 .6 15.5-.2 15.5-1 25.4-2.6 5.6 0 0-7.7-4.2 0-1.4 .3-1.4 .6-1.4 .2-1.4-.1-1.4-.4-1.5-.8-.6-.7-.1-1.5 1.6-1.5 2-.5 2.8 .1 2.8 .8 4.2 0 0-83.5-112.7 0 0 96 5.6 .1 29.5 1.8zM421.8 331.4l1.4-.7 1 .6-1 1.2-1.4-1.1zM383.7 370l-.3-.1-1.3-1.5 1.6-1.4 1.5-.3 1.4-.2 2.8 .2 1.4 .5 1.8 1.2-.8 1.5-2.4 .6-2.8 0-2.9-.5z" fill="rgb(0,26,255)" fill-rule="evenodd"/>
<path d="M386.3 411.4l20 .9 18.3 .2 15.5-.5 18.3-1.2 5.7-.6 2.8-.5 1.4-.4 1.4-1.1 1.4-2.7 1.5-1.5 2.8-1.1 2.8-.4 4.2 .5 4.2 0 0-82.1-112.7 0 0 90.2 5.6 0 6.8 .3zM421.8 333l-.3-.2-.6-1.5 .9-1.1 1.4-.4 1.4 .7 .5 .8-.5 1.5-1.4 .4-1.4-.2zM380.9 369.9l-1.2-1.5 1.1-1.5 2.9-.9 2.9-.2 2.8 .3 2.8 .8 1.8 1.5-.4 1.5-1.4 .6-2.8 .7-1.4 .1-2.8-.2-2.9-.6-1.4-.6z" fill="rgb(0,41,255)" fill-rule="evenodd"/>
<path d="M373.9 408.4l5.6 .1 16.9 .9 15.5 .3 16.9-.1 14.1-.5 15.5-1.2 5.7-.7 2.8-.8 3.5-2.4 3.1-1.5 1.9-.5 2.8-.3 8.4 .2 0-81-112.7 0 0 44.6 4.2 0 5.6-.8 4.3 .3 4.2 1.1 1.6 .8 1.5 1.5-.1 1.5-1.6 1-1.4 .5-2.8 .5-4.2 .1-2.9-.4-2.8-.8-1.4-.2-4.2 0 0 37.8zM421.8 333.6l-1.3-.8-.5-1.5 .4-.8 .5-.7 .9-.6 1.4-.2 1.4 .5 .5 .3 .8 1.5-.5 1.5-.8 .6-1.4 .4-1.4-.2zM462.7 381.8l-.7-.1-.9-1.5 1.6-.3 1.4 0 1.9 .3-.7 1.5-2.6 .1z" fill="rgb(0,58,255)" fill-rule="evenodd"/>
<path d="M382.2 407l14.2 .7 15.5 .3 15.5-.1 12.7-.5 12.7-.9 8.5-.9 4.2-.9 5.6-2.3 4.3-1.3 4.2-.4 7 0 0-79.8-100.8 0 0 4.5-.3 1.4-2.6 4.5-1.2 3-1.4 4.4-.8 4.9-.6 2.5-.2 1.5 .1 3 .7 3.7 .7 5.2 .5 1.5 1.6 1.4 8.5 2.4 2.8 1.1 1.4 .8 1.7 1.7 .1 1.5-1.7 1.4-1.5 .6-4.2 .8-4.2 .1-7.1-.4-4.2 0 0 34.4 8.3 .2zM421.8 334.3l-1.4-.8-.8-.7-.5-1.5 .5-1.5 .8-.8 1.4-.6 1.4-.2 1.4 .4 1.5 1.2 .5 1.5-.4 1.5-1.6 1.2-1.4 .4-1.4-.1zM459.8 381.8l-.6-1.6 2.1-.7 1.4-.3 2.8 .1 1.4 .3 1.7 .6-.5 1.5-2.6 .7-2.8 0-2.9-.6z" fill="rgb(0,75,255)" fill-rule="evenodd"/>
<path d="M381 405.5l12.6 .7 16.9 .4 15.5 0 12.7-.6 14.1-1.1 8.5-1 4.2-.8 7-2.3 2.9-.7 5.6-.8 5.6-.1 0-78.3-92.9 0 0 4.5-.6 1.4-2.8 3-1.9 3-1.4 2.9-1 3-.7 3-.3 2.9-.2 3 .2 3 1 7.4 .3 1.5 .6 1.5 1.5 1.4 5.2 2.5 3.3 2 1.3 1.5 .3 1.5-1 1.4-1.1 .7-1.4 .6-2.8 .7-5.6 .6-12.7 .3 0 31.1 7.1 .2zM420.4 334.4l-1.9-1.6-.5-1.5 .2-1.5 .8-1.3 1.4-1.2 1.4-.3 1.4 0 1.4 .3 1.4 1 1.1 1.5 .3 1.5-.5 1.5-.9 1-1.4 .8-1.4 .4-1.4-.1-1.4-.5zM424.6 377.4l-.9-.1 .9-.2 1.6 .2-1.6 .1zM458.4 381.8l-.2-.1-.4-1.5 2-1.1 2.9-.6 2.8 0 2.4 .3 1.8 .6 1.4 .8-.5 1.5-3.7 1.2-1.4 .2-2.8-.1-2.9-.6-1.4-.6z" fill="rgb(0,94,255)" fill-rule="evenodd"/>
<path d="M407 405.5l12 0 12.7-.3 9.8-.5 9.9-.9 7-.9 5.7-1 14.5-3.8 2.4-.8 1.4-.2 4.2 0 0-14.6-4.2 0-1.4-.4-2.8-1.7-1.4-.1-1.4 .7-.7 .7-4.8 1.5-3 .4-4.2-.1-2.9-.5-2.8-1.2-.6-1.6 2-1.4 1.4-.4 2.9-.5 2.8-.1 4.2 .3 3.6 .7 3.5 1.4 1.4-.6 .2-.8 2.6-3.5 1.4-.8 4.2 0 0-53.6-59.8 0 0 4.5 .2 1.4 .4 .7 .8 2.3 .1 1.5-.5 1.5-1.3 1.5-1.9 1-1.4 .2-1.4 0-1.4-.3-1.9-.9-1.3-1.5-.8-1.5-.2-1.3-1.2-1.7-1.7-.6-1.4-.3-5.6-.6-4.2 .4-2.9 .9-1.4 .7-1.4 .9-1.9 1.6-2.3 2.9-1.4 2.5-1.3 3.5-.6 3-.3 2.9 .1 3 1.2 8.9 .2 1.5 .6 1.5 1.1 1.4 6 4 2.1 2 .6 1.5-.3 1.4-1 1-1.4 .8-4.2 1.1-14.1 1.8-5.6 0 0 28.1 5.6 .1 14.1 .9 13.4 .4zM419 346.9l-.8-.8 .7-1.5 1.5-.3 .6 .3 .8 1.5-1.4 1-1.4-.2zM420.4 377.3l1.4-1.5 2.8-.2 1.8 .2 1 .4 1.7 1.1-1.7 .8-1.4 .3-1.4 .1-1.4-.2-2.8-1z" fill="rgb(0,116,255)" fill-rule="evenodd"/>
<path d="M391.3 404l13.6 .5 15.5 .1 12.7-.4 14.1-1 9.8-1.3 8.5-1.7 7.5-2.1 4-1.5 2.8-1.5 1.2-1 1.4-.4 4.2 0 0-6.1-4.2 0-1.4-.5-.9-.9-1.9-1.2-1.4-.6-1.4-.3-2.9-.1-7 .2-2.8-.2-2.9-.4-1.4-.4-2.7-1.5-.6-1.5 1.7-1.4 3-1 4.3-.6 7-.5 2.8-.6 1.5-.8 1.2-1 4.4-4.2 1.4-.5 4.2 0 0-48.7-54.9 0 0 4.5-1.8 2.9-.6 3-.6 1.5-1.3 1.5-1.4 1-1.4 .7-1.4 .3-1.4 .1-1.4-.2-2.8-1.1-2.9-2-1.4-.8-2.8-.7-4.2-.6-2.8 .1-2.8 .7-2 1-1.9 1.5-1.8 2-1.4 2.4-.6 1.5-.8 3-.3 4.4 1.3 11.9 .4 1.5 .9 1.4 1.7 1.5 3.9 3 1.6 1.5 1.2 1.5 .8 1.4-.2 1.5-1.4 1-1.2 .5-5.9 1.3-15.5 1.9-5.6 .1 0 25.4 5.6 .1 11.8 .9zM421.8 378.9l-1.4-.4-2.6-1.2 .1-1.5 2.5-.7 2.8-.2 4.2 .4 1.8 .5 1.7 1.5-2.1 1.5-2.8 .3-4.2-.2zM419 348l-.9-.4-1.1-1.5 .3-1.5 1.7-1.2 1.4-.1 1.4 .7 .6 .6 .2 1.5-.8 1.2-1.4 .7-1.4 0z" fill="rgb(0,144,255)" fill-rule="evenodd"/>
<path d="M383.6 402.5l12.8 .9 15.5 .4 15.5-.2 12.7-.7 12.7-1.4 7-1.2 4.3-1 4.2-1.2 4.1-1.5 2.9-1.5 1.5-1.2 1.4-1.8 .2-1.5-.4-1.4-1.1-1.5-1.5-1.2-1.5-.6-1.4-.4-9.8-.9-4.3-.9-1.5-.5-2.5-1.5-.6-1.5 1.2-1.4 2-.9 4.3-1.1 6.6-1 3.2-1.1 1.4-.8 2.9-2.1 5.6-5.1 1.4-.5 4.2 0 0-45.3-48.4 0 0 4.5-1.4 1.4-3.7 1.9-1.4 1.2-1.8 2.9-1.2 1.5-1.9 1.4-2.2 1.1-2.8 .6-2.8 0-4.3-.7-7-1.5-2.8-.1-2.8 .5-1.4 .6-1.5 1-1.5 1.5-1.3 2.2-.8 2.3-.4 2.9 .1 3 .6 4.4-.1 6 .3 1.5 .8 1.4 1.3 1.5 6.7 5.4 7 4.7 2.8 .2 7.1-.2 4.2 .3 2.8 .6 2.4 .9 1.4 1.5-1.5 1.5-.9 .2-2.8 .5-4.2 .1-4.8-.8-3.6-1.5-1.5-1.1-2.8-.9-11.3 1.3-12.6 1.3-7.1 1-5.6 0 0 23.1 5.6 .1 4.1 .4zM417.6 348.3l-1.1-.7-.8-1.5 .1-1.5 .4-.6 1.4-1.5 1.4-.5 1.4 .1 1.4 .6 1.5 1.9 .1 1.5-.9 1.5-.7 .5-1.4 .5-1.4 .1-1.4-.4z" fill="rgb(0,173,255)" fill-rule="evenodd"/>
<path d="M394.1 402.5l12.2 .5 14.1 .1 11.3-.4 12.6-1 9.9-1.4 8.5-1.8 5.6-1.9 3.1-1.5 2-1.5 1-1.5 .3-1.5-.5-1.4-1.4-1.5-3.5-1.5-8-1.3-4.3-1.1-1.6-.6-2.4-1.5-.8-1.5 1-1.4 2.4-1.3 2.8-.9 3.8-.8 4.7-1.3 2.8-1.3 5.7-4.1 2.8-2.4 2.8-2.9 1.4-.6 4.2 0 0-35.6-4.2 0-1.4-.5-.7-1.7 0-4.5-35.1 0 0 4.5-1.8 1.4-4.7 1.7-4.2 2-1.4 1-4.6 4.2-1.1 .8-2.8 1.6-1.6 .6-1.4 1.5 .9 1.5 .7 .7 1 2.2-.1 1.5-.8 1.5-1.5 1.2-1.4 .5-1.4 .1-1.4-.2-1.4-.5-1.4-1.1-.9-1.5-.6-3.7-.6-.7-.8-.4-2.8-.9-2.8-.5-1.4 0-1.4 .3-1.4 .8-.9 .7-1.1 1.5-.6 1.4-.3 1.5 0 1.5 .3 4.5-.1 1.4-1 4.5-.2 1.5 .2 1.5 .6 1.4 1.2 1.5 1.6 1.5 3.1 2.3 2.8 1.6 2.8 1.3 4.2 1.5 1.5 .4 9.8 1.2 3.2 .6 3.9 1.5 1.2 1.5-1.1 1.5-1.5 .5-2.9 .6-2.8 .3-2.8-.1-2.8-.3-5.2-1-3.3-.9-4.2-.2-15.5 .8-7 .7-5.7 .8-5.6 .1 0 21 5.6 .1 7.1 .8 7.5 .5z" fill="rgb(0,203,255)" fill-rule="evenodd"/>
<path d="M385 401l10 .9 14.1 .5 14.1 0 12.7-.6 11.3-1.2 8.4-1.5 7.1-1.8 2.8-1.1 2.8-1.4 1.7-1.2 1.1-1.5 .2-1.5-.6-1.4-1-.9-.7-.6-2.1-.8-2.3-.7-6.2-1.4-4.2-1.4-2.8-1.7-1-1.5 .5-1.4 2.5-1.5 2.2-.8 8.5-2.5 2.8-1.3 2.8-1.6 4.2-3 2.9-2.4 1.8-1.8 2.4-2.8 1.4-.7 4.2 0 0-30.3-4.2 0-1.4-.7-2.3-2.6-.6-1.4 0-4.5-25.6 0 0 4.5-1.9 1.4-7.7 2.3-4.2 1.6-2.8 1.4-2.8 1.7-7.1 5.3-1.2 1.1-.3 1.5 .5 2.9-.2 1.5-.7 1.5-1.7 1.5-2 .8-1.4 .2-2.8-.1-4.3-.8-1.4 0-1.4 .2-1.4 .6-1.4 .9-2.8 2.9-1.4 1.9-1.3 2.3-.4 1.5 0 1.5 .5 1.4 1.1 1.5 1.6 1.5 4.1 2.6 5.6 2.3 5.7 1.5 8.4 1.4 4.4 1.1 3.3 1.5 1.3 1.5-1 1.5-.9 .4-3.9 1-3.2 .4-5.6-.1-9.9-1.4-5.6-.1-14.1 .5-5.6 .5-7.1 1-5.6 .1 0 19.2 5.6 0 5.5 .7z" fill="rgb(0,234,255)" fill-rule="evenodd"/>
<path d="M392.4 401l12.5 .7 12.7 .2 11.2-.3 11.3-.9 9.9-1.3 7-1.5 5.7-1.9 2-.9 2.2-1.5 1.2-1.5 .2-1.5-.7-1.4-.7-.6-1.4-1-4.4-1.4-4.1-1.1-5-1.9-2.6-1.5-1.5-1.5-.3-1.4 2.1-1.5 11.6-3.7 2.8-1.1 2.8-1.5 4.2-2.6 4.3-3.3 2.8-2.9 2.8-3.9 1.4-1 4.2 0 0-24.4-4.2 0-1.4-1-1.4-2.2-1.2-1.4-1.7-1.5-.7-1.4 0-4.5-18.5 0 0 4.5-1.4 1.4-11.8 3.7-4.2 1.6-5.6 2.9-5.7 4-1.3 1.2-1.1 1.5-.8 4.4-.8 1.5-1.6 1.7-1.4 .8-1.4 .5-5.7 .9-4.2 1.4-2.8 1.2-2.8 1.9-1.8 2-.7 1.5-.1 1.5 .4 1.4 1 1.5 2.6 2.1 2.8 1.6 2.8 1.1 5.7 1.8 11.2 2.3 5.5 1.5 3.3 1.5 1.7 1.5-.7 1.5-2.7 1-2.8 .7-4.3 .5-5.6 0-11.3-1-7 0-14.1 .5-5.6 .6-5.7 .9-5.6 .1 0 17.3 5.6 .1 5.7 .8 7.2 .7z" fill="rgb(0,255,246)" fill-rule="evenodd"/>
<path d="M403.1 401l11.6 .3 11.3-.2 11.3-.7 9.9-1.3 8.4-1.8 2.8-.9 3.4-1.3 2.3-1.5 1.2-1.5 .2-1.5-.8-1.4-2.2-1.5-8.7-3-3.8-1.5-4.2-2-2.9-.8-2.8-.1-8.4 1-5.7 .2-15.5-.7-14.1 .2-8.4 .6-4.3 .6-4.2 .7-5.6 .2 0 15.5 5.6 .1 5.7 .9 5.6 .7 12.3 .7zM442.5 375.8l1.8 .3 1.5 0 5.6-.9 7-1.9 2.9-1 4.2-2 2.8-1.5 2.8-1.9 4.3-3.6 3.1-3.8 1.8-3 .7-1.6 1.4-1.3 4.2 0 0-16.8-4.2 0-1.4-1.6-1-2.4-1.8-2.8-1.6-1.7-2-1.5-1-1.4 0-4.5-12.2 0 0 4.5-1.4 1.4-7.2 2.8-7 2.2-4.3 1.5-5.6 2.7-4.2 2.8-3.3 2.9-1 1.5-1 2.9-.8 1.5-1.2 1.5-1.2 .9-2.8 1.3-5.7 1.7-5.6 2.3-2.8 1.7-1 1-1 1.5-.3 1.5 .3 1.4 1.1 1.5 1.7 1.5 3.4 1.9 5.7 2 5.6 1.4 10.2 2.1 5.3 1.5 2.8 1 2.4 .5z" fill="rgb(0,255,217)" fill-rule="evenodd"/>
<path d="M389.8 399.5l12.3 1 15.5 .3 12.6-.4 11.3-1.1 5.7-.9 4.2-.9 3.7-.9 3.3-1.3 3.1-1.7 1.2-1.5 .2-1.5-.9-1.4-2.3-1.5-13.9-5.1-2.9-.6-2.8-.3-14.1 .3-15.5-.5-14.1 .3-9.8 .7-7.1 1.3-5.6 .2 0 13.8 5.6 .1 4.2 .9 6.1 .7zM443.8 374.3l4.8-.1 5.6-.9 5.6-1.7 5.7-2.5 4.2-2.6 4.2-3.5 3.1-3.5 1.8-3 1.7-4.4 1-6-.1-2.9-1.1-6-1-2.9-.7-1.5-1-1.5-1.2-1.5-2.5-2-2.1-1-.7-.6-1.6-.8 0-4.5-3.1 0 0 4.5-.9 .3-1.8 1.1-2.4 .9-7.1 3-8.4 2.6-4.3 1.6-5.6 2.8-2.8 1.9-2.9 2.3-1.4 1.5-2.3 4.2-1.2 1.5-1.8 1.5-3.1 1.5-9.9 3.8-2.8 1.8-1.6 1.8-.5 1.5 .3 1.4 1.1 1.5 2.1 1.7 4.2 2 4.3 1.3 5.6 1.4 16.9 3.6 3.7 .4z" fill="rgb(0,255,187)" fill-rule="evenodd"/>
<path d="M396.2 399.5l11.5 .7 12.7 0 9.8-.4 11.3-1.1 8.5-1.6 2.8-.7 3.6-1.3 2.6-1.5 1.3-1.5 .1-1.5-1-1.4-1-.7-1.3-.8-3.7-1.5-7.6-2.5-4.3-.9-2.8-.3-14.1 0-12.7-.4-14.1 .3-9.8 .7-4.3 .7-4.2 .9-5.6 .2 0 12.1 5.6 .2 7.1 1.3 9.6 1zM440.3 372.8l4 .4 4.3-.1 5.6-.9 5.6-1.7 4.3-1.8 4.2-2.4 3.1-2.4 3-2.9 2.2-3 .8-1.5 1.3-3 .7-2.9 .4-4.5-.3-5.9-1-4.5-1.3-2.9-1.1-1.5-1.4-1.5-2.2-1.4-1.4-.6-2.8-.4-2.8 .2-2.8 .9-8.5 3.6-8.4 2.6-4.3 1.6-2.8 1.3-2.8 1.7-4.2 3.1-2.2 2.2-3.2 4.5-1.7 1.5-2.8 1.7-10.1 4.2-2.5 1.5-1.5 1.5-.5 1.5 .2 1.4 1.1 1.5 1.9 1.5 2.9 1.4 2.9 1 5.6 1.6 14.1 2.8 4.4 .6z" fill="rgb(0,255,157)" fill-rule="evenodd"/>
<path d="M405.1 399.5l9.6 .3 9.9-.2 9.9-.6 8.4-1.1 6.3-1.3 4.6-1.5 2.7-1.5 1.4-1.5 .2-1.5-1.1-1.4-2.4-1.5-4.6-1.8-7.1-1.9-2.8-.4-4.2-.4-22.6-.5-15.5 .4-9.8 .7-4.3 .7-4.2 1.1-1.4 .2-4.2 0 0 10.4 5.6 .2 5.7 1.2 7 1 12.9 .9zM435.8 371.3l5.7 .8 4.3 .2 4.2-.3 5.6-1.1 4.2-1.3 4.3-1.9 4.2-2.6 2.8-2.2 1.4-1.4 2.8-3.5 1.5-3 1-2.9 .7-4.5-.1-5.9-.7-4.5-1.1-2.9-.9-1.5-1.2-1.5-2-1.5-1.4-.7-1.4-.4-1.4-.1-2.8 .2-2.8 1-7.1 3.2-9.8 3-4.3 1.6-4.2 2.2-4.2 2.9-2.9 2.7-2.9 3.7-2.7 2.4-3.8 2-6.1 2.5-2.8 1.4-.9 .6-1.7 1.5-.7 1.5 .2 1.4 1.1 1.5 2.1 1.5 1.3 .7 4.3 1.5 4.2 1.1 14 2.6z" fill="rgb(0,255,126)" fill-rule="evenodd"/>
<path d="M392 398.1l10.1 .8 12.6 .4 11.3-.2 9.9-.8 8.4-1.3 2.9-.7 4-1.2 3-1.5 1.4-1.5 .2-1.5-1.2-1.4-2.5-1.5-2.1-.8-5.7-1.7-7-1.2-7.1-.4-16.9-.3-14.1 .3-8.4 .6-5.6 .8-5.7 1.6-1.4 .2-4.2 0 0 8.5 4.2 0 1.4 .2 5.7 1.5 6.8 1.1zM442.3 371.3l3.5 .1 5.6-.4 4.2-.9 4.2-1.4 2.9-1.2 4.2-2.4 3.3-2.7 2.8-2.9 1.9-3 1.3-3 .9-4.4 .2-4.5-.3-4.4-.6-3-.5-1.5-.7-1.4-1-1.5-1.6-1.5-1.5-.8-1.4-.5-1.4-.2-2.8 .3-2.8 1-6.9 3.2-8.6 2.4-5.7 2.1-4.2 2.2-3 2.2-2.6 2.2-4.8 5.2-1.9 1.5-2.5 1.4-9.2 4.1-2.5 1.9-.8 1.5 .2 1.4 .3 .5 .8 1 2 1.4 2.9 1.2 4.2 1.3 7 1.5 8.5 1.4 6.4 .6z" fill="rgb(0,255,94)" fill-rule="evenodd"/>
<path d="M397.2 398.1l10.5 .6 11.3 .2 9.8-.5 8.5-.8 6-1 5.4-1.5 3.2-1.5 1.5-1.5 .1-1.5-1.3-1.4-2.7-1.5-2.3-.9-5.7-1.4-7-1-9.9-.4-12.7-.1-14.1 .4-8.4 .7-5.7 1.1-4.2 1.5-1.4 .3-4.2 0 0 6.3 4.2 0 1.4 .3 2.8 1 4.3 1.1 5.6 .9 5 .6zM434.3 369.9l5.8 .7 4.2 .2 5.7-.4 4.2-.7 4.2-1.3 4.3-1.7 4.2-2.6 2.8-2.3 2.1-2.3 2-3 1.3-3 .8-4.4 .1-5.9-.6-4.5-.9-3-.9-1.4-1.1-1.3-1.4-1-1.4-.6-1.4-.3-2.8 .3-9.9 4.1-8.4 2.3-4.3 1.5-4.2 2-4.2 2.9-2.8 2.6-3.7 3.8-2 1.6-2.8 1.7-8.5 3.8-2.5 1.8-.9 1.5 .2 1.4 1.2 1.5 2.4 1.5 2.5 1 4.2 1.2 7 1.5 5.5 .8z" fill="rgb(0,255,62)" fill-rule="evenodd"/>
<path d="M403.9 398.1l9.4 .3 8.5-.1 8.4-.4 7.1-.9 7-1.4 1.9-.5 2.4-1 1-.5 1.6-1.5 .1-1.5-1.4-1.4-4.1-1.9-5.7-1.4-7-1-11.3-.5-11.3 0-12.7 .5-8.4 .8-2.8 .5-2.9 .8-1.8 .7-2.4 1.3-1.4 .5-4.2 0 0 3.1 4.2 0 1.4 .5 .6 .5 3.4 1.5 6.2 1.5 6.7 .9 7.5 .6zM439.3 369.9l5 .2 4.3-.2 4.2-.6 4.2-1.1 4.3-1.6 2.8-1.5 2.8-2 2.8-2.5 2.1-2.6 1.6-3 1-2.9 .4-3-.1-5.9-.6-4.5-1.2-3-1.2-1.4-2-1.3-.7-.2-2.1-.2-1.4 .3-8.5 3.3-11.2 3-4.3 1.7-2.8 1.5-2.8 1.9-2.8 2.4-3.9 3.9-3.2 2.4-3.7 2-6.6 3-2.1 1.5-1 1.5 .2 1.4 1.2 1.5 2.6 1.5 3.8 1.3 4.2 1.1 8.5 1.4 6.2 .7z" fill="rgb(0,255,28)" fill-rule="evenodd"/>
<path d="M393.5 396.6l8.6 .9 11.2 .4 9.9-.1 8.5-.6 7-1 5.6-1.4 3-1.2 1.3-1.1 .4-.4 .1-1.5-1.6-1.4-3.4-1.5-5.4-1.4-7-.9-8.5-.4-9.9-.1-11.2 .3-8.5 .6-4.2 .6-4.9 1.3-3 1.5-1.2 1.4 .3 1.5 1.8 1.5 3.7 1.5 7.4 1.5zM431.1 368.4l6.2 .8 5.6 .3 4.3-.1 4.2-.5 4.2-.9 4.2-1.5 4.3-2.3 2.5-1.8 1.7-1.5 2.5-2.9 1.6-3 .9-2.9 .4-4.5-.3-4.4-.8-4.5-.7-1.5-.8-1.2-1.4-1.1-1.4-.6-1.4-.1-1.4 .3-7.8 2.7-9.1 2.1-5.7 1.9-4.2 2.2-2.8 1.9-5.7 5.3-1.7 1.5-2.1 1.4-2.7 1.5-6.5 3-2.2 1.5-1.1 1.5 .1 1.4 1.4 1.5 .8 .5 1.9 1 3.7 1.2 4.2 1 5.1 .8z" fill="rgb(6,255,0)" fill-rule="evenodd"/>
<path d="M397.8 396.6l8.5 .7 9.9 .2 8.4-.2 8.5-.7 7.9-1.5 4-1.5 1.8-1.5 .1-1.5-1.8-1.4-3.8-1.5-5.4-1.2-5.7-.6-8.4-.5-8.5 0-9.8 .3-8.5 .6-5.6 .9-2 .5-2.2 .8-1.3 .7-1.4 1.4 .3 1.5 1.9 1.5 4.3 1.5 4.6 .9 4.2 .6zM434.7 368.4l5.4 .5 4.2 .1 4.3-.3 4.2-.6 4.2-1.2 4.3-1.8 2.8-1.7 2.8-2.2 1.7-1.7 2.1-3 1.2-3 .6-2.9 .1-3-.5-4.4-1-3.6-1.4-2.2-1.4-1-1.4-.3-1.4 .1-7.1 1.9-9.8 2.1-2.8 .8-2.9 1.1-2.8 1.4-2.8 1.8-2.8 2.3-4.9 4.5-2 1.4-2.6 1.5-6.4 3-2.3 1.5-1.1 1.5 .1 1.4 1.4 1.5 .9 .5 2.8 1.2 4.2 1.2 4.2 .8 5.9 .8z" fill="rgb(43,255,0)" fill-rule="evenodd"/>
<path d="M403.3 396.6l7.2 .4 8.5 .1 7-.3 7.1-.8 5.1-.9 4.5-1.5 1.9-1.5 0-1.5-2-1.4-4.5-1.5-5-.9-5.7-.6-8.4-.3-8.5 0-9.8 .5-7.1 .7-2.9 .6-4.3 1.5-1.6 1.4 .2 1.5 2.2 1.5 4.9 1.5 5.7 .9 5.5 .6zM440.3 368.4l4 .1 5.7-.5 2.8-.5 4.2-1.2 2.8-1.2 2.9-1.5 2.8-2.1 2.1-2 1.2-1.5 1.6-3 .6-1.5 .5-2.9 0-3-.9-4.4-.9-2.3-1.4-1.8-1.4-.8-1.4-.2-1.4 .1-14.1 2.4-5.7 1.7-4.2 2.1-2.6 1.7-6.8 6-2 1.4-2.7 1.6-6 2.9-2.4 1.5-1.2 1.5 .1 1.4 1.6 1.5 2.3 1.1 2.8 .9 5.6 1.2 5.7 .8 5.8 .5z" fill="rgb(82,255,0)" fill-rule="evenodd"/>
<path d="M412.2 396.6l6.8 0 5.6-.2 5.6-.6 5-.7 5-1.5 2.1-1.5 0-1.5-2.3-1.4-4.1-1.3-4.2-.7-5.7-.5-7-.3-8.5 .1-8.4 .4-7.4 .8-5.6 1.5-1.9 1.4 .2 1.5 2.4 1.5 5.2 1.4 2.8 .4 7.1 .8 7.3 .4zM430.2 366.9l5.7 .7 4.2 .3 4.2 .1 4.3-.3 2.8-.4 4.2-1.1 4.2-1.7 2.9-1.7 2.4-1.8 2.7-3 1-1.5 1.2-3 .5-2.9-.2-3-.7-3-1.3-2.5-1.4-1.4-1.4-.6-1.4-.2-2.8 .1-5.7 .5-4.2 .6-4.2 1-4.3 1.6-2.8 1.5-2.8 2-5.6 4.9-2 1.4-2.3 1.5-7 3.6-1.5 .9-1.2 1.5 .1 1.4 1.7 1.5 3.7 1.5 7 1.5z" fill="rgb(120,255,0)" fill-rule="evenodd"/>
<path d="M399.6 395.1l8.1 .8 7 .2 7.1-.1 7-.5 4.3-.7 4.5-1.2 2.4-1.5-.2-1.5-2.6-1.4-1.3-.4-5.4-1.1-4.5-.5-5.6-.3-7.1 0-7 .3-6.3 .5-3.6 .5-4.2 .9-2.4 1.5 .2 1.5 2.8 1.5 6.8 1.5zM433.4 366.9l5.3 .5 4.2 .1 4.3-.2 2.8-.3 4.2-.9 2.8-1 2.8-1.3 2.3-1.4 2-1.4 2.8-3 1-1.5 1.2-3 .3-1.4 0-3-.7-3-.6-1.5-1.2-1.6-1.4-1-.8-.3-2-.5-4.3 0-5.6 .5-4.2 .8-4.3 1.3-4.2 2.2-2.8 2-6.5 5.5-2.3 1.5-5.8 3-2.5 1.5-1.3 1.5 .2 1.4 1.8 1.5 .9 .4 4.2 1.4 7.4 1.2z" fill="rgb(156,255,0)" fill-rule="evenodd"/>
<path d="M404.7 395.1l5.8 .4 5.7 .1 9.8-.4 4.2-.6 4.6-1 2.7-1.5-.2-1.5-1.4-.7-1.7-.7-5.4-1.1-4.4-.4-6.8-.3-7.1 .1-5.6 .4-4.2 .4-4.9 .9-3.2 1.4 .2 1.5 3.2 1.5 8.7 1.5zM437.8 366.9l6.5 .1 4.3-.3 2.8-.5 2.8-.7 2.8-1 2.8-1.3 2.9-1.9 2-1.8 1.3-1.5 .9-1.5 1.3-3 .2-1.4 0-3-.4-1.5-1.1-2.3-1.4-1.5-1.1-.6-1.7-.7-1.4-.2-2.9-.2-4.2 .2-4.2 .6-2.8 .7-4.3 1.6-2.8 1.6-2.8 2.1-5.6 4.7-2.9 1.8-7.3 4.1-1.3 1.5 .2 1.4 2 1.5 3.6 1.2 2.8 .7 4.3 .6 4.7 .5z" fill="rgb(189,255,0)" fill-rule="evenodd"/>
<path d="M413.6 395.1l6.8-.1 7-.6 4.3-.8 3-1.5-.2-1.5-2.8-1.1-2.9-.6-4.2-.5-5.6-.4-5.7 .1-7 .4-5.6 .6-4.7 1.5 0 1.5 3.2 1.3 1.5 .4 7 .9 5.9 .4zM429.4 365.4l7.9 1 4.2 .2 4.3-.1 4.2-.5 2.8-.6 2.8-.9 2.8-1.2 2.9-1.7 1.4-1.1 2.4-2.5 1-1.5 .7-1.5 .7-2.9-.2-3-.5-1.5-1.3-2-1.4-1.1-1.4-.7-1.4-.4-2.9-.4-4.2 0-4.2 .6-4.2 1.1-2.9 1.3-4.2 2.6-6 4.9-2.1 1.5-7.8 4.5-1.3 1.5 .3 1.4 2.2 1.5 5.4 1.5z" fill="rgb(222,255,0)" fill-rule="evenodd"/>
<path d="M404.4 393.6l7.5 .7 8.5 .1 7.3-.8 3.9-1.5-.4-1.5-5.5-1.4-6.7-.5-8.5 .1-4.2 .4-6.4 1.4-.2 1.5 4.7 1.5zM432 365.4l8.1 .8 4.2 0 2.9-.2 5.6-1.1 2.8-.9 2.8-1.3 2.7-1.7 1.7-1.5 1.4-1.5 1-1.5 .7-1.5 .5-1.5 .2-1.4-.1-1.5-.3-1.5-.7-1.5-1.2-1.5-1.6-1.1-2.9-.9-2.8-.4-4.2 .1-2.8 .4-4.2 1.2-2.9 1.3-3.7 2.4-7.5 5.9-7.6 4.5-1.3 1.5 .4 1.4 2.5 1.5 3.1 .9 3.2 .6z" fill="rgb(255,254,0)" fill-rule="evenodd"/>
<path d="M411.4 393.6l4.8 .2 5.3-.2 3.1-.6 3.3-.9-.7-1.5-2.6-.5-5.6-.6-7.1 .1-7.1 1-.6 1.5 3.5 .9 3.7 .6zM435.4 365.4l6.1 .4 5.7-.3 2.8-.4 2.8-.7 2.8-1 2.1-1 2.4-1.4 1.8-1.5 1.4-1.5 1-1.5 .7-1.5 .4-1.5 .2-1.4-.1-1.5-.5-1.5-.9-1.5-1.7-1.5-2.6-1.1-2.8-.5-2.8-.1-4.2 .5-4.2 1.2-2.9 1.3-2.8 1.8-7.5 5.8-7.2 4.5-1.2 1.5 .5 1.4 2.9 1.5 4.1 1 3.7 .5z" fill="rgb(255,216,0)" fill-rule="evenodd"/>
<path d="M410.8 392.1l5.4 .4 2.8 0 3-.4-2-1.5-3.8-.1-3.2 .1-2.2 1.5zM429.6 363.9l3.5 .7 4.2 .6 7 .1 5.7-.7 2.8-.7 2.8-1.1 2.8-1.4 2.5-1.9 1.5-1.5 1-1.5 .7-1.5 .4-1.5 .1-1.4-.2-1.5-.3-.9-1.4-2.1-1.4-1-1.5-.6-2.8-.7-2.8-.2-2.8 .2-2.8 .6-2.8 .9-4.3 2.2-7.9 6-6.9 4.5-1.1 1.5 .6 1.4 3.4 1.5z" fill="rgb(255,178,0)" fill-rule="evenodd"/>
<path d="M432 363.9l6.7 .9 5.6 .1 5.7-.8 2.8-.7 2.4-1 2.8-1.4 2-1.5 1.4-1.5 1.1-1.5 .7-1.5 .4-1.5 .1-1.4-.4-1.5-.7-1.5-1.6-1.5-1.2-.6-2.8-.9-2.8-.2-2.8 .1-2.8 .5-2.8 1-4.3 2.3-7 5.3-6.4 4.4-1.1 1.5 .9 1.4 4.1 1.5z" fill="rgb(255,140,0)" fill-rule="evenodd"/>
<path d="M434.8 363.9l5.3 .5 5.7-.1 2.8-.4 2.8-.6 4.2-1.7 3.4-2.1 1.5-1.5 1.1-1.5 .7-1.5 .4-1.5 0-1.4-.5-1.5-1-1.5-1.4-1.1-1.4-.7-2.8-.6-2.8-.1-2.8 .3-2.8 .7-2.9 1.2-2.9 1.8-12 8.9-.9 1.5 1.2 1.4 2 .8 3.1 .7z" fill="rgb(255,100,0)" fill-rule="evenodd"/>
<path d="M439.2 363.9l5.1 .1 4.3-.6 3.8-1 3.3-1.4 2.7-1.9 1.2-1.1 1.1-1.5 .7-1.5 .3-1.5-.1-1.4-.6-1.5-1.2-1.4-1.4-.9-2.8-.8-2.8-.2-2.8 .3-2.8 .7-1.9 .8-2.4 1.3-10.4 7.6-1.7 1.5-.7 1.5 1.6 1.5 4.2 1 3.3 .4z" fill="rgb(255,60,0)" fill-rule="evenodd"/>
<path d="M433.9 362.4l2 .5 2.8 .3 4.2 .1 2.9-.2 2.8-.2 1.4-.3 4.2-1.5 2.7-1.6 1.7-1.5 1.1-1.5 .7-1.5 .3-1.5-.2-1.4-.8-1.5-1.3-1.2-1.4-.7-1.4-.4-4.2-.1-2.8 .4-1.4 .4-2.9 1.3-2.8 1.8-7.8 5.9-1.5 1.5-.4 1.5 2.1 1.4z" fill="rgb(255,20,0)" fill-rule="evenodd"/>
</g></g>
<rect x="379" y="326.3" width="102.5" height="107.9" fill="none" stroke="#111" stroke-width="0.9" />
<path d="M379 434.2L379 436.8M387.54 434.2L387.54 435.7M396.08 434.2L396.08 436.8M404.62 434.2L404.62 435.7M413.17 434.2L413.17 436.8M421.71 434.2L421.71 435.7M430.25 434.2L430.25 436.8M438.79 434.2L438.79 435.7M447.33 434.2L447.33 436.8M455.88 434.2L455.88 435.7M464.42 434.2L464.42 436.8M472.96 434.2L472.96 435.7M481.5 434.2L481.5 436.8M376.4 434.2L379 434.2M377.5 420.71L379 420.71M376.4 407.23L379 407.23M377.5 393.74L379 393.74M376.4 380.25L379 380.25M377.5 366.76L379 366.76M376.4 353.27L379 353.27M377.5 339.79L379 339.79M376.4 326.3L379 326.3" stroke="#111" stroke-width="0.8" fill="none"/>
<text transform="translate(379 445.5) scale(0.86 1)" font-size="9.4" font-weight="bold" text-anchor="middle" fill="#111" stroke="#111" stroke-width="0.3">0</text>
<text transform="translate(396.08 445.5) scale(0.86 1)" font-size="9.4" font-weight="bold" text-anchor="middle" fill="#111" stroke="#111" stroke-width="0.3">2</text>
<text transform="translate(413.17 445.5) scale(0.86 1)" font-size="9.4" font-weight="bold" text-anchor="middle" fill="#111" stroke="#111" stroke-width="0.3">4</text>
<text transform="translate(430.25 445.5) scale(0.86 1)" font-size="9.4" font-weight="bold" text-anchor="middle" fill="#111" stroke="#111" stroke-width="0.3">6</text>
<text transform="translate(447.33 445.5) scale(0.86 1)" font-size="9.4" font-weight="bold" text-anchor="middle" fill="#111" stroke="#111" stroke-width="0.3">8</text>
<text transform="translate(464.42 445.5) scale(0.86 1)" font-size="9.4" font-weight="bold" text-anchor="middle" fill="#111" stroke="#111" stroke-width="0.3">10</text>
<text transform="translate(481.5 445.5) scale(0.86 1)" font-size="9.4" font-weight="bold" text-anchor="middle" fill="#111" stroke="#111" stroke-width="0.3">12</text>
<text transform="translate(375.4 437.5) scale(0.86 1)" font-size="9.4" font-weight="bold" text-anchor="end" fill="#111" stroke="#111" stroke-width="0.3">0</text>
<text transform="translate(375.4 410.53) scale(0.86 1)" font-size="9.4" font-weight="bold" text-anchor="end" fill="#111" stroke="#111" stroke-width="0.3">1</text>
<text transform="translate(375.4 383.55) scale(0.86 1)" font-size="9.4" font-weight="bold" text-anchor="end" fill="#111" stroke="#111" stroke-width="0.3">2</text>
<text transform="translate(375.4 356.57) scale(0.86 1)" font-size="9.4" font-weight="bold" text-anchor="end" fill="#111" stroke="#111" stroke-width="0.3">3</text>
<text transform="translate(375.4 329.6) scale(0.86 1)" font-size="9.4" font-weight="bold" text-anchor="end" fill="#111" stroke="#111" stroke-width="0.3">4</text>
<text transform="translate(367.4 380) rotate(-90) scale(0.9 1)" font-size="9.4" text-anchor="middle" fill="#111" stroke="#111" stroke-width="0.3">R(Å)</text>
<text transform="translate(430.1 457.6) scale(0.9 1)" font-size="9.4" text-anchor="middle" fill="#111" stroke="#111" stroke-width="0.3">k(Å<tspan font-size="6" dy="-3.4">-1</tspan><tspan dy="3.4">)</tspan></text>
<rect x="486.2" y="325.9" width="8.3" height="2" fill="#8c8c8c" stroke="none" stroke-width="1" />
<rect x="486.2" y="327.9" width="8.3" height="105.3" fill="url(#cb)" stroke="none" stroke-width="1" />
<rect x="486.2" y="433.2" width="8.3" height="2" fill="#000" stroke="none" stroke-width="1" />
<rect x="486.2" y="325.9" width="8.3" height="109.3" fill="none" stroke="#222" stroke-width="0.6" />
<text transform="translate(499 331.2) scale(0.87 1)" font-size="9.4" font-weight="bold" text-anchor="start" fill="#111" stroke="#111" stroke-width="0.3">4.20</text>
<text transform="translate(499 344.36) scale(0.87 1)" font-size="9.4" font-weight="bold" text-anchor="start" fill="#111" stroke="#111" stroke-width="0.3">3.68</text>
<text transform="translate(499 357.52) scale(0.87 1)" font-size="9.4" font-weight="bold" text-anchor="start" fill="#111" stroke="#111" stroke-width="0.3">3.15</text>
<text transform="translate(499 370.69) scale(0.87 1)" font-size="9.4" font-weight="bold" text-anchor="start" fill="#111" stroke="#111" stroke-width="0.3">2.62</text>
<text transform="translate(499 383.85) scale(0.87 1)" font-size="9.4" font-weight="bold" text-anchor="start" fill="#111" stroke="#111" stroke-width="0.3">2.10</text>
<text transform="translate(499 397.01) scale(0.87 1)" font-size="9.4" font-weight="bold" text-anchor="start" fill="#111" stroke="#111" stroke-width="0.3">1.58</text>
<text transform="translate(499 410.18) scale(0.87 1)" font-size="9.4" font-weight="bold" text-anchor="start" fill="#111" stroke="#111" stroke-width="0.3">1.05</text>
<text transform="translate(499 423.34) scale(0.87 1)" font-size="9.4" font-weight="bold" text-anchor="start" fill="#111" stroke="#111" stroke-width="0.3">0.53</text>
<text transform="translate(499 436.5) scale(0.87 1)" font-size="9.4" font-weight="bold" text-anchor="start" fill="#111" stroke="#111" stroke-width="0.3">0.00</text>
<path d="M494.5 327.9L496.1 327.9M494.5 341.06L496.1 341.06M494.5 354.22L496.1 354.22M494.5 367.39L496.1 367.39M494.5 380.55L496.1 380.55M494.5 393.71L496.1 393.71M494.5 406.88L496.1 406.88M494.5 420.04L496.1 420.04M494.5 433.2L496.1 433.2" stroke="#222" stroke-width="0.7" fill="none"/>
<text x="429.6" y="362.1" font-size="12.4" font-weight="bold" text-anchor="start" fill="#000" stroke="#000" stroke-width="0.3" >Fe-Fe</text>
<text x="397.2" y="397.1" font-size="12.4" font-weight="bold" text-anchor="start" fill="#000" stroke="#000" stroke-width="0.3" >Fe-O</text>
<text x="388.6" y="424.9" font-size="12" font-weight="bold" text-anchor="start" fill="#fff" stroke="#fff" stroke-width="0.3" >α-Fe<tspan font-size="8" dy="2.6">2</tspan><tspan dy="-2.6">O</tspan><tspan font-size="8" dy="2.6">3</tspan></text>
<clipPath id="hc3"><rect x="545.4" y="326.8" width="99.4" height="104.1"/></clipPath>
<g clip-path="url(#hc3)"><g filter="url(#hbl)">
<rect x="539.4" y="320.8" width="111.4" height="116.1" fill="rgb(0,0,255)" stroke="none" stroke-width="1" />
<path d="M566.3 416.1l9.7 .6 9.5 .4 11 .1 9.5-.1 9.6-.4 12.3-.9 16.4-1.7 5.5-.1 0-17.6-8.2 .1-4.1-.3-.5-.2 .5-.3 1.3-.5 .7-.6 10.3 0 0-73-109.4 0 0 92.7 5.5 0 10.9 1.1 9.5 .7zM586.9 344.8l-1.1-.3 1.1-.7 1.2 .7-1.2 .3zM607.4 334.6l-1.2-.1-1.5-1-.5-.5 .2-1.4 1.6-.8 1.4-.2 2.7 .7 .3 .3 .2 1.4-.5 .6-1.5 .9-1.2 .1zM636.1 360.5l-.6-.3 .4-1.4 1.6-.4 2.7 .1 1.4 .3 .3 1.4-1.7 .6-2.7 0-1.4-.3z" fill="rgb(0,13,255)" fill-rule="evenodd"/>
<path d="M574.6 413.2l15 .5 16.4-.2 19.2-1 19.1-2 5.5 0 0-13.5-8.2 .2-4.1-.6-1.3-.6 2.1-1.4 .5-.1 2.8-.2 8.2 .1 0-72.8-109.4 0 0 89.3 5.5 .1 16.4 1.5 12.3 .7zM585.5 345.2l-.9-.7 .7-1.4 .2-.2 1.4-.2 1.4 .2 .3 .2 .7 1.4-1 .8-1.4 .3-1.4-.4zM604.7 334.5l-1.4-1.5 0-1.4 1.7-1.4 1-.4 1.4-.1 1.4 .2 1.3 .6 1.1 1.1 .1 1.4-1.4 1.5-1.1 .4-1.4 .2-1.4-.1-1.3-.5zM638.8 361.7l-2.7-.4-1.4-.7-.5-.4 .3-1.4 1.6-.6 2.7-.5 2.8 .2 2.3 .9 .2 1.4-1.2 .7-1.3 .5-2.8 .3z" fill="rgb(0,26,255)" fill-rule="evenodd"/>
<path d="M562.3 410.3l9.6 .7 9.5 .4 11 .2 10.9-.2 15-.6 13.7-1.1 12.3-1.4 5.5 0 0-10.7-9.6 0-2.7-.6-2.1-1 1.7-1.4 1.7-.3 2.8-.2 8.2 .1 0-32.3-4.1 0-4.1 .5-2.8 0-2.7-.4-1.1-.3-2.1-1.5 .5-1.5 1.3-.7 2.8-.8 4.1-.3 4.1 .5 4.1 0 0-28-4.1 0-1.4-.8-.8-1.3-.4-1.4 0-4.3-77.6 0 0 4.3-.8 1.4-3.7 2.9-2.8 2.9-3 4.2-2.2 4.3-1 2.9-1.1 4.3-.6 4.3-.5 5.7-.7 2.9-.5 1-1.5 1.8-1.2 .8-1.4 .3-4.1 0 0 43.1 5.5 .1 16.4 1.5zM585.5 346.1l-1.3-.9-.7-.7 .4-1.4 .3-.3 1.3-.7 1.4-.2 1.4 .2 1.8 1 .3 1.4-1.6 1.4-1.9 .4-1.4-.2zM603.3 334.6l-1.4-1.6-.1-1.4 .8-1.4 .7-.6 1.4-.6 1.3-.2 2.8 .2 1.3 .5 .9 .7 1.1 1.4 0 1.4-.6 .9-.5 .6-.9 .5-1.3 .5-2.8 .1-1.3-.3-1.4-.7z" fill="rgb(0,41,255)" fill-rule="evenodd"/>
<path d="M564.3 408.9l8.9 .6 9.6 .4 9.6 .1 10.9-.2 15-.7 12.3-1 13.7-1.5 5.5-.1 0-8.5-6.9 .1-4.1-.3-2.7-.8-1.6-1 1.6-1.4 2.7-.5 4.1-.2 6.9 .1 0-29.8-5.5-.1-8.2-1.3-2.7-1-1.7-1.6 .3-1.4 2.3-1.4 1.8-.6 9.6-1.8 4.1 0 0-11.9-4.1 0-1.4-1.6-1.6-4.2-2-4.3-1.7-2.8-2-2.9-.4-1.4 0-4.3-27.6 0 0 4.3 .3 1.4 .8 .4 1.4 1.3 1 1.2 .7 1.4-.2 1.4-.9 1.5-2 1.2-1.3 .5-2.8 .3-2.7-.6-1.4-.6-1.3-.8-2.8-2.5-1.3-.4-13.7-1-4.1 0-2.7 .3-2.8 .7-4.1 1.7-3.7 2.6-2.7 2.9-1.1 1.4-1.6 2.9-1.3 2.8-.9 2.9-.7 4.3-.6 8.6-.3 1.4-.7 1.7-.9 1.2-1.9 1.4-3.1 1.4-3.7 1.2-5.5 .1 0 37 5.5 0 9.6 1.1 8.8 .7zM584.2 346.2l-.6-.3-1.2-1.4 .1-1.4 1.7-1.5 1.3-.6 1.4-.1 1.4 .1 1.7 .6 1 .8 .5 .7 .1 1.4-1.2 1.4-.8 .4-1.3 .4-1.4 .1-1.4-.1-1.3-.5zM612.9 366.2l-1-.2-.6-1.5 1.6-.6 1.3-.1 1.4 0 2.3 .7-.4 1.5-1.9 .4-2.7-.2z" fill="rgb(0,58,255)" fill-rule="evenodd"/>
<path d="M562.9 407.5l9 .6 10.9 .5 10.9 .1 11-.2 15-.8 12.3-1.1 12.3-1.6 5.5-.1 0-6.4-6.9 0-4.1-.3-2.9-.7-1.2-.6-1-.9 1.5-1.4 3.6-.7 4.1-.2 6.9 0 0-25.3-4.1 0-1.4-.2-1.6-.8-2-1.4-2.7-1.5-3.3-1-2.7-1.4-.6-.4-1-1.5 .4-1.4 1.8-1.4 2.1-1 5.4-1.9 1.3-1.4 .3-1.4-.2-2.9-.3-2.9-1.5-5.7-1.8-4.3-1.5-2.9-2-2.8-2.7-2.9-.7-1.4 0-4.3-15.8 0 0 4.3-1.1 2.9 .4 2.8-.3 1.4-.9 1.5-1.8 1.4-1.4 .8-1.3 .4-2.8 .5-5.4 .3-8.9 .9 .4 1.4 1 1.4 .4 1.5-.2 1.4-1.2 1.4-2.5 1.2-2.7 .4-2.7-.5-2.1-1.1-1.1-1.4-.1-1.4 .7-1.5 2.6-2.2 2.2-.6-1.7-1.5-3.3-.4-4.1 .1-2.7 .6-2.9 1.2-2.6 1.6-2.6 2.7-1.5 2.1-1.3 2.6-.9 2.4-1 4.3-.4 7.2-.4 2.8-.6 1.5-1.1 1.4-2 1.4-1.8 .9-1.4 .6-4.8 1.4-3.4 .8-5.5 .1 0 33 5.5 .1 9.6 1.1 7.4 .7zM610.1 366.3l-.5-.3-.4-1.5 .9-.7 1.8-.7 2.3-.2 2.6 .2 1.5 .5 1.7 .9-.2 1.5-1.5 .7-1.3 .3-1.4 .2-2.7-.1-2.8-.8z" fill="rgb(0,75,255)" fill-rule="evenodd"/>
<path d="M584.7 407.5l15.9-.1 13.6-.5 16.4-1.5 13.7-2 5.5-.1 0-4.3-5.5 0-6.8-.6-3-.9-1.7-1.5 1.5-1.4 3.2-.8 4.1-.4 8.2 0 0-22.8-5.5-.1-5.3-1.7-2.3-1.4-3.2-2.9-1.5-.8-2.5-2-.6-1.5 .4-1.4 1.6-1.4 1.1-.7 4.4-2.2 1.3-1.4 .4-1.4 0-2.9-.3-2.9-.6-2.8-.9-2.9-1.6-3.6-1.2-2.1-1.5-2-1.4-1.4-2.7-1.9-1.4-.6-2.7-.6-2.7 .2-1.6 .6-1.2 .6-1.3 1.3-1.2 2.3-.9 1.5-2 1.9-2.8 1.7-1.4 .7-2.1 1.4-3.3 2.6-1.4 .7-5.4 1.7-2.8 1.4-2.7 1.2-2.7 .5-2.8-.1-1.3-.3-2.8-1-1.4-1-2.7-2.2-1.3-.2-1.4 .2-1.4 .7-1.3 .8-2.3 2.2-1 1.4-1.6 2.9-1.2 4.2-.3 2.9-.2 5.7-.3 1.5-.7 1.4-1.3 1.4-2.4 1.5-1 .4-2.8 1-5.3 1.4-5.6 1.3-5.5 .1 0 29.7 5.5 .1 9.6 1.3 12.3 1.1 16.9 .8zM610.1 367.4l-1.3-.6-1.3-.8-.3-1.5 1.5-1.4 1.4-.6 2.8-.4 4.1 .2 3 .8 2.2 1.4-.1 1.5-2.4 1.3-1.4 .4-4.1 .3-2.7-.2-1.4-.4zM576 373.3l-.7-.2 .7-.2 1.3-.2 1.9 .4-1.9 .4-1.3-.2z" fill="rgb(0,94,255)" fill-rule="evenodd"/>
<path d="M573.5 406l9.3 .5 10.9 .1 11-.3 10.9-.6 8.2-.7 9.6-1.1 8.2-1.6 2.3-.5 .4-.4 1.4-.5 4.1 0 0-.7-5.5 0-4.1-.7-4.1-.9-2.9-1.1-1.3-1.5 1.4-1.4 4.2-1 4.1-.4 8.2-.1 0-21.1-5.5-.1-7.7-1.6-3.9-1.5-2.1-1.4-1.8-1.4-.9-1.1-1.4 .3-.1 .8-2.8 1.4-1.2 .4-2.7 .7-4.1 .4-4.1-.2-2.7-.5-2-.8-1.6-1.4-.3-1.5 1.1-1.7 1.4-.8 1.4-.6 2.7-.4 4.1 .2 4.1 .7 4.1 1.2 2.7 1.2 .7-1.2-.2-2.9 .6-1.4 1.7-1.6 4.1-2.7 1.1-1.4 .4-1.4 .1-1.5-.1-2.8-.4-2.9-.8-2.9-1.3-2.8-.8-1.5-2.3-2.8-1.4-1.1-1.4-.8-1.3-.4-1.4-.3-1.4 .1-1.3 .2-1.4 .6-1.4 1-5.3 5-1.3 1.4-4.3 6.3-1.4 1.6-1.3 1-1.4 .6-2.7 .2-6.9-.8-6.8 .2-2.7-.3-5.5-1-1.4 .1-1.3 .4-1.4 .7-1.4 1.1-1.3 1.4-1.7 2.8-.6 1.4-.6 2.9 0 5.7-.4 2.9-.8 1.8-1 1.1-3.4 1.4-5.1 1.4-12.3 2.9-5.6 .1 0 26.9 5.5 0 6.8 1.1 6.9 .8 13.9 1.1zM576 374.6l-1.4-.3-2.7-1.2 .7-1.4 .6-.2 2.8-.2 2.7 .2 1.4 .4 1.6 1.2-1.6 1.2-.8 .3-3.3 0z" fill="rgb(0,116,255)" fill-rule="evenodd"/>
<path d="M566.7 404.6l7.9 .6 9.6 .4 9.5 0 11-.2 9.5-.6 9.6-.8 8.2-1.2 5.2-1 1.6-1.5-2.7-.8-1.1-.6-1.6-.6-1.5-.8-.9-1.5 1.4-1.4 2.3-.7 2.8-.6 4.1-.4 8.2 0 0-19.8-5.5 0-8.6-1.4-10.5-2.1-12.3 .5-4.1-.4-2.8-.7-1.3-.5-1.4-.9-1.2-1.6-.1-1.5 .3-1.4 1.1-2.9 0-1.4-.9-1.4-1.5-1.5-2.2-1.4-2.8-1.4-2.3-.9-4.1-.9-6.8-.5-2.7 .3-1.4 .5-2.7 1.5-1.4 1.4-1 1.4-.7 1.5-.4 1.4-.3 2.9 .4 5.7 .5 1.4 1.5 .7 5.5 1.3 2.3 .9 1.1 1.4-1.6 1.5-3.2 .5-2.7 .1-4.1-.6-2.8-1-1.3-.3-2.8 0-4.1 .7-15 3.4-5.5 .2 0 24.1 5.5 .1 10.9 1.8 9.9 1zM618.5 360.2l3.9 .3 1.4-.4 2.8-2.7 3.7-2.9 1-1.4 .4-1.4 .2-1.5-.1-2.8-.5-2.9-.7-2.1-1.3-2.6-1.4-1.6-1.4-1.1-1.3-.7-1.4-.3-1.4 0-1.3 .4-1.8 .8-2.3 2-1.9 2.3-1.6 2.9-1.2 2.9-.9 2.8-.7 4.3 0 1.4 .5 1.5 1.8 1.4 5.5 1.4z" fill="rgb(0,144,255)" fill-rule="evenodd"/>
<path d="M581.9 404.6l14.6 .1 16.4-.7 13.6-1.5 4.5-.7 2.4-1 .9-.5-.9-.6-.7-.8-.7-.3-1.4-1.1-.6-1.5 1.5-1.4 3.2-1 4.1-.7 4.1-.3 6.9 0 0-18.5-5.5-.1-12.3-1.5-6.8-.7-16.4-.3-4.1-.5-2.8-.7-2.8-1.5-.9-1.4-.2-1.4 .2-4.3-.3-1.5-.7-1.4-1.2-1.4-.9-.7-2.7-1.6-1.5-.6-2.6-.6-4.1-.2-2.8 .5-1.3 .5-1.4 .8-1.4 1.3-1.2 2-.3 1.4-.2 1.5 .1 1.4 .5 2.9 .6 1.4 1.6 1.4 3 1.1 2.8 1.2 .8 .6 .4 1.4-1.7 1.5-3.6 .9-4.1 .2-8.2-1-2.8 0-4.1 .6-15 3.5-5.5 .1 0 21.6 5.5 .2 9.6 1.7 10.9 1.3 6.8 .5 8.7 .4zM619.2 355.9l.5 .4 1.4 .2 1.3-.1 1.4-.5 2.1-1.4 .6-.7 .6-.7 .6-1.4 .4-2.9-.4-2.9-.5-1.4-.9-1.4-1.1-1.1-1.4-.6-1.4 0-.7 .2-.6 .3-1.4 1-1.4 1.7-1.2 2.8-.4 2.8 .3 2.5 .8 1.8 1.4 1.4z" fill="rgb(0,173,255)" fill-rule="evenodd"/>
<path d="M570.8 403.2l7.9 .5 8.2 .2 16.4-.2 9.6-.6 6.8-.7 5.5-.7 4.1-1 .9-.4 .2-1.4-1.1-1.4-.3-1.5 1.5-1.4 4.2-1.4 2.8-.4 5.4-.5 6.9 0 0-17.3-5.5-.1-6.8-.9-9.6-.6-20.5-.3-5.5-.6-4.7-.8-4.3-1.4-1-1.5 1.6-5.7-.1-1.4-.5-1.5-1.3-1.4-2-1.2-1.3-.4-2.8-.3-2.4 .5-1.7 .9-.5 .5-.8 1.2-.5 1.7 .1 1.4 .4 1.4 .8 1.5 1.2 1.4 2.1 1.2 3.6 1.7 .5 .6 .3 .8-.3 .3-.5 1.1-2.2 1.5-4.2 1.2-2.7 .3-4.1 .1-6.8-.5-2.8 .1-6.8 1.3-12.3 2.9-5.5 .2 0 19.2 5.5 .1 5.5 1.2 5.4 .9 6.9 .9 7.1 .7z" fill="rgb(0,203,255)" fill-rule="evenodd"/>
<path d="M564.4 401.8l7.5 .7 8.2 .5 8.2 .1 9.5 0 8.2-.4 8.2-.6 6.9-.8 4.8-1 .6-.3 1.5-1.1-.2-1.4 .2-1.5 1.5-1.4 2.5-.9 2.7-.8 4.1-.5 5.5-.4 5.5 0 0-16.2-5.5-.1-5.5-.7-5.4-.3-23.3-.2-15-1.1-2.7 0-2.8 .5-1.6 .7-3.8 1.1-2.8 .6-4.1 .3-8.2-.1-4.1 .3-8.2 1.6-5.4 1.3-5.5 1.5-1.4 .2-4.1 0 0 16.9 5.5 .1 4.1 1 5.5 1.1 8.9 1.3z" fill="rgb(0,234,255)" fill-rule="evenodd"/>
<path d="M572.6 401.8l11.6 .6 10.9 0 10.9-.5 11-1 5.4-.9 2.8-1 1-1.5 .6-1.5 1.7-1.4 3.9-1.4 3.7-.8 4.1-.4 4.1-.3 5.5-.1 0-15-5.5-.1-5.5-.7-5.4-.3-20.5 0-16.4-.8-4.1 0-2.8 .4-3.8 .9-5.7 .9-11 .4-4.1 .4-9.5 2-5.5 1.4-4.1 1.3-1.4 .2-4.1 0 0 14.6 4.1 0 1.4 .1 4.1 1.2 6.8 1.4 8.2 1.2 7.6 .7z" fill="rgb(0,255,246)" fill-rule="evenodd"/>
<path d="M565.4 400.3l6.5 .7 6.8 .4 8.2 .3 8.2-.1 8.2-.3 6.8-.5 6.9-.8 4.1-.8 1.3-.4 1.4-.8 1.8-2 1.8-1.4 3.7-1.4 3.6-.9 6.9-.8 2.7-.3 5.5 0 0-13.8-4.1 0-5.5-.7-5.5-.3-20.5 0-17.7-.7-4.1 0-12.3 1.6-9.6 .5-4.1 .5-6.8 1.3-5.5 1.3-4.1 1.3-4.1 1.5-1.4 .2-4.1 0 0 12.1 4.1 0 1.4 .2 3.9 1.3 4.3 1 5.5 1 5.8 .8z" fill="rgb(0,255,217)" fill-rule="evenodd"/>
<path d="M572.3 400.3l9.1 .6 11 .1 10.9-.4 9.6-.9 5.3-.8 2.9-.8 1.3-.7 3.8-2.8 3.6-1.4 2.2-.7 6.8-1.1 5.5-.6 5.5-.1 0-12.5-4.1 0-5.5-.7-5.5-.4-17.7 .2-20.5-.8-5.5 .1-10.9 1.2-9.6 .7-5.5 .8-6.8 1.5-5.5 1.5-4.1 1.4-2.7 1.3-1.4 .2-4.1 0 0 9.6 4.1 0 1.4 .2 4.1 1.6 6.8 1.7 8.2 1.3 7.3 .7z" fill="rgb(0,255,187)" fill-rule="evenodd"/>
<path d="M585.8 400.3l14.8-.3 6.8-.5 6.8-.8 2.8-.5 2.7-.7 1.4-.6 3.9-2.3 3.4-1.4 2.2-.7 6.9-1.3 6.8-.9 5.5 0 0-11.3-4.1 0-5.5-.8-5.5-.3-16.4 .2-21.8-.8-8.2 .2-16.4 1.5-6.9 1-5.4 1.2-5.5 1.5-4.9 1.9-3.3 1.8-1.4 .4-4.1 0 0 6.5 4.1 0 1.4 .3 2.7 1.4 4.1 1.5 5.5 1.3 4.1 .7 10.9 1.3 12.6 .5z" fill="rgb(0,255,157)" fill-rule="evenodd"/>
<path d="M570.6 398.9l12.2 .8 12.3-.1 6.8-.3 6.9-.6 4.1-.6 4.1-.8 2.7-.8 3.8-1.9 3.4-1.4 3.7-1.1 5.5-1.1 5.1-.7 3.1-.7 5.5-.1 0-9.5-4.1 0-5.5-1-4.1-.3-17.8 .1-17.7-.8-8.2-.1-5.5 .3-13.7 1.2-4.1 .6-6.8 1.3-6.8 1.9-5.5 2.2-1.2 .6-2 1.4-.9 1.2-.5 .3-.8 1.4 2.9 2.9 2.7 1.4 2.5 1 4.1 1.1 4.1 .9 9.7 1.3z" fill="rgb(0,255,126)" fill-rule="evenodd"/>
<path d="M578.4 398.9l7.1 .2 8.2-.1 9.6-.5 6.8-.7 6.9-1.3 2.7-.9 6.8-2.8 5.5-1.5 5.8-1 7.9-1.8 4.1 0 0-7.5-4.1 0-5.5-1.1-4.1-.4-16.4 0-19.1-.9-8.2-.1-8.2 .4-9.6 .9-6.8 1-6.9 1.6-6.9 2.2-3 1.4-2.1 1.4-1.1 1.5-.3 1.4 .6 1.4 1.7 1.5 2.8 1.4 5.6 1.7 4.1 .9 5.5 .8 10.6 .9z" fill="rgb(0,255,94)" fill-rule="evenodd"/>
<path d="M568.3 397.5l10.4 .9 12.3 .2 10.9-.6 6.9-.7 4.1-.7 5.4-1.4 6.9-2.6 4.1-1.2 11.6-2.5 4.8-1.9 4.1 0 0-4.5-4.1 0-1.4-.3-.8-.5-1.9-.6-2.8-.5-2.7-.3-15 0-16.4-1-8.2-.3-6.9 .1-5.4 .3-8.2 .8-6.9 1-8.5 1.9-3.8 1.3-2.7 1.1-3.1 1.9-1.2 1.5-.3 1.4 .7 1.4 1.2 1 .6 .5 3.1 1.4 5.8 1.6 7.4 1.3z" fill="rgb(0,255,62)" fill-rule="evenodd"/>
<path d="M573.5 397.5l9.3 .5 9.6 0 10.9-.7 8.2-1.2 5.5-1.2 10.9-3.7 9.5-2.3 1.4-.6 2.4-.9 1.7-1.2 .3-.2 .6-1.4-.9-1.5-2.7-1.1-2.7-.5-4.1-.3-12.3-.2-20.5-1.4-8.2-.1-6.9 .3-8.2 .7-6.8 1-8.2 1.9-3.9 1.2-2.9 1.2-2.6 1.6-1.2 1.5-.3 1.4 .8 1.4 1.9 1.5 3.4 1.4 3.4 1 4.1 .8 8.5 1.1z" fill="rgb(0,255,28)" fill-rule="evenodd"/>
<path d="M582.5 397.5l7.1 0 9.6-.4 6.8-.8 6.9-1.1 4.1-1.1 9.5-3.3 7-1.9 4.1-1.5 2.3-1.4 .5-1.4-1.7-1.5-4-.7-12.3-.6-15-1.3-9.6-.5-8.2 .1-8.2 .5-6.8 .8-6.8 1.2-7.2 2-3.5 1.4-2.3 1.4-1.3 1.5-.2 1.4 .8 1.4 2.1 1.5 2 .8 5.5 1.5 8.2 1.3 10.6 .7z" fill="rgb(6,255,0)" fill-rule="evenodd"/>
<path d="M570.1 396l8.6 .8 10.9 .2 9.6-.5 9.6-1.2 4.1-.8 4.1-1.2 12.6-4.4 3.5-1.5 2.2-1.4-.1-1.4-3.2-.9-4.6-.6-18.6-1.9-9.6-.7-6.8 0-6.9 .2-6.8 .6-6.8 1-6.9 1.6-2.7 .8-3.3 1.3-2.4 1.4-1.3 1.5-.2 1.4 .9 1.4 2.3 1.5 1.3 .5 4.1 1.2 6.4 1.1z" fill="rgb(43,255,0)" fill-rule="evenodd"/>
<path d="M574.6 396l8.2 .5 8.2 0 9.6-.7 6.8-.9 7.7-1.7 7.9-2.9 3.1-1.4 2.3-1.5 .9-1.4-2.4-1.4-7.4-1.5-9.4-1.3-8.2-.7-8.2-.2-6.8 .2-6.8 .5-6.9 1-6.8 1.5-5.5 1.9-2.7 1.6-1.2 1.3-.1 1.4 1 1.4 2.5 1.5 1.9 .6 5.5 1.3 6.8 .9z" fill="rgb(82,255,0)" fill-rule="evenodd"/>
<path d="M582.4 396l7.2 0 8.2-.4 6.9-.8 5.4-1 5.5-1.6 4.9-1.9 2.6-1.4 1.5-1.5-.2-1.4-2.9-1.4-6.4-1.5-9.1-1.2-8.2-.5-8.2 0-6.8 .4-6.8 .8-6.9 1.4-5.4 1.6-3.6 1.8-1.4 1.5-.1 1.4 1.2 1.4 2.8 1.5 5.3 1.4 6.7 .9 7.8 .5z" fill="rgb(120,255,0)" fill-rule="evenodd"/>
<path d="M571.1 394.6l7.6 .8 8.2 .2 8.2-.3 8.2-.9 6.6-1.2 4.8-1.5 3.4-1.4 2.3-1.4 1.1-1.5-.7-1.4-3-1.4-6.3-1.5-6.8-.9-6.9-.4-6.8 0-6.8 .3-6.9 .8-6.8 1.3-5.5 1.6-3.2 1.6-1.4 1.5-.1 1.4 1.3 1.4 3.2 1.5 6.3 1.4z" fill="rgb(156,255,0)" fill-rule="evenodd"/>
<path d="M574.9 394.6l6.5 .5 8.2 .1 6.9-.5 6.8-.8 5.5-1.1 3.6-1.1 1.8-.7 1.6-.7 2.2-1.4 .8-1.5-.9-1.4-3.2-1.4-5.9-1.3-5.5-.7-6.8-.4-6.9 0-6.8 .4-6.8 1-5 1-4.6 1.4-2.8 1.4-1.5 1.5 0 1.4 1.6 1.5 4.1 1.5 7.1 1.3z" fill="rgb(189,255,0)" fill-rule="evenodd"/>
<path d="M580.5 394.6l6.4 .2 5.5-.2 6.8-.6 5.2-.8 5.7-1.5 3.6-1.4 2.1-1.4 .6-1.5-1.1-1.4-3.4-1.4-5.9-1.2-5.4-.6-6.9-.3-6.8 .2-6.8 .7-5.5 .9-6.3 1.7-3 1.4-1.5 1.5 0 1.4 1.7 1.4 4.1 1.5 5 .9 5.9 .5z" fill="rgb(222,255,0)" fill-rule="evenodd"/>
<path d="M572.3 393.2l6.4 .8 6.8 .3 6.9-.2 6.8-.6 6.8-1.3 4.1-1.3 1.5-.6 2.1-1.4 .5-1.5-1.2-1.4-2.9-1.1-2.7-.7-5.5-.8-5.4-.4-5.5 0-5.5 .3-5.4 .5-4.5 .8-5.4 1.4-3.2 1.4-1.5 1.5 .1 1.4 1.9 1.4 4.8 1.5z" fill="rgb(255,254,0)" fill-rule="evenodd"/>
<path d="M575.6 393.2l5.8 .5 5.5 .2 6.8-.3 5.5-.6 6.2-1.3 4.1-1.4 2.1-1.4 .5-1.5-1.4-1.4-3.3-1.1-4.1-.8-4.1-.5-4.1-.2-5.5 0-5.4 .4-5.5 .7-6.6 1.5-3.3 1.4-1.6 1.5 .2 1.4 2.3 1.4 5.9 1.5z" fill="rgb(255,216,0)" fill-rule="evenodd"/>
<path d="M580.1 393.2l5.4 .2 5.5-.1 5.5-.5 4.1-.6 2.7-.6 4.1-1.3 2.2-1.4 .4-1.5-1.6-1.4-2.4-.7-2.8-.7-5.4-.6-4.1-.2-5.4 .1-5.5 .5-4.1 .6-4.5 1-2.3 .9-1.3 .5-1.6 1.5 .3 1.4 2.7 1.4 4 .9 4.1 .6z" fill="rgb(255,178,0)" fill-rule="evenodd"/>
<path d="M574.6 391.7l4.1 .8 5.5 .4 6.8-.1 5.5-.5 4.1-.7 4.6-1.3 2.4-1.4 .4-1.5-2-1.4-2.7-.7-4.1-.7-8.2-.3-4.1 .1-4.1 .4-6.3 1.2-4 1.4-1.6 1.5 .4 1.4 3.3 1.4z" fill="rgb(255,140,0)" fill-rule="evenodd"/>
<path d="M577.7 391.7l3.7 .5 5.5 .2 5.5-.2 4.5-.5 6-1.4 2.6-1.4 .3-1.5-2.4-1.4-2.8-.6-4.1-.5-6.9-.2-8.2 .9-2.4 .4-4.5 1.4-1.7 1.5 .7 1.4 4.2 1.4z" fill="rgb(255,100,0)" fill-rule="evenodd"/>
<path d="M582.3 391.7l4.6 .2 4.1-.1 2.7-.2 4.1-.7 2.6-.6 2.9-1.4 .2-1.5-3.1-1.4-5.3-.7-6.8 0-6.3 .7-5.2 1.4-1.8 1.5 .9 1.4 2.8 .8 3.6 .6z" fill="rgb(255,60,0)" fill-rule="evenodd"/>
<path d="M578.8 390.3l2.6 .5 2.8 .3 4.1 .1 5.4-.3 3.7-.6 3.5-1.4 0-1.5-1.7-.6-3-.8-5.2-.2-4.8 .2-6.9 1.4-2 1.5 1.5 1.4z" fill="rgb(255,20,0)" fill-rule="evenodd"/>
</g></g>
<rect x="545.4" y="326.8" width="99.4" height="104.1" fill="none" stroke="#111" stroke-width="0.9" />
<path d="M545.4 430.9L545.4 433.5M553.68 430.9L553.68 432.4M561.97 430.9L561.97 433.5M570.25 430.9L570.25 432.4M578.53 430.9L578.53 433.5M586.82 430.9L586.82 432.4M595.1 430.9L595.1 433.5M603.38 430.9L603.38 432.4M611.67 430.9L611.67 433.5M619.95 430.9L619.95 432.4M628.23 430.9L628.23 433.5M636.52 430.9L636.52 432.4M644.8 430.9L644.8 433.5M542.8 430.9L545.4 430.9M543.9 417.89L545.4 417.89M542.8 404.88L545.4 404.88M543.9 391.86L545.4 391.86M542.8 378.85L545.4 378.85M543.9 365.84L545.4 365.84M542.8 352.82L545.4 352.82M543.9 339.81L545.4 339.81M542.8 326.8L545.4 326.8" stroke="#111" stroke-width="0.8" fill="none"/>
<text transform="translate(545.4 442.9) scale(0.86 1)" font-size="9.4" font-weight="bold" text-anchor="middle" fill="#111" stroke="#111" stroke-width="0.3">0</text>
<text transform="translate(561.97 442.9) scale(0.86 1)" font-size="9.4" font-weight="bold" text-anchor="middle" fill="#111" stroke="#111" stroke-width="0.3">2</text>
<text transform="translate(578.53 442.9) scale(0.86 1)" font-size="9.4" font-weight="bold" text-anchor="middle" fill="#111" stroke="#111" stroke-width="0.3">4</text>
<text transform="translate(595.1 442.9) scale(0.86 1)" font-size="9.4" font-weight="bold" text-anchor="middle" fill="#111" stroke="#111" stroke-width="0.3">6</text>
<text transform="translate(611.67 442.9) scale(0.86 1)" font-size="9.4" font-weight="bold" text-anchor="middle" fill="#111" stroke="#111" stroke-width="0.3">8</text>
<text transform="translate(628.23 442.9) scale(0.86 1)" font-size="9.4" font-weight="bold" text-anchor="middle" fill="#111" stroke="#111" stroke-width="0.3">10</text>
<text transform="translate(644.8 442.9) scale(0.86 1)" font-size="9.4" font-weight="bold" text-anchor="middle" fill="#111" stroke="#111" stroke-width="0.3">12</text>
<text transform="translate(541.8 434.2) scale(0.86 1)" font-size="9.4" font-weight="bold" text-anchor="end" fill="#111" stroke="#111" stroke-width="0.3">0</text>
<text transform="translate(541.8 408.18) scale(0.86 1)" font-size="9.4" font-weight="bold" text-anchor="end" fill="#111" stroke="#111" stroke-width="0.3">1</text>
<text transform="translate(541.8 382.15) scale(0.86 1)" font-size="9.4" font-weight="bold" text-anchor="end" fill="#111" stroke="#111" stroke-width="0.3">2</text>
<text transform="translate(541.8 356.12) scale(0.86 1)" font-size="9.4" font-weight="bold" text-anchor="end" fill="#111" stroke="#111" stroke-width="0.3">3</text>
<text transform="translate(541.8 330.1) scale(0.86 1)" font-size="9.4" font-weight="bold" text-anchor="end" fill="#111" stroke="#111" stroke-width="0.3">4</text>
<text transform="translate(534.4 379.5) rotate(-90) scale(0.9 1)" font-size="9.4" text-anchor="middle" fill="#111" stroke="#111" stroke-width="0.3">R(Å)</text>
<text transform="translate(596 452.9) scale(0.9 1)" font-size="9.4" text-anchor="middle" fill="#111" stroke="#111" stroke-width="0.3">k(Å<tspan font-size="6" dy="-3.4">-1</tspan><tspan dy="3.4">)</tspan></text>
<rect x="647.4" y="326.8" width="8.3" height="2" fill="#8c8c8c" stroke="none" stroke-width="1" />
<rect x="647.4" y="328.8" width="8.3" height="100.1" fill="url(#cb)" stroke="none" stroke-width="1" />
<rect x="647.4" y="428.9" width="8.3" height="2" fill="#000" stroke="none" stroke-width="1" />
<rect x="647.4" y="326.8" width="8.3" height="104.1" fill="none" stroke="#222" stroke-width="0.6" />
<text transform="translate(660.9 332.1) scale(0.87 1)" font-size="9.4" font-weight="bold" text-anchor="start" fill="#111" stroke="#111" stroke-width="0.3">1.75</text>
<text transform="translate(660.9 344.61) scale(0.87 1)" font-size="9.4" font-weight="bold" text-anchor="start" fill="#111" stroke="#111" stroke-width="0.3">1.53</text>
<text transform="translate(660.9 357.12) scale(0.87 1)" font-size="9.4" font-weight="bold" text-anchor="start" fill="#111" stroke="#111" stroke-width="0.3">1.31</text>
<text transform="translate(660.9 369.64) scale(0.87 1)" font-size="9.4" font-weight="bold" text-anchor="start" fill="#111" stroke="#111" stroke-width="0.3">1.09</text>
<text transform="translate(660.9 382.15) scale(0.87 1)" font-size="9.4" font-weight="bold" text-anchor="start" fill="#111" stroke="#111" stroke-width="0.3">0.88</text>
<text transform="translate(660.9 394.66) scale(0.87 1)" font-size="9.4" font-weight="bold" text-anchor="start" fill="#111" stroke="#111" stroke-width="0.3">0.66</text>
<text transform="translate(660.9 407.18) scale(0.87 1)" font-size="9.4" font-weight="bold" text-anchor="start" fill="#111" stroke="#111" stroke-width="0.3">0.44</text>
<text transform="translate(660.9 419.69) scale(0.87 1)" font-size="9.4" font-weight="bold" text-anchor="start" fill="#111" stroke="#111" stroke-width="0.3">0.22</text>
<text transform="translate(660.9 432.2) scale(0.87 1)" font-size="9.4" font-weight="bold" text-anchor="start" fill="#111" stroke="#111" stroke-width="0.3">0.00</text>
<path d="M655.7 328.8L657.3 328.8M655.7 341.31L657.3 341.31M655.7 353.82L657.3 353.82M655.7 366.34L657.3 366.34M655.7 378.85L657.3 378.85M655.7 391.36L657.3 391.36M655.7 403.88L657.3 403.88M655.7 416.39L657.3 416.39M655.7 428.9L657.3 428.9" stroke="#222" stroke-width="0.7" fill="none"/>
<text x="566.2" y="393.2" font-size="12.4" font-weight="bold" text-anchor="start" fill="#000" stroke="#000" stroke-width="0.3" >Fe-O</text>
<text x="552.4" y="423.6" font-size="12.4" font-weight="bold" text-anchor="start" fill="#fff" stroke="#fff" stroke-width="0.3" >0.6Fe</text>
<text x="0" y="312" font-size="22" font-weight="bold" text-anchor="start" fill="#000" stroke="#000" stroke-width="0.3" >e</text>
</g>
<g id="pf">
<defs><linearGradient id="f0r" gradientUnits="userSpaceOnUse" x1="0" y1="519.9" x2="0" y2="543.03"><stop offset="0" stop-color="#ef9a94" stop-opacity="0.05"/><stop offset="1" stop-color="#ef9a94" stop-opacity="0.95"/></linearGradient><linearGradient id="f0g" gradientUnits="userSpaceOnUse" x1="0" y1="519.9" x2="0" y2="524.95"><stop offset="0" stop-color="#a6d8a6" stop-opacity="0.05"/><stop offset="1" stop-color="#a6d8a6" stop-opacity="0.95"/></linearGradient><linearGradient id="f0b" gradientUnits="userSpaceOnUse" x1="0" y1="519.9" x2="0" y2="567.38"><stop offset="0" stop-color="#a8c6f7" stop-opacity="0.05"/><stop offset="1" stop-color="#a8c6f7" stop-opacity="0.95"/></linearGradient></defs>
<path d="M33.5 519.9l.4 .1 .4 .6 .5-1 .4 .7 .4-.7 .4 1.2 .5-.3 .4 .4 .4-.7 .4 .4 .9-.4 .4 .3 .5-.5 .8 .7 .9-.3 .4 .9 .4-.7 .4-.3 .5 .3 .4-.2 .8 .1 .5 .8 .4-.7 .4 .1 .5 .2 .4 .5 .4-.8 .4-.1 .5 1.1 .4-1.4 .8 .8 .5 .6 .4-1.1 .4-.5 .4 1.1 .5-.4 .4 .1 .4 .3 .9 0 .4-.2 .4 .6 .5 .1 .4-.5 .4-.1 .4 .5 .5-.1 .4-.5 .4 .2 .4 .6 .5-.3 1.7 .2 .4-.2 .4 .5 .9-.2 .4 .3 .9 .1 .8 .4 .4-.1 .9 .4 .4-.3 .9 .5 .4-.2 .8 .7 .9 .3 .4-.1 .5 .7 .4 .1 .8 .5 .5 .1 .4 .3 .4 .5 .4 .8 .5 .1 .8 1.2 2.1 3.9 1.3 3.8 1.3 3 1.3 2.4 .8 2.1 .9 1.5 .8 1 .9 .1 .8-.9 .9-1.4 1.7-4 1.3-2 1.3-.8 .8 .6 .9 1.9 .4 1.7 .4 1.9 .5 3.7 .8 10.1 1.3 21.8 .4 .3 1.3-16.1 .4-2.6 .4-1.1 .5 .7 .4 3 .4 4.9 1.3 21.1 .4 .9 .5-5 .8-14.8 .9-10.7 .4-3.8 .8-5.8 1.3-6.8 1.3-4.8 1.7-4 .4-.6 .5-.2 .8-1 .4 .3 .5-.5 .4-.3 .8-.2 .5-.3 1.7-2.9 1.7-2.3 1.3-1.2 1.2-.8 .5 0 .8-.7 .4 .2 .5-.2 .4 .2 .4-.7 .9-.4 .8 .2 .9-.4 .4 .2 .4-.3 .5 0 .4-.5 .4 .4 .4-.5 .5 0 .4 .3 .4 .6 .9-.8 .4-.1 .4 .3 .4 .2 .5-.1 .4-.6 .4 .1 1.3-.5 .4 .2 .5-.7 .4 .3 .4 .6 .4-.5 .5 .5 .4-.7 .8 .6 .5-.6 .4 .1 .4 1.1 .5-1.1 1.7 .2 .4 .3 .4-.1 .4-.4 .5 0 .4-.4 .4-.1 .4 .3 .5 .5 .4-.2 .4 .2 .4 .1 .5-.4 .4 .8 .4-1" fill="none" stroke="#858585" stroke-width="1.25" stroke-linejoin="round"/>
<path d="M33.5 519.9l0 .4 15.8 .3 5.5 .3 4.7 .4 3.4 .4 2.6 .5 2.1 .6 2.1 .9 1.7 1 1.3 1 1.3 1.3 1.3 1.8 1.3 2.3 .8 1.9 3 8.1 .8 1.5 .5 .4 .4 0 .4-.2 .9-1.2 2.5-6.1 1.3-2.5 1.3-1.7 .8-.7 .9-.5 1.3-.1 .8 .3 .9 .6 .8 .9 .9 1.2 .8 1.6 3 6.9 .9 1.3 .4 .2 .4 0 .5-.4 .8-1.5 3-8 .8-2 1.3-2.3 .9-1.3 1.3-1.4 1.2-1.1 1.7-1.1 1.8-.8 2.1-.7 2.5-.5 3-.5 3.9-.4 5.1-.3 13.6-.4 0-.4z" fill="url(#f0r)" />
<path d="M33.5 520.3l15.3 .3 9.8 .6 3.5 .4 2.9 .5 2.6 .7 2.1 .9 1.7 1 1.3 1 1.3 1.3 1.3 1.8 1.3 2.3 .8 1.9 3 8.1 .8 1.5 .5 .4 .4 0 .4-.2 .9-1.2 2.5-6.1 1.3-2.5 1.3-1.7 .8-.7 .9-.5 1.3-.1 .8 .3 .9 .6 .8 .9 .9 1.2 .8 1.6 3 6.9 .9 1.3 .4 .2 .4 0 .5-.4 .8-1.5 3-8 .8-2 1.3-2.3 .9-1.3 1.3-1.4 1.2-1.1 1.7-1.1 2.2-.9 2.1-.7 2.6-.5 3.4-.5 8.5-.6 13.2-.4" fill="none" stroke="#e58f8a" stroke-width="0.9" />
<path d="M33.5 519.9l25.1 .2 5.6 .2 3.4 .2 2.6 .4 2.1 .8 1.3 .7 2.5 2.3 .9 .2 .8-.3 2.2-1.9 1.7-1 2.1-.7 3.4-.5 4.3-.2 5.1 0 3.8 .2 2.6 .3 1.7 .5 1.3 .5 1.3 .9 2.1 1.9 .8 .3 .9-.2 2.6-2.2 1.2-.8 1.7-.6 2.2-.5 3-.3 4.2-.2 17.9-.2z" fill="url(#f0g)" />
<path d="M33.5 519.9l24.7 .2 5.6 .1 3.8 .3 2.6 .4 2.1 .8 1.3 .7 2.5 2.3 .9 .2 .8-.3 2.2-1.9 1.7-1 2.1-.7 3.4-.5 4.3-.2 5.1 0 3.8 .2 2.6 .3 1.7 .5 1.3 .5 1.3 .9 2.1 1.9 .8 .3 .9-.2 2.6-2.2 1.2-.8 1.7-.6 2.2-.5 3-.3 4.6-.2 17.5-.1" fill="none" stroke="#9bd09b" stroke-width="0.9" />
<path d="M33.5 519.9l29.4 .2 12.4 .3 4.2 .4 3 .4 2.2 .6 1.7 .9 1.2 1.2 1.3 2 .9 2.5 .8 4.1 .9 7.6 1.7 26.8 .4-.1 1.3-17.5 .4-3.7 .4-1.8 .5 .1 .4 1.9 .4 3.8 1.3 17.8 .4-.1 1.7-27.2 .9-7.6 .4-2.3 .9-3.2 .8-1.9 1.3-1.7 1.3-.9 2.1-.9 2.6-.6 3-.4 8.9-.4 21.3-.2 0-.1z" fill="url(#f0b)" />
<path d="M33.5 520l28.6 .1 13.2 .3 4.2 .4 3 .4 2.2 .6 1.7 .9 1.2 1.2 1.3 2 .9 2.5 .8 4.1 .9 7.6 1.7 26.8 .4-.1 1.3-17.5 .4-3.7 .4-1.8 .5 .1 .4 1.9 .4 3.8 1.3 17.8 .4-.1 1.7-27.2 .9-7.6 .4-2.3 .9-3.2 .8-1.9 1.3-1.7 1.3-.9 2.1-.9 2.6-.6 3-.4 10.2-.4 20-.2" fill="none" stroke="#82adf3" stroke-width="0.9" />
<line x1="33.48" y1="519.9" x2="143.93" y2="519.9" stroke="#9db9ee" stroke-width="0.8" />
<rect x="27.5" y="498.5" width="121" height="107" fill="none" stroke="#222" stroke-width="1" />
<path d="M39.52 605.5L39.52 609.1M51.59 605.5L51.59 607.5M63.66 605.5L63.66 609.1M75.73 605.5L75.73 607.5M87.8 605.5L87.8 609.1M99.87 605.5L99.87 607.5M111.94 605.5L111.94 609.1M124.01 605.5L124.01 607.5M136.08 605.5L136.08 609.1M148.15 605.5L148.15 607.5" stroke="#222" stroke-width="0.9" fill="none"/>
<text x="39.12" y="618" font-size="10" font-weight="bold" text-anchor="middle" fill="#111" stroke="#111" stroke-width="0.3" >-4</text>
<text x="63.26" y="618" font-size="10" font-weight="bold" text-anchor="middle" fill="#111" stroke="#111" stroke-width="0.3" >-2</text>
<text x="87.8" y="618" font-size="10" font-weight="bold" text-anchor="middle" fill="#111" stroke="#111" stroke-width="0.3" >0</text>
<text x="111.94" y="618" font-size="10" font-weight="bold" text-anchor="middle" fill="#111" stroke="#111" stroke-width="0.3" >2</text>
<text x="136.08" y="618" font-size="10" font-weight="bold" text-anchor="middle" fill="#111" stroke="#111" stroke-width="0.3" >4</text>
<text x="88.28" y="632.6" font-size="9.7" font-weight="bold" text-anchor="middle" fill="#111" stroke="#111" stroke-width="0.3" >Velocity (mm/s)</text>
<text transform="translate(18.3 552) rotate(-90)" font-size="9.6" font-weight="bold" text-anchor="middle" fill="#111" stroke="#111" stroke-width="0.3" >Intensity (a.u.)</text>
<text x="137.7" y="511.6" font-size="9.6" font-weight="bold" text-anchor="end" fill="#111" stroke="#111" stroke-width="0.3" >0.4Fe</text>
<defs><linearGradient id="f1r" gradientUnits="userSpaceOnUse" x1="0" y1="519.7" x2="0" y2="545.12"><stop offset="0" stop-color="#ef9a94" stop-opacity="0.05"/><stop offset="1" stop-color="#ef9a94" stop-opacity="0.95"/></linearGradient><linearGradient id="f1g" gradientUnits="userSpaceOnUse" x1="0" y1="519.7" x2="0" y2="524.75"><stop offset="0" stop-color="#a6d8a6" stop-opacity="0.05"/><stop offset="1" stop-color="#a6d8a6" stop-opacity="0.95"/></linearGradient><linearGradient id="f1b" gradientUnits="userSpaceOnUse" x1="0" y1="519.7" x2="0" y2="562.96"><stop offset="0" stop-color="#a8c6f7" stop-opacity="0.05"/><stop offset="1" stop-color="#a8c6f7" stop-opacity="0.95"/></linearGradient></defs>
<path d="M174.6 520l.4 .1 .4 .5 .5-.4 .4-.2 .9 .7 .4-.5 .4 0 .5 .5 .8-.1 .5-.6 .4 .4 .4 .1 .5-.8 .4 1.1 .4-.4 .5-.1 .4 .9 .4-.7 .5-.3 .8 .5 .5 .1 .8-.6 .5 .1 .8-.1 .5 .4 .4-.2 .4 .2 .5-.3 .4 .1 .4 .2 .5 0 .4 .5 .4-.7 .5 .5 .4-.1 .4-.4 .5 .7 .4-.1 .4-.8 .4 1 .5 .1 .4-.5 .4 .9 .9-1 .4 .7 1.3-.8 .5 .9 .4-.3 .4 .4 1.3 0 .5 .4 1.7 0 .4 .1 .5 .4 1.3 0 .4 .3 .4 0 1.3 .7 .9 .2 .9 .7 .8 .1 .5 .7 .4 .1 .4 .8 .5-.1 .8 .9 1.8 2.3 1.3 2.9 .8 2.5 3.1 9.9 .8 2.1 1.3 1.9 .4 .1 .9-.4 .4-.9 .9-1.7 2.6-7.4 .9-1.6 .8-1 .9-.6 .4 .2 .5-.2 .4 .4 .4 .5 .5 1 .4 1 .4 1.6 .9 5.5 .9 10.7 .8 14.4 .5 4.1 .4-1.1 1.3-14.4 .4-1.8 .5-.2 .4 1.3 .4 3.3 .5 5.1 .8 14 .5 4.8 .4-.4 1.3-17.3 .9-8.4 .8-5.5 1.7-8.6 1.3-4.8 .9-2.4 1.3-2.3 1.7-1.7 .9-1.3 .9-1.4 1.7-3.4 .4-.4 .9-1.2 2.2-1.8 .4-.1 .9-.6 1.3-.5 .4 .1 .4-.4 .9 .5 .9-1.6 .4 1.1 .4-.9 .9-.8 .4 .9 .5 .2 .4-.2 .4-.5 .5 .6 .4-.6 .4-.3 .5 .2 .8-.1 .5 .1 .4-1 .4 1.3 .4-.8 .5 .4 .4-.5 .4 .3 .5-.2 .4-.5 .4 .6 .5 .1 .4-.6 .4-.4 .5 .5 .4-.1 .4 .3 .5-.1 .4 .6 .9-.7 .4 .1 .4-1.1 .5 .7 .4-.1 .4 .3 .5 .1 .4 0 .4 .2 .5-.6 .4 .4 .4-.2 .9 .1 .4-.2 .5 .2 .4-.1 .4 .3 .5-.4 .4 .1 .4 .8 .5-.7" fill="none" stroke="#858585" stroke-width="1.25" stroke-linejoin="round"/>
<path d="M174.6 519.7l0 .4 15.6 .4 5.6 .4 4.3 .4 3 .4 2.6 .6 2.2 .7 2.2 1 1.7 1.1 1.3 1.2 1.3 1.6 .9 1.3 1.3 2.5 .8 2.1 2.6 7.7 .9 2.2 .4 .8 .4 .5 .5 .1 .4-.2 .9-1.2 3-7.9 1.3-2.8 .9-1.3 .8-1 .9-.8 .9-.4 1.3-.2 1.3 .3 1.3 1 .8 1 1.3 2.1 .9 1.8 3 8 .9 1.4 .4 .2 .5-.1 .4-.4 .9-1.7 3-8.9 .8-2.1 1.3-2.6 .9-1.3 1.3-1.6 1.3-1.2 1.7-1.2 1.8-.8 2.1-.7 2.6-.7 2.6-.4 3.9-.4 5.2-.4 13.9-.4 0-.5z" fill="url(#f1r)" />
<path d="M174.6 520.1l14.7 .4 9.5 .6 3.5 .5 3 .6 2.2 .6 2.1 1 1.8 1 1.3 1.1 1.3 1.4 1.3 1.9 1.3 2.5 .8 2.1 2.6 7.7 .9 2.2 .4 .8 .4 .5 .5 .1 .4-.2 .9-1.2 3-7.9 1.3-2.8 .9-1.3 .8-1 .9-.8 .9-.4 1.3-.2 1.3 .3 1.3 1 .8 1 1.3 2.1 .9 1.8 3 8 .9 1.4 .4 .2 .5-.1 .4-.4 .9-1.7 3-8.9 .8-2.1 1.3-2.6 .9-1.3 1.3-1.6 1.3-1.2 1.7-1.2 2.2-1 2.2-.7 2.6-.5 3.4-.6 8.7-.6 13-.4" fill="none" stroke="#e58f8a" stroke-width="0.9" />
<path d="M174.6 519.7l25.5 .2 5.6 .2 3.5 .2 2.6 .4 2.2 .8 1.3 .8 2.6 2.2 .8 .3 .9-.4 2.1-1.9 1.8-1 2.1-.7 3.5-.5 3.9-.2 4.8 .1 3.4 .1 2.6 .4 1.7 .4 1.3 .6 1.3 .9 2.2 1.9 .9 .3 .8-.4 2.2-1.9 1.7-1.1 1.8-.6 2.1-.4 3.1-.3 4.3-.2 19.5-.2z" fill="url(#f1g)" />
<path d="M174.6 519.7l25.1 .2 5.6 .1 3.9 .3 2.6 .4 2.2 .8 1.3 .8 2.6 2.2 .8 .3 .9-.4 2.1-1.9 1.8-1 2.1-.7 3.5-.5 3.9-.2 4.8 .1 3.4 .1 2.6 .4 1.7 .4 1.3 .6 1.3 .9 2.2 1.9 .9 .3 .8-.4 2.2-1.9 1.7-1.1 1.8-.6 2.1-.4 3.5-.3 4.8-.2 18.6-.1" fill="none" stroke="#9bd09b" stroke-width="0.9" />
<path d="M174.6 519.7l29.8 .2 12.6 .3 4.3 .3 3 .4 2.2 .6 1.7 .8 1.3 1.1 .9 1.2 .4 .8 .9 2.4 .9 4.1 .8 7.5 1.3 19.8 .5 3.8 .4-1.6 1.3-16.2 .4-2.9 .5-1.1 .4 .4 .4 2.2 .5 4 .8 11.6 .5 3.6 .4-1.7 1.3-19.7 .9-8.5 .4-2.7 .9-3.4 .8-2.1 1.3-1.7 1.3-1 1.7-.8 2.6-.6 3.1-.4 9.1-.4 22.5-.2 0-.1z" fill="url(#f1b)" />
<path d="M174.6 519.8l29 .1 13.4 .3 4.3 .3 3 .4 2.2 .6 1.7 .8 1.3 1.1 .9 1.2 .4 .8 .9 2.4 .9 4.1 .8 7.5 1.3 19.8 .5 3.8 .4-1.6 1.3-16.2 .4-2.9 .5-1.1 .4 .4 .4 2.2 .5 4 .8 11.6 .5 3.6 .4-1.7 1.3-19.7 .9-8.5 .4-2.7 .9-3.4 .8-2.1 1.3-1.7 1.3-1 2.2-.9 2.6-.6 3-.3 10.4-.4 20.8-.2" fill="none" stroke="#82adf3" stroke-width="0.9" />
<line x1="174.57" y1="519.7" x2="286.66" y2="519.7" stroke="#9db9ee" stroke-width="0.8" />
<rect x="168.5" y="498.5" width="122" height="107" fill="none" stroke="#222" stroke-width="1" />
<path d="M180.7 605.5L180.7 609.1M192.95 605.5L192.95 607.5M205.2 605.5L205.2 609.1M217.45 605.5L217.45 607.5M229.7 605.5L229.7 609.1M241.95 605.5L241.95 607.5M254.2 605.5L254.2 609.1M266.45 605.5L266.45 607.5M278.7 605.5L278.7 609.1" stroke="#222" stroke-width="0.9" fill="none"/>
<text x="180.3" y="618" font-size="10" font-weight="bold" text-anchor="middle" fill="#111" stroke="#111" stroke-width="0.3" >-4</text>
<text x="204.8" y="618" font-size="10" font-weight="bold" text-anchor="middle" fill="#111" stroke="#111" stroke-width="0.3" >-2</text>
<text x="229.7" y="618" font-size="10" font-weight="bold" text-anchor="middle" fill="#111" stroke="#111" stroke-width="0.3" >0</text>
<text x="254.2" y="618" font-size="10" font-weight="bold" text-anchor="middle" fill="#111" stroke="#111" stroke-width="0.3" >2</text>
<text x="278.7" y="618" font-size="10" font-weight="bold" text-anchor="middle" fill="#111" stroke="#111" stroke-width="0.3" >4</text>
<text x="230.19" y="632.6" font-size="9.7" font-weight="bold" text-anchor="middle" fill="#111" stroke="#111" stroke-width="0.3" >Velocity (mm/s)</text>
<text transform="translate(162 552) rotate(-90)" font-size="9.6" font-weight="bold" text-anchor="middle" fill="#111" stroke="#111" stroke-width="0.3" >Intensity (a.u.)</text>
<text x="281.5" y="511.6" font-size="9.6" font-weight="bold" text-anchor="end" fill="#111" stroke="#111" stroke-width="0.3" >0.6Fe</text>
<defs><linearGradient id="f2r" gradientUnits="userSpaceOnUse" x1="0" y1="519" x2="0" y2="557.5"><stop offset="0" stop-color="#ef9a94" stop-opacity="0.05"/><stop offset="1" stop-color="#ef9a94" stop-opacity="0.95"/></linearGradient><linearGradient id="f2g" gradientUnits="userSpaceOnUse" x1="0" y1="519" x2="0" y2="527.42"><stop offset="0" stop-color="#a6d8a6" stop-opacity="0.05"/><stop offset="1" stop-color="#a6d8a6" stop-opacity="0.95"/></linearGradient><linearGradient id="f2p" gradientUnits="userSpaceOnUse" x1="0" y1="519" x2="0" y2="545.04"><stop offset="0" stop-color="#c4b2e0" stop-opacity="0.05"/><stop offset="1" stop-color="#c4b2e0" stop-opacity="0.95"/></linearGradient><linearGradient id="f2b" gradientUnits="userSpaceOnUse" x1="0" y1="519" x2="0" y2="544.33"><stop offset="0" stop-color="#a8c6f7" stop-opacity="0.05"/><stop offset="1" stop-color="#a8c6f7" stop-opacity="0.95"/></linearGradient></defs>
<path d="M314.6 519.9l.4 .2 .4-.7 .4 .6 .9-.1 .4 .2 .4 0 .5 .1 .4-.6 .4 .4 .4-.3 .5 .6 .8-.8 .4 .5 .5-.4 .4 .7 .8-1.1 .9 1.2 .8-.5 .5 .4 .4 0 .4 .4 .9-.4 .4-.3 .4 .4 .9-.1 .4 .2 .4-.5 .4 .6 .5-.2 .4 .2 .8-.1 .9 .4 .4-.3 .4 .2 .5-.3 .4 .5 .4-.1 .4-.4 .5 .9 .4-.7 .4 .4 .4-.4 .5-.1 .4 .9 .4-.6 .4-.2 .5 .8 .4-.1 .8 .6 .5-.1 .8 .3 .9 .2 .4 .3 .4 0 .9 .4 .4 0 2.1 1.5 .4-.1 1.3 1.2 1.7 1.9 1.3 2.3 1.7 4 .8 2.8 2.2 8.1 1.2 5.6 3 18.5 .4 1.2 .5 .7 .4-.3 .8-2.1 1.3-3.8 .9-1.5 .8-1.2 .4-1 .9-2.8 1.7-7.1 .4-1.2 .4-.9 .9-1.2 .8 .3 .9 1.5 .8 2.9 .9 5.1 1.3 10.8 .4 3 .4 2 .4 .7 .5 0 .4 .4 .4 .8 .4 1.6 .9 5.1 1.7 13 .8 3.3 .5-.7 .8-6.1 2.6-30.1 .8-7.1 .9-5 .8-3.8 .4-1.2 2.2-5 1.2-3.4 .5-.7 1.2-3.6 .9-1.8 1.7-2.5 .4-.4 .9-1 2.1-1.9 .4 .1 .4-.6 .9 0 .8-.9 .5 .1 .4-.4 .4 .4 .4-.5 .5 0 .4 .2 .4-.9 .4-.1 .5 .7 .4 .1 .8-.9 .5 .6 .4-.3 .4 .1 .4-1 .5 .5 .4-.4 .4-.1 .4 .5 .5 0 .4-.4 .4 0 .4 .5 .9-.6 .4 .2 .4-.2 .5-.5 .8 .4 .4 .1 .5-.6 .8 .1 .4-.3 .5 .8 .4-.2 .4 .3 .4-1.3 .5 .5 .4 .9 .4-1.2 .4-.1 .9 1.1 .8-.9 .5 .5 .8-.2 1.7 .4 .4-.2" fill="none" stroke="#858585" stroke-width="1.25" stroke-linejoin="round"/>
<path d="M314.6 519l0 .3 16.5 .5 5.6 .3 4.2 .5 3.4 .6 2.6 .7 2.1 1 1.7 1.3 1.3 1.3 1.2 1.9 1.3 2.8 .9 2.6 .8 3.5 .9 4.4 2.1 13.6 .4 2 .4 1.1 .5 .1 .4-.9 .4-1.8 2.1-13.1 .9-4.3 .8-3.3 .9-2.5 1.3-2.4 .8-1.1 .9-.7 .8-.4 .9-.2 .8 .1 .9 .3 1.2 .9 1.3 1.8 .9 1.8 .8 2.5 .9 3.3 .8 4.3 2.1 13.1 .5 1.8 .4 .8 .4-.2 .4-1.1 .5-2 2.1-13.6 .8-4.4 .9-3.4 .8-2.6 1.3-2.8 1.3-1.9 1.3-1.4 1.7-1.2 2.1-1 2.1-.6 3-.6 4.2-.5 5.1-.4 15.3-.4 0-.4z" fill="url(#f2r)" />
<path d="M314.6 519.3l15.7 .4 5.5 .3 4.3 .4 3.4 .6 2.5 .6 2.1 .9 2.2 1.3 1.7 1.7 1.2 1.9 1.3 2.8 .9 2.6 .8 3.5 .9 4.4 2.1 13.6 .4 2 .4 1.1 .5 .1 .4-.9 .4-1.8 2.1-13.1 .9-4.3 .8-3.3 .9-2.5 1.3-2.4 .8-1.1 .9-.7 .8-.4 .9-.2 .8 .1 .9 .3 1.2 .9 1.3 1.8 .9 1.8 .8 2.5 .9 3.3 .8 4.3 2.1 13.1 .5 1.8 .4 .8 .4-.2 .4-1.1 .5-2 2.1-13.6 .8-4.4 .9-3.4 .8-2.6 1.3-2.8 1.3-1.9 1.3-1.4 1.7-1.2 2.1-1 2.5-.7 3.4-.6 3.9-.5 5.1-.3 14.8-.4" fill="none" stroke="#e58f8a" stroke-width="0.9" />
<path d="M314.6 519l0 .1 13.6 .1 8.5 .2 5.1 .4 3.4 .5 2.5 .7 2.1 1.1 1.7 1.4 2.6 3.1 .8 .7 .5 .1 .4 0 .8-.6 3-3.4 1.7-1.4 1.3-.6 1.3-.5 3.4-.7 3.8-.2 3.8 0 3.4 .4 2.6 .5 1.7 .7 1.2 .8 1.7 1.5 2.6 3 .8 .5 .5 0 .8-.5 2.6-3 1.7-1.6 1.7-1 2.5-.9 3.4-.5 4.3-.4 7.2-.2 11-.2 0-.1z" fill="url(#f2g)" />
<path d="M314.6 519.1l21.2 .3 5.5 .3 3.9 .6 2.5 .7 2.1 1.1 1.7 1.4 2.6 3.1 .8 .7 .5 .1 .4 0 .8-.6 3-3.4 1.7-1.4 1.3-.6 1.3-.5 3.4-.7 3.8-.2 3.8 0 3.4 .4 2.6 .5 1.7 .7 1.2 .8 1.7 1.5 2.6 3 .8 .5 .5 0 .8-.5 2.6-3 1.7-1.6 1.7-1 2.5-.9 3.4-.5 4.7-.4 7.2-.2 10.6-.2" fill="none" stroke="#9bd09b" stroke-width="0.9" />
<path d="M314.6 519l0 .2 19.1 .2 11 .4 3.4 .2 3 .4 2.6 .6 1.7 .6 1.7 .9 1.2 1 1.3 1.6 .9 1.5 1.2 3.1 2.6 9 .4 .9 .4 .3 .5-.3 .4-.8 2.1-6.8 1.3-2.8 .4-.6 .9-.8 .8-.3 .9 .2 .8 .6 .4 .5 1.3 2.6 1.3 4.3 1.7 7.4 .4 1.3 .4 .6 .5-.1 .4-.8 .4-1.5 2.1-9.8 .9-3 .8-2.2 .9-1.7 1.3-1.7 1.2-1.2 1.3-.9 1.7-.7 2.1-.6 2.6-.5 3.4-.4 9.8-.5 16.5-.2 0-.2z" fill="url(#f2p)" />
<path d="M314.6 519.2l18.7 .2 11 .3 3.8 .3 3 .4 2.6 .6 1.7 .6 1.7 .9 1.2 1 1.3 1.6 .9 1.5 1.2 3.1 2.6 9 .4 .9 .4 .3 .5-.3 .4-.8 2.1-6.8 1.3-2.8 .4-.6 .9-.8 .8-.3 .9 .2 .8 .6 .4 .5 1.3 2.6 1.3 4.3 1.7 7.4 .4 1.3 .4 .6 .5-.1 .4-.8 .4-1.5 2.1-9.8 .9-3 .8-2.2 .9-1.7 1.3-1.7 1.2-1.2 1.3-.9 1.7-.7 2.6-.7 2.5-.4 3.4-.4 9.8-.5 16.1-.2" fill="none" stroke="#b7a3d6" stroke-width="0.9" />
<path d="M314.6 519l28.4 .1 11.9 .3 4.3 .2 3 .3 2.5 .5 1.7 .6 1.7 1 1.3 1.3 .8 1.4 .9 2.1 .8 3.1 .5 2.1 1.7 10.8 .4 1.5 .4 0 .4-1.4 1.7-10.7 .5-2.1 .8-3.2 .9-2.1 .8-1.4 1.3-1.4 1.3-.8 1.7-.7 2.1-.5 2.5-.3 3.4-.2 9.8-.3 22.5-.2z" fill="url(#f2b)" />
<path d="M314.6 519l27.2 .1 13.1 .3 4.3 .2 3 .3 2.5 .5 1.7 .6 1.7 1 1.3 1.3 .8 1.4 .9 2.1 .8 3.1 .5 2.1 1.7 10.8 .4 1.5 .4 0 .4-1.4 1.7-10.7 .5-2.1 .8-3.2 .9-2.1 .8-1.4 1.3-1.4 1.3-.8 1.7-.7 2.1-.5 2.5-.3 3.4-.2 11.1-.3 21.2-.1" fill="none" stroke="#82adf3" stroke-width="0.9" />
<line x1="314.56" y1="519" x2="424.64" y2="519" stroke="#9db9ee" stroke-width="0.8" />
<rect x="308.5" y="498.5" width="121" height="107" fill="none" stroke="#222" stroke-width="1" />
<path d="M308.55 605.5L308.55 607.5M320.58 605.5L320.58 609.1M332.61 605.5L332.61 607.5M344.64 605.5L344.64 609.1M356.67 605.5L356.67 607.5M368.7 605.5L368.7 609.1M380.73 605.5L380.73 607.5M392.76 605.5L392.76 609.1M404.79 605.5L404.79 607.5M416.82 605.5L416.82 609.1M428.85 605.5L428.85 607.5" stroke="#222" stroke-width="0.9" fill="none"/>
<text x="320.18" y="618" font-size="10" font-weight="bold" text-anchor="middle" fill="#111" stroke="#111" stroke-width="0.3" >-4</text>
<text x="344.24" y="618" font-size="10" font-weight="bold" text-anchor="middle" fill="#111" stroke="#111" stroke-width="0.3" >-2</text>
<text x="368.7" y="618" font-size="10" font-weight="bold" text-anchor="middle" fill="#111" stroke="#111" stroke-width="0.3" >0</text>
<text x="392.76" y="618" font-size="10" font-weight="bold" text-anchor="middle" fill="#111" stroke="#111" stroke-width="0.3" >2</text>
<text x="416.82" y="618" font-size="10" font-weight="bold" text-anchor="middle" fill="#111" stroke="#111" stroke-width="0.3" >4</text>
<text x="369.18" y="632.6" font-size="9.7" font-weight="bold" text-anchor="middle" fill="#111" stroke="#111" stroke-width="0.3" >Velocity (mm/s)</text>
<text transform="translate(303.6 552) rotate(-90)" font-size="9.6" font-weight="bold" text-anchor="middle" fill="#111" stroke="#111" stroke-width="0.3" >Intensity (a.u.)</text>
<text x="419.5" y="511.6" font-size="9.6" font-weight="bold" text-anchor="end" fill="#111" stroke="#111" stroke-width="0.3" >1.2Fe</text>
<text x="3.4" y="490.7" font-size="22" font-weight="bold" text-anchor="start" fill="#000" stroke="#000" stroke-width="0.3" >f</text>
</g>
<g id="pg">
<defs><radialGradient id="bn" cx="0.38" cy="0.34" r="0.7"><stop offset="0" stop-color="#7d7dff"/><stop offset="0.55" stop-color="#3b3bf0"/><stop offset="1" stop-color="#2424c8"/></radialGradient>
<radialGradient id="gn" cx="0.38" cy="0.34" r="0.7"><stop offset="0" stop-color="#b8b8b8"/><stop offset="1" stop-color="#6a6a6a"/></radialGradient>
<radialGradient id="pn" cx="0.38" cy="0.34" r="0.7"><stop offset="0" stop-color="#ffd0d0"/><stop offset="0.6" stop-color="#ec9a9a"/><stop offset="1" stop-color="#d07878"/></radialGradient>
<filter id="gbl" x="-5%" y="-5%" width="110%" height="110%"><feGaussianBlur stdDeviation="0.35"/></filter></defs>
<g filter="url(#gbl)">
<path d="M468.8 504.3L484.01 515.32M468.8 598.5L484.01 587.48M478 516.1L491.05 524.36M478 586.7L491.05 578.44M493.8 521.2L503.16 528.26M493.8 581.6L503.16 574.54M510.7 516.6L516.1 524.74M510.7 586.2L516.1 578.06M517.8 504.3L521.54 515.32M517.8 598.5L521.54 587.48M518.4 531.9L522 536.46M518.4 570.9L522 566.34M494.9 535L504 538.84M494.9 567.8L504 563.96M511.2 543.1L516.49 545.04M511.2 559.7L516.49 557.76M469.3 531.9L484.39 536.46M469.3 570.9L484.39 566.34M479 543.1L491.82 545.04M479 559.7L491.82 557.76M534.9 512L534.64 521.22M534.9 590.8L534.64 581.58M534.4 526.3L534.26 532.17M534.4 576.5L534.26 570.63M551.3 503.8L547.21 514.94M551.3 599L547.21 587.86M557.9 515.5L552.26 523.9M557.9 587.3L552.26 578.9M550.3 531.4L546.44 536.08M550.3 571.4L546.44 566.72M574.8 520.7L565.21 527.88M574.8 582.1L565.21 574.92M573.8 534.5L564.44 538.45M573.8 568.3L564.44 564.35M557.9 542.1L552.26 544.28M557.9 560.7L552.26 558.52" stroke="#9a9a9a" stroke-width="0.5" fill="none" opacity="0.7"/>
<g opacity="0.25"><path d="M484.01 515.32L484.39 507.89M484.01 587.48L484.39 594.91M484.01 515.32L476.58 517.31M484.01 587.48L476.58 585.49M484.01 515.32L491.05 524.36M484.01 587.48L491.05 578.44M491.05 524.36L503.16 528.26M491.05 578.44L503.16 574.54M503.16 528.26L516.1 524.74M503.16 574.54L516.1 578.06M516.1 524.74L521.54 515.32M516.1 578.06L521.54 587.48M521.54 515.32L520.78 507.89M521.54 587.48L520.78 594.91M516.1 524.74L522 536.46M516.1 578.06L522 566.34M522 536.46L516.49 545.04M522 566.34L516.49 557.76M516.49 545.04L504 538.84M516.49 557.76L504 563.96M504 538.84L503.16 528.26M504 563.96L503.16 574.54M504 538.84L491.82 545.04M504 563.96L491.82 557.76M484.39 536.46L491.82 545.04M484.39 566.34L491.82 557.76M484.39 536.46L477.72 536.46M484.39 566.34L477.72 566.34M491.05 524.36L484.39 536.46M491.05 578.44L484.39 566.34M521.54 515.32L534.64 521.22M521.54 587.48L534.64 581.58M534.64 521.22L534.26 532.17M534.64 581.58L534.26 570.63M534.26 532.17L522 536.46M534.26 570.63L522 566.34M534.26 532.17L546.44 536.08M534.26 570.63L546.44 566.72M534.64 521.22L547.21 514.94M534.64 581.58L547.21 587.86M547.21 514.94L547.59 507.89M547.21 587.86L547.59 594.91M547.21 514.94L552.26 523.9M547.21 587.86L552.26 578.9M552.26 523.9L546.44 536.08M552.26 578.9L546.44 566.72M546.44 536.08L552.26 544.28M546.44 566.72L552.26 558.52M552.26 523.9L565.21 527.88M552.26 578.9L565.21 574.92M565.21 527.88L570.65 524.36M565.21 574.92L570.65 578.44M565.21 527.88L564.44 538.45M565.21 574.92L564.44 564.35M564.44 538.45L569.5 542.74M564.44 564.35L569.5 560.06M564.44 538.45L552.26 544.28M564.44 564.35L552.26 558.52M516.49 545.04L516.49 557.76M491.82 545.04L491.82 557.76M552.26 544.28L552.26 558.52" stroke="#8c8c8c" stroke-width="0.54" stroke-linecap="round" fill="none"/><path d="M486.26 518.21L488.8 521.47M486.26 584.59L488.8 581.33M494.93 525.61L499.28 527.01M494.93 577.19L499.28 575.79M507.3 527.14L511.96 525.87M507.3 575.66L511.96 576.93M517.84 521.73L519.8 518.33M517.84 581.07L519.8 584.47M517.99 528.49L520.12 532.71M517.99 574.31L520.12 570.09M520.24 539.21L518.25 542.3M520.24 563.59L518.25 560.5M512.49 543.06L508 540.82M512.49 559.74L508 561.98M503.73 535.45L503.43 531.65M503.73 567.35L503.43 571.15M500.1 540.82L495.72 543.06M500.1 561.98L495.72 559.74M486.77 539.21L489.44 542.3M486.77 563.59L489.44 560.5M488.92 528.23L486.52 532.59M488.92 574.57L486.52 570.21M525.73 517.21L530.45 519.33M525.73 585.59L530.45 583.47M534.52 524.72L534.38 528.67M534.52 578.08L534.38 574.13M530.34 533.54L525.92 535.09M530.34 569.26L525.92 567.71M538.16 533.42L542.54 534.83M538.16 569.38L542.54 567.97M538.66 519.21L543.19 516.95M538.66 583.59L543.19 585.85M548.82 517.8L550.64 521.03M548.82 585L550.64 581.77M550.4 527.8L548.3 532.18M550.4 575L548.3 570.62M548.3 538.7L550.4 541.65M548.3 564.1L550.4 561.15M556.4 525.17L561.07 526.61M556.4 577.63L561.07 576.19M564.96 531.26L564.69 535.07M564.96 571.54L564.69 567.73M560.54 540.32L556.16 542.41M560.54 562.48L556.16 560.39M516.49 549.11L516.49 553.69M491.82 549.11L491.82 553.69M552.26 548.84L552.26 553.96" stroke="#7c7c7c" stroke-width="1.3" stroke-linecap="round" fill="none"/><circle cx="484.39" cy="507.89" r="0.96" fill="url(#gn)"/><circle cx="484.39" cy="594.91" r="0.96" fill="url(#gn)"/><circle cx="476.58" cy="517.31" r="0.96" fill="url(#gn)"/><circle cx="476.58" cy="585.49" r="0.96" fill="url(#gn)"/><circle cx="520.78" cy="507.89" r="0.96" fill="url(#gn)"/><circle cx="520.78" cy="594.91" r="0.96" fill="url(#gn)"/><circle cx="547.59" cy="507.89" r="0.96" fill="url(#gn)"/><circle cx="547.59" cy="594.91" r="0.96" fill="url(#gn)"/><circle cx="570.65" cy="524.36" r="0.96" fill="url(#gn)"/><circle cx="570.65" cy="578.44" r="0.96" fill="url(#gn)"/><circle cx="569.5" cy="542.74" r="0.96" fill="url(#gn)"/><circle cx="569.5" cy="560.06" r="0.96" fill="url(#gn)"/><circle cx="477.72" cy="536.46" r="0.96" fill="url(#gn)"/><circle cx="477.72" cy="566.34" r="0.96" fill="url(#gn)"/><circle cx="484.01" cy="515.32" r="1.76" fill="url(#bn)"/><circle cx="484.01" cy="587.48" r="1.76" fill="url(#bn)"/><circle cx="491.05" cy="524.36" r="1.76" fill="url(#bn)"/><circle cx="491.05" cy="578.44" r="1.76" fill="url(#bn)"/><circle cx="503.16" cy="528.26" r="1.76" fill="url(#bn)"/><circle cx="503.16" cy="574.54" r="1.76" fill="url(#bn)"/><circle cx="516.1" cy="524.74" r="1.76" fill="url(#bn)"/><circle cx="516.1" cy="578.06" r="1.76" fill="url(#bn)"/><circle cx="521.54" cy="515.32" r="1.76" fill="url(#bn)"/><circle cx="521.54" cy="587.48" r="1.76" fill="url(#bn)"/><circle cx="522" cy="536.46" r="1.76" fill="url(#bn)"/><circle cx="522" cy="566.34" r="1.76" fill="url(#bn)"/><circle cx="504" cy="538.84" r="1.76" fill="url(#bn)"/><circle cx="504" cy="563.96" r="1.76" fill="url(#bn)"/><circle cx="516.49" cy="545.04" r="1.76" fill="url(#bn)"/><circle cx="516.49" cy="557.76" r="1.76" fill="url(#bn)"/><circle cx="484.39" cy="536.46" r="1.76" fill="url(#bn)"/><circle cx="484.39" cy="566.34" r="1.76" fill="url(#bn)"/><circle cx="491.82" cy="545.04" r="1.76" fill="url(#bn)"/><circle cx="491.82" cy="557.76" r="1.76" fill="url(#bn)"/><circle cx="534.64" cy="521.22" r="1.76" fill="url(#bn)"/><circle cx="534.64" cy="581.58" r="1.76" fill="url(#bn)"/><circle cx="534.26" cy="532.17" r="1.76" fill="url(#bn)"/><circle cx="534.26" cy="570.63" r="1.76" fill="url(#bn)"/><circle cx="547.21" cy="514.94" r="1.76" fill="url(#bn)"/><circle cx="547.21" cy="587.86" r="1.76" fill="url(#bn)"/><circle cx="552.26" cy="523.9" r="1.76" fill="url(#bn)"/><circle cx="552.26" cy="578.9" r="1.76" fill="url(#bn)"/><circle cx="546.44" cy="536.08" r="1.76" fill="url(#bn)"/><circle cx="546.44" cy="566.72" r="1.76" fill="url(#bn)"/><circle cx="565.21" cy="527.88" r="1.76" fill="url(#bn)"/><circle cx="565.21" cy="574.92" r="1.76" fill="url(#bn)"/><circle cx="564.44" cy="538.45" r="1.76" fill="url(#bn)"/><circle cx="564.44" cy="564.35" r="1.76" fill="url(#bn)"/><circle cx="552.26" cy="544.28" r="1.76" fill="url(#bn)"/><circle cx="552.26" cy="558.52" r="1.76" fill="url(#bn)"/></g>
<g opacity="0.5"><path d="M479.38 511.97L479.8 503.85M479.38 590.83L479.8 598.95M479.38 511.97L471.26 514.14M479.38 590.83L471.26 588.66M479.38 511.97L487.08 521.85M479.38 590.83L487.08 580.95M487.08 521.85L500.31 526.12M487.08 580.95L500.31 576.68M500.31 526.12L514.46 522.26M500.31 576.68L514.46 580.54M514.46 522.26L520.4 511.97M514.46 580.54L520.4 590.83M520.4 511.97L519.57 503.85M520.4 590.83L519.57 598.95M514.46 522.26L520.91 535.07M514.46 580.54L520.91 567.73M520.91 535.07L514.88 544.45M520.91 567.73L514.88 558.35M514.88 544.45L501.23 537.67M514.88 558.35L501.23 565.13M501.23 537.67L500.31 526.12M501.23 565.13L500.31 576.68M501.23 537.67L487.92 544.45M501.23 565.13L487.92 558.35M479.8 535.07L487.92 544.45M479.8 567.73L487.92 558.35M479.8 535.07L472.52 535.07M479.8 567.73L472.52 567.73M487.08 521.85L479.8 535.07M487.08 580.95L479.8 567.73M520.4 511.97L534.72 518.41M520.4 590.83L534.72 584.39M534.72 518.41L534.3 530.39M534.72 584.39L534.3 572.41M534.3 530.39L520.91 535.07M534.3 572.41L520.91 567.73M534.3 530.39L547.61 534.66M534.3 572.41L547.61 568.14M534.72 518.41L548.45 511.55M534.72 584.39L548.45 591.25M548.45 511.55L548.87 503.85M548.45 591.25L548.87 598.95M548.45 511.55L553.98 521.34M548.45 591.25L553.98 581.46M553.98 521.34L547.61 534.66M553.98 581.46L547.61 568.14M547.61 534.66L553.98 543.61M547.61 568.14L553.98 559.19M553.98 521.34L568.13 525.7M553.98 581.46L568.13 577.1M568.13 525.7L574.07 521.85M568.13 577.1L574.07 580.95M568.13 525.7L567.29 537.25M568.13 577.1L567.29 565.55M567.29 537.25L572.81 541.94M567.29 565.55L572.81 560.86M567.29 537.25L553.98 543.61M567.29 565.55L553.98 559.19M514.88 544.45L514.88 558.35M487.92 544.45L487.92 558.35M553.98 543.61L553.98 559.19" stroke="#8c8c8c" stroke-width="0.59" stroke-linecap="round" fill="none"/><path d="M481.85 515.13L484.62 518.68M481.85 587.67L484.62 584.12M491.32 523.21L496.08 524.75M491.32 579.59L496.08 578.05M504.84 524.88L509.93 523.5M504.84 577.92L509.93 579.3M516.36 518.97L518.5 515.26M516.36 583.83L518.5 587.54M516.52 526.36L518.84 530.98M516.52 576.44L518.84 571.82M518.98 538.07L516.81 541.45M518.98 564.73L516.81 561.35M510.51 542.28L505.6 539.84M510.51 560.52L505.6 562.96M500.94 533.97L500.61 529.81M500.94 568.83L500.61 572.99M496.97 539.84L492.18 542.28M496.97 562.96L492.18 560.52M482.4 538.07L485.32 541.45M482.4 564.73L485.32 561.35M484.75 526.08L482.13 530.84M484.75 576.72L482.13 571.96M524.99 514.03L530.14 516.35M524.99 588.77L530.14 586.45M534.59 522.24L534.44 526.55M534.59 580.56L534.44 576.25M530.02 531.89L525.19 533.57M530.02 570.91L525.19 569.23M538.56 531.75L543.35 533.29M538.56 571.05L543.35 569.51M539.11 516.22L544.06 513.74M539.11 586.58L544.06 589.06M550.22 514.68L552.21 518.21M550.22 588.12L552.21 584.59M551.94 525.6L549.65 530.4M551.94 577.2L549.65 572.4M549.65 537.52L551.94 540.75M549.65 565.28L551.94 562.05M558.5 522.74L563.6 524.3M558.5 580.06L563.6 578.5M567.86 529.39L567.56 533.55M567.86 573.41L567.56 569.25M563.03 539.29L558.24 541.58M563.03 563.51L558.24 561.22M514.88 548.9L514.88 553.9M487.92 548.9L487.92 553.9M553.98 548.6L553.98 554.2" stroke="#7c7c7c" stroke-width="1.42" stroke-linecap="round" fill="none"/><circle cx="479.8" cy="503.85" r="1.05" fill="url(#gn)"/><circle cx="479.8" cy="598.95" r="1.05" fill="url(#gn)"/><circle cx="471.26" cy="514.14" r="1.05" fill="url(#gn)"/><circle cx="471.26" cy="588.66" r="1.05" fill="url(#gn)"/><circle cx="519.57" cy="503.85" r="1.05" fill="url(#gn)"/><circle cx="519.57" cy="598.95" r="1.05" fill="url(#gn)"/><circle cx="548.87" cy="503.85" r="1.05" fill="url(#gn)"/><circle cx="548.87" cy="598.95" r="1.05" fill="url(#gn)"/><circle cx="574.07" cy="521.85" r="1.05" fill="url(#gn)"/><circle cx="574.07" cy="580.95" r="1.05" fill="url(#gn)"/><circle cx="572.81" cy="541.94" r="1.05" fill="url(#gn)"/><circle cx="572.81" cy="560.86" r="1.05" fill="url(#gn)"/><circle cx="472.52" cy="535.07" r="1.05" fill="url(#gn)"/><circle cx="472.52" cy="567.73" r="1.05" fill="url(#gn)"/><circle cx="479.38" cy="511.97" r="1.93" fill="url(#bn)"/><circle cx="479.38" cy="590.83" r="1.93" fill="url(#bn)"/><circle cx="487.08" cy="521.85" r="1.93" fill="url(#bn)"/><circle cx="487.08" cy="580.95" r="1.93" fill="url(#bn)"/><circle cx="500.31" cy="526.12" r="1.93" fill="url(#bn)"/><circle cx="500.31" cy="576.68" r="1.93" fill="url(#bn)"/><circle cx="514.46" cy="522.26" r="1.93" fill="url(#bn)"/><circle cx="514.46" cy="580.54" r="1.93" fill="url(#bn)"/><circle cx="520.4" cy="511.97" r="1.93" fill="url(#bn)"/><circle cx="520.4" cy="590.83" r="1.93" fill="url(#bn)"/><circle cx="520.91" cy="535.07" r="1.93" fill="url(#bn)"/><circle cx="520.91" cy="567.73" r="1.93" fill="url(#bn)"/><circle cx="501.23" cy="537.67" r="1.93" fill="url(#bn)"/><circle cx="501.23" cy="565.13" r="1.93" fill="url(#bn)"/><circle cx="514.88" cy="544.45" r="1.93" fill="url(#bn)"/><circle cx="514.88" cy="558.35" r="1.93" fill="url(#bn)"/><circle cx="479.8" cy="535.07" r="1.93" fill="url(#bn)"/><circle cx="479.8" cy="567.73" r="1.93" fill="url(#bn)"/><circle cx="487.92" cy="544.45" r="1.93" fill="url(#bn)"/><circle cx="487.92" cy="558.35" r="1.93" fill="url(#bn)"/><circle cx="534.72" cy="518.41" r="1.93" fill="url(#bn)"/><circle cx="534.72" cy="584.39" r="1.93" fill="url(#bn)"/><circle cx="534.3" cy="530.39" r="1.93" fill="url(#bn)"/><circle cx="534.3" cy="572.41" r="1.93" fill="url(#bn)"/><circle cx="548.45" cy="511.55" r="1.93" fill="url(#bn)"/><circle cx="548.45" cy="591.25" r="1.93" fill="url(#bn)"/><circle cx="553.98" cy="521.34" r="1.93" fill="url(#bn)"/><circle cx="553.98" cy="581.46" r="1.93" fill="url(#bn)"/><circle cx="547.61" cy="534.66" r="1.93" fill="url(#bn)"/><circle cx="547.61" cy="568.14" r="1.93" fill="url(#bn)"/><circle cx="568.13" cy="525.7" r="1.93" fill="url(#bn)"/><circle cx="568.13" cy="577.1" r="1.93" fill="url(#bn)"/><circle cx="567.29" cy="537.25" r="1.93" fill="url(#bn)"/><circle cx="567.29" cy="565.55" r="1.93" fill="url(#bn)"/><circle cx="553.98" cy="543.61" r="1.93" fill="url(#bn)"/><circle cx="553.98" cy="559.19" r="1.93" fill="url(#bn)"/></g>
<g opacity="0.8"><path d="M474.32 508.3L474.78 499.43M474.32 594.5L474.78 603.37M474.32 508.3L465.45 510.68M474.32 594.5L465.45 592.12M474.32 508.3L482.74 519.1M474.32 594.5L482.74 583.7M482.74 519.1L497.2 523.77M482.74 583.7L497.2 579.03M497.2 523.77L512.66 519.56M497.2 579.03L512.66 583.24M512.66 519.56L519.16 508.3M512.66 583.24L519.16 594.5M519.16 508.3L518.25 499.43M519.16 594.5L518.25 603.37M512.66 519.56L519.71 533.56M512.66 583.24L519.71 569.24M519.71 533.56L513.12 543.81M519.71 569.24L513.12 558.99M513.12 543.81L498.21 536.39M513.12 558.99L498.21 566.41M498.21 536.39L497.2 523.77M498.21 566.41L497.2 579.03M498.21 536.39L483.66 543.81M498.21 566.41L483.66 558.99M474.78 533.56L483.66 543.81M474.78 569.24L483.66 558.99M474.78 533.56L466.82 533.56M474.78 569.24L466.82 569.24M482.74 519.1L474.78 533.56M482.74 583.7L474.78 569.24M519.16 508.3L534.81 515.35M519.16 594.5L534.81 587.45M534.81 515.35L534.35 528.43M534.81 587.45L534.35 574.37M534.35 528.43L519.71 533.56M534.35 574.37L519.71 569.24M534.35 528.43L548.9 533.1M534.35 574.37L548.9 569.7M534.81 515.35L549.81 507.85M534.81 587.45L549.81 594.95M549.81 507.85L550.27 499.43M549.81 594.95L550.27 603.37M549.81 507.85L555.85 518.55M549.81 594.95L555.85 584.25M555.85 518.55L548.9 533.1M555.85 584.25L548.9 569.7M548.9 533.1L555.85 542.89M548.9 569.7L555.85 559.91M555.85 518.55L571.31 523.31M555.85 584.25L571.31 579.49M571.31 523.31L577.81 519.1M571.31 579.49L577.81 583.7M571.31 523.31L570.4 535.94M571.31 579.49L570.4 566.86M570.4 535.94L576.44 541.06M570.4 566.86L576.44 561.74M570.4 535.94L555.85 542.89M570.4 566.86L555.85 559.91M513.12 543.81L513.12 558.99M483.66 543.81L483.66 558.99M555.85 542.89L555.85 559.91" stroke="#8c8c8c" stroke-width="0.64" stroke-linecap="round" fill="none"/><path d="M477.02 511.76L480.05 515.65M477.02 591.04L480.05 587.15M487.37 520.59L492.57 522.27M487.37 582.21L492.57 580.53M502.15 522.42L507.72 520.9M502.15 580.38L507.72 581.9M514.74 515.96L517.08 511.9M514.74 586.84L517.08 590.9M514.92 524.04L517.45 529.08M514.92 578.76L517.45 573.72M517.6 536.84L515.23 540.53M517.6 565.96L515.23 562.27M508.35 541.43L502.98 538.77M508.35 561.37L502.98 564.03M497.88 532.35L497.52 527.81M497.88 570.45L497.52 574.99M493.55 538.77L488.31 541.43M493.55 564.03L488.31 561.37M477.62 536.84L480.82 540.53M477.62 565.96L480.82 562.27M480.2 523.73L477.33 528.93M480.2 579.07L477.33 573.87M524.17 510.56L529.8 513.09M524.17 592.24L529.8 589.71M534.66 519.54L534.5 524.25M534.66 583.26L534.5 578.55M529.66 530.07L524.39 531.92M529.66 572.73L524.39 570.88M539 529.93L544.24 531.61M539 572.87L544.24 571.19M539.61 512.95L545.01 510.25M539.61 589.85L545.01 592.55M551.74 511.27L553.92 515.13M551.74 591.53L553.92 587.67M553.63 523.21L551.12 528.44M553.63 579.59L551.12 574.36M551.12 536.23L553.63 539.76M551.12 566.57L553.63 563.04M560.8 520.07L566.37 521.79M560.8 582.73L566.37 581.01M571.02 527.35L570.69 531.9M571.02 575.45L570.69 570.9M565.74 538.16L560.51 540.67M565.74 564.64L560.51 562.13M513.12 548.67L513.12 554.13M483.66 548.67L483.66 554.13M555.85 548.34L555.85 554.46" stroke="#7c7c7c" stroke-width="1.56" stroke-linecap="round" fill="none"/><circle cx="474.78" cy="499.43" r="1.14" fill="url(#gn)"/><circle cx="474.78" cy="603.37" r="1.14" fill="url(#gn)"/><circle cx="465.45" cy="510.68" r="1.14" fill="url(#gn)"/><circle cx="465.45" cy="592.12" r="1.14" fill="url(#gn)"/><circle cx="518.25" cy="499.43" r="1.14" fill="url(#gn)"/><circle cx="518.25" cy="603.37" r="1.14" fill="url(#gn)"/><circle cx="550.27" cy="499.43" r="1.14" fill="url(#gn)"/><circle cx="550.27" cy="603.37" r="1.14" fill="url(#gn)"/><circle cx="577.81" cy="519.1" r="1.14" fill="url(#gn)"/><circle cx="577.81" cy="583.7" r="1.14" fill="url(#gn)"/><circle cx="576.44" cy="541.06" r="1.14" fill="url(#gn)"/><circle cx="576.44" cy="561.74" r="1.14" fill="url(#gn)"/><circle cx="466.82" cy="533.56" r="1.14" fill="url(#gn)"/><circle cx="466.82" cy="569.24" r="1.14" fill="url(#gn)"/><circle cx="474.32" cy="508.3" r="2.1" fill="url(#bn)"/><circle cx="474.32" cy="594.5" r="2.1" fill="url(#bn)"/><circle cx="482.74" cy="519.1" r="2.1" fill="url(#bn)"/><circle cx="482.74" cy="583.7" r="2.1" fill="url(#bn)"/><circle cx="497.2" cy="523.77" r="2.1" fill="url(#bn)"/><circle cx="497.2" cy="579.03" r="2.1" fill="url(#bn)"/><circle cx="512.66" cy="519.56" r="2.1" fill="url(#bn)"/><circle cx="512.66" cy="583.24" r="2.1" fill="url(#bn)"/><circle cx="519.16" cy="508.3" r="2.1" fill="url(#bn)"/><circle cx="519.16" cy="594.5" r="2.1" fill="url(#bn)"/><circle cx="519.71" cy="533.56" r="2.1" fill="url(#bn)"/><circle cx="519.71" cy="569.24" r="2.1" fill="url(#bn)"/><circle cx="498.21" cy="536.39" r="2.1" fill="url(#bn)"/><circle cx="498.21" cy="566.41" r="2.1" fill="url(#bn)"/><circle cx="513.12" cy="543.81" r="2.1" fill="url(#bn)"/><circle cx="513.12" cy="558.99" r="2.1" fill="url(#bn)"/><circle cx="474.78" cy="533.56" r="2.1" fill="url(#bn)"/><circle cx="474.78" cy="569.24" r="2.1" fill="url(#bn)"/><circle cx="483.66" cy="543.81" r="2.1" fill="url(#bn)"/><circle cx="483.66" cy="558.99" r="2.1" fill="url(#bn)"/><circle cx="534.81" cy="515.35" r="2.1" fill="url(#bn)"/><circle cx="534.81" cy="587.45" r="2.1" fill="url(#bn)"/><circle cx="534.35" cy="528.43" r="2.1" fill="url(#bn)"/><circle cx="534.35" cy="574.37" r="2.1" fill="url(#bn)"/><circle cx="549.81" cy="507.85" r="2.1" fill="url(#bn)"/><circle cx="549.81" cy="594.95" r="2.1" fill="url(#bn)"/><circle cx="555.85" cy="518.55" r="2.1" fill="url(#bn)"/><circle cx="555.85" cy="584.25" r="2.1" fill="url(#bn)"/><circle cx="548.9" cy="533.1" r="2.1" fill="url(#bn)"/><circle cx="548.9" cy="569.7" r="2.1" fill="url(#bn)"/><circle cx="571.31" cy="523.31" r="2.1" fill="url(#bn)"/><circle cx="571.31" cy="579.49" r="2.1" fill="url(#bn)"/><circle cx="570.4" cy="535.94" r="2.1" fill="url(#bn)"/><circle cx="570.4" cy="566.86" r="2.1" fill="url(#bn)"/><circle cx="555.85" cy="542.89" r="2.1" fill="url(#bn)"/><circle cx="555.85" cy="559.91" r="2.1" fill="url(#bn)"/></g>
<g opacity="1"><path d="M468.8 504.3L469.3 494.6M468.8 598.5L469.3 608.2M468.8 504.3L459.1 506.9M468.8 598.5L459.1 595.9M468.8 504.3L478 516.1M468.8 598.5L478 586.7M478 516.1L493.8 521.2M478 586.7L493.8 581.6M493.8 521.2L510.7 516.6M493.8 581.6L510.7 586.2M510.7 516.6L517.8 504.3M510.7 586.2L517.8 598.5M517.8 504.3L516.8 494.6M517.8 598.5L516.8 608.2M510.7 516.6L518.4 531.9M510.7 586.2L518.4 570.9M518.4 531.9L511.2 543.1M518.4 570.9L511.2 559.7M511.2 543.1L494.9 535M511.2 559.7L494.9 567.8M494.9 535L493.8 521.2M494.9 567.8L493.8 581.6M494.9 535L479 543.1M494.9 567.8L479 559.7M469.3 531.9L479 543.1M469.3 570.9L479 559.7M469.3 531.9L460.6 531.9M469.3 570.9L460.6 570.9M478 516.1L469.3 531.9M478 586.7L469.3 570.9M517.8 504.3L534.9 512M517.8 598.5L534.9 590.8M534.9 512L534.4 526.3M534.9 590.8L534.4 576.5M534.4 526.3L518.4 531.9M534.4 576.5L518.4 570.9M534.4 526.3L550.3 531.4M534.4 576.5L550.3 571.4M534.9 512L551.3 503.8M534.9 590.8L551.3 599M551.3 503.8L551.8 494.6M551.3 599L551.8 608.2M551.3 503.8L557.9 515.5M551.3 599L557.9 587.3M557.9 515.5L550.3 531.4M557.9 587.3L550.3 571.4M550.3 531.4L557.9 542.1M550.3 571.4L557.9 560.7M557.9 515.5L574.8 520.7M557.9 587.3L574.8 582.1M574.8 520.7L581.9 516.1M574.8 582.1L581.9 586.7M574.8 520.7L573.8 534.5M574.8 582.1L573.8 568.3M573.8 534.5L580.4 540.1M573.8 568.3L580.4 562.7M573.8 534.5L557.9 542.1M573.8 568.3L557.9 560.7M511.2 543.1L511.2 559.7M479 543.1L479 559.7M557.9 542.1L557.9 560.7" stroke="#8c8c8c" stroke-width="0.7" stroke-linecap="round" fill="none"/><path d="M471.74 508.08L475.06 512.32M471.74 594.72L475.06 590.48M483.06 517.73L488.74 519.57M483.06 585.07L488.74 583.23M499.21 519.73L505.29 518.07M499.21 583.07L505.29 584.73M512.97 512.66L515.53 508.24M512.97 590.14L515.53 594.56M513.16 521.5L515.94 527M513.16 581.3L515.94 575.8M516.1 535.48L513.5 539.52M516.1 567.32L513.5 563.28M505.98 540.51L500.12 537.59M505.98 562.29L500.12 565.21M494.55 530.58L494.15 525.62M494.55 572.22L494.15 577.18M489.81 537.59L484.09 540.51M489.81 565.21L484.09 562.29M472.4 535.48L475.9 539.52M472.4 567.32L475.9 563.28M475.22 521.16L472.08 526.84M475.22 581.64L472.08 575.96M523.27 506.76L529.43 509.54M523.27 596.04L529.43 593.26M534.74 516.58L534.56 521.72M534.74 586.22L534.56 581.08M529.28 528.09L523.52 530.11M529.28 574.71L523.52 572.69M539.49 527.93L545.21 529.77M539.49 574.87L545.21 573.03M540.15 509.38L546.05 506.42M540.15 593.42L546.05 596.38M553.41 507.54L555.79 511.76M553.41 595.26L555.79 591.04M555.47 520.59L552.73 526.31M555.47 582.21L552.73 576.49M552.73 534.82L555.47 538.68M552.73 567.98L555.47 564.12M563.31 517.16L569.39 519.04M563.31 585.64L569.39 583.76M574.48 525.12L574.12 530.08M574.48 577.68L574.12 572.72M568.71 536.93L562.99 539.67M568.71 565.87L562.99 563.13M511.2 548.41L511.2 554.39M479 548.41L479 554.39M557.9 548.05L557.9 554.75" stroke="#7c7c7c" stroke-width="1.7" stroke-linecap="round" fill="none"/><circle cx="469.3" cy="494.6" r="1.25" fill="url(#gn)"/><circle cx="469.3" cy="608.2" r="1.25" fill="url(#gn)"/><circle cx="459.1" cy="506.9" r="1.25" fill="url(#gn)"/><circle cx="459.1" cy="595.9" r="1.25" fill="url(#gn)"/><circle cx="516.8" cy="494.6" r="1.25" fill="url(#gn)"/><circle cx="516.8" cy="608.2" r="1.25" fill="url(#gn)"/><circle cx="551.8" cy="494.6" r="1.25" fill="url(#gn)"/><circle cx="551.8" cy="608.2" r="1.25" fill="url(#gn)"/><circle cx="581.9" cy="516.1" r="1.25" fill="url(#gn)"/><circle cx="581.9" cy="586.7" r="1.25" fill="url(#gn)"/><circle cx="580.4" cy="540.1" r="1.25" fill="url(#gn)"/><circle cx="580.4" cy="562.7" r="1.25" fill="url(#gn)"/><circle cx="460.6" cy="531.9" r="1.25" fill="url(#gn)"/><circle cx="460.6" cy="570.9" r="1.25" fill="url(#gn)"/><circle cx="468.8" cy="504.3" r="2.3" fill="url(#bn)"/><circle cx="468.8" cy="598.5" r="2.3" fill="url(#bn)"/><circle cx="478" cy="516.1" r="2.3" fill="url(#bn)"/><circle cx="478" cy="586.7" r="2.3" fill="url(#bn)"/><circle cx="493.8" cy="521.2" r="2.3" fill="url(#bn)"/><circle cx="493.8" cy="581.6" r="2.3" fill="url(#bn)"/><circle cx="510.7" cy="516.6" r="2.3" fill="url(#bn)"/><circle cx="510.7" cy="586.2" r="2.3" fill="url(#bn)"/><circle cx="517.8" cy="504.3" r="2.3" fill="url(#bn)"/><circle cx="517.8" cy="598.5" r="2.3" fill="url(#bn)"/><circle cx="518.4" cy="531.9" r="2.3" fill="url(#bn)"/><circle cx="518.4" cy="570.9" r="2.3" fill="url(#bn)"/><circle cx="494.9" cy="535" r="2.3" fill="url(#bn)"/><circle cx="494.9" cy="567.8" r="2.3" fill="url(#bn)"/><circle cx="511.2" cy="543.1" r="2.3" fill="url(#bn)"/><circle cx="511.2" cy="559.7" r="2.3" fill="url(#bn)"/><circle cx="469.3" cy="531.9" r="2.3" fill="url(#bn)"/><circle cx="469.3" cy="570.9" r="2.3" fill="url(#bn)"/><circle cx="479" cy="543.1" r="2.3" fill="url(#bn)"/><circle cx="479" cy="559.7" r="2.3" fill="url(#bn)"/><circle cx="534.9" cy="512" r="2.3" fill="url(#bn)"/><circle cx="534.9" cy="590.8" r="2.3" fill="url(#bn)"/><circle cx="534.4" cy="526.3" r="2.3" fill="url(#bn)"/><circle cx="534.4" cy="576.5" r="2.3" fill="url(#bn)"/><circle cx="551.3" cy="503.8" r="2.3" fill="url(#bn)"/><circle cx="551.3" cy="599" r="2.3" fill="url(#bn)"/><circle cx="557.9" cy="515.5" r="2.3" fill="url(#bn)"/><circle cx="557.9" cy="587.3" r="2.3" fill="url(#bn)"/><circle cx="550.3" cy="531.4" r="2.3" fill="url(#bn)"/><circle cx="550.3" cy="571.4" r="2.3" fill="url(#bn)"/><circle cx="574.8" cy="520.7" r="2.3" fill="url(#bn)"/><circle cx="574.8" cy="582.1" r="2.3" fill="url(#bn)"/><circle cx="573.8" cy="534.5" r="2.3" fill="url(#bn)"/><circle cx="573.8" cy="568.3" r="2.3" fill="url(#bn)"/><circle cx="557.9" cy="542.1" r="2.3" fill="url(#bn)"/><circle cx="557.9" cy="560.7" r="2.3" fill="url(#bn)"/></g>
</g>
<circle cx="505.0" cy="531.4" r="2.9" fill="url(#pn)"/>
<circle cx="494.4" cy="551.8" r="2.9" fill="url(#pn)"/>
<circle cx="534.6" cy="571.2" r="2.9" fill="url(#pn)"/>
<text x="505.6" y="529.8" font-size="9.6" font-weight="bold" text-anchor="start" fill="#f5a04c" stroke="#f5a04c" stroke-width="0.2" >C</text>
<text x="500.3" y="554.9" font-size="9.6" font-weight="bold" text-anchor="start" fill="#f5a04c" stroke="#f5a04c" stroke-width="0.2" >G</text>
<text x="531.6" y="566" font-size="9.6" font-weight="bold" text-anchor="start" fill="#f5a04c" stroke="#f5a04c" stroke-width="0.2" >B</text>
<g filter="url(#gbl)">
<g opacity="0.24"><path d="M625.97 543.59L620.74 543.99M625.97 543.59L627.58 545.96M627.58 545.96L624.36 547.93M624.36 547.93L620.34 549.51M620.34 549.51L617.53 551.48M617.53 551.48L613.91 548.72M613.91 548.72L609.48 549.9M609.48 549.9L607.07 547.93M617.53 551.48L612.7 552.26M612.7 552.26L615.11 555.42M618.33 553.45L622.35 551.87M624.36 547.93L622.35 551.87M618.33 553.45L617.53 551.48M615.11 555.42L611.9 556.99M625.97 569.61L620.74 569.21M625.97 569.61L627.58 567.24M627.58 567.24L624.36 565.27M624.36 565.27L620.34 563.69M620.34 563.69L617.53 561.72M617.53 561.72L613.91 564.48M613.91 564.48L609.48 563.3M609.48 563.3L607.07 565.27M617.53 561.72L612.7 560.94M612.7 560.94L615.11 557.78M618.33 559.75L622.35 561.33M624.36 565.27L622.35 561.33M618.33 559.75L617.53 561.72M615.11 557.78L611.9 556.21M636.43 543.59L641.66 543.99M636.43 543.59L634.82 545.96M634.82 545.96L638.04 547.93M638.04 547.93L642.06 549.51M642.06 549.51L644.87 551.48M644.87 551.48L648.49 548.72M648.49 548.72L652.92 549.9M652.92 549.9L655.33 547.93M644.87 551.48L649.7 552.26M649.7 552.26L647.29 555.42M644.07 553.45L640.05 551.87M638.04 547.93L640.05 551.87M644.07 553.45L644.87 551.48M647.29 555.42L650.5 556.99M636.43 569.61L641.66 569.21M636.43 569.61L634.82 567.24M634.82 567.24L638.04 565.27M638.04 565.27L642.06 563.69M642.06 563.69L644.87 561.72M644.87 561.72L648.49 564.48M648.49 564.48L652.92 563.3M652.92 563.3L655.33 565.27M644.87 561.72L649.7 560.94M649.7 560.94L647.29 557.78M644.07 559.75L640.05 561.33M638.04 565.27L640.05 561.33M644.07 559.75L644.87 561.72M647.29 557.78L650.5 556.21M625.97 543.33H636.43M625.97 569.87H636.43M625.97 545.74H636.43M625.97 567.46H636.43M613.5 554.19H623.96M638.44 554.19H648.9M613.5 555.8H623.96M638.44 555.8H648.9M613.5 557.4H623.96M638.44 557.4H648.9M613.5 559.01H623.96M638.44 559.01H648.9M614.31 555.39V557.81M648.09 555.39V557.81" stroke="#777" stroke-width="0.64" fill="none"/><circle cx="625.97" cy="543.59" r="1.37" fill="url(#bn)"/><circle cx="620.74" cy="543.99" r="1.37" fill="url(#bn)"/><circle cx="627.58" cy="545.96" r="1.37" fill="url(#bn)"/><circle cx="624.36" cy="547.93" r="0.8" fill="url(#gn)"/><circle cx="620.34" cy="549.51" r="1.37" fill="url(#bn)"/><circle cx="617.53" cy="551.48" r="1.37" fill="url(#bn)"/><circle cx="613.91" cy="548.72" r="1.37" fill="url(#bn)"/><circle cx="609.48" cy="549.9" r="1.37" fill="url(#bn)"/><circle cx="607.07" cy="547.93" r="1.37" fill="url(#bn)"/><circle cx="612.7" cy="552.26" r="0.8" fill="url(#gn)"/><circle cx="618.33" cy="553.45" r="0.8" fill="url(#gn)"/><circle cx="622.35" cy="551.87" r="0.8" fill="url(#gn)"/><circle cx="615.11" cy="555.42" r="1.37" fill="url(#bn)"/><circle cx="611.9" cy="556.99" r="0.8" fill="url(#gn)"/><circle cx="625.97" cy="569.61" r="1.37" fill="url(#bn)"/><circle cx="620.74" cy="569.21" r="1.37" fill="url(#bn)"/><circle cx="627.58" cy="567.24" r="1.37" fill="url(#bn)"/><circle cx="624.36" cy="565.27" r="0.8" fill="url(#gn)"/><circle cx="620.34" cy="563.69" r="1.37" fill="url(#bn)"/><circle cx="617.53" cy="561.72" r="1.37" fill="url(#bn)"/><circle cx="613.91" cy="564.48" r="1.37" fill="url(#bn)"/><circle cx="609.48" cy="563.3" r="1.37" fill="url(#bn)"/><circle cx="607.07" cy="565.27" r="1.37" fill="url(#bn)"/><circle cx="612.7" cy="560.94" r="0.8" fill="url(#gn)"/><circle cx="618.33" cy="559.75" r="0.8" fill="url(#gn)"/><circle cx="622.35" cy="561.33" r="0.8" fill="url(#gn)"/><circle cx="615.11" cy="557.78" r="1.37" fill="url(#bn)"/><circle cx="611.9" cy="556.21" r="0.8" fill="url(#gn)"/><circle cx="636.43" cy="543.59" r="1.37" fill="url(#bn)"/><circle cx="641.66" cy="543.99" r="1.37" fill="url(#bn)"/><circle cx="634.82" cy="545.96" r="1.37" fill="url(#bn)"/><circle cx="638.04" cy="547.93" r="0.8" fill="url(#gn)"/><circle cx="642.06" cy="549.51" r="1.37" fill="url(#bn)"/><circle cx="644.87" cy="551.48" r="1.37" fill="url(#bn)"/><circle cx="648.49" cy="548.72" r="1.37" fill="url(#bn)"/><circle cx="652.92" cy="549.9" r="1.37" fill="url(#bn)"/><circle cx="655.33" cy="547.93" r="1.37" fill="url(#bn)"/><circle cx="649.7" cy="552.26" r="0.8" fill="url(#gn)"/><circle cx="644.07" cy="553.45" r="0.8" fill="url(#gn)"/><circle cx="640.05" cy="551.87" r="0.8" fill="url(#gn)"/><circle cx="647.29" cy="555.42" r="1.37" fill="url(#bn)"/><circle cx="650.5" cy="556.99" r="0.8" fill="url(#gn)"/><circle cx="636.43" cy="569.61" r="1.37" fill="url(#bn)"/><circle cx="641.66" cy="569.21" r="1.37" fill="url(#bn)"/><circle cx="634.82" cy="567.24" r="1.37" fill="url(#bn)"/><circle cx="638.04" cy="565.27" r="0.8" fill="url(#gn)"/><circle cx="642.06" cy="563.69" r="1.37" fill="url(#bn)"/><circle cx="644.87" cy="561.72" r="1.37" fill="url(#bn)"/><circle cx="648.49" cy="564.48" r="1.37" fill="url(#bn)"/><circle cx="652.92" cy="563.3" r="1.37" fill="url(#bn)"/><circle cx="655.33" cy="565.27" r="1.37" fill="url(#bn)"/><circle cx="649.7" cy="560.94" r="0.8" fill="url(#gn)"/><circle cx="644.07" cy="559.75" r="0.8" fill="url(#gn)"/><circle cx="640.05" cy="561.33" r="0.8" fill="url(#gn)"/><circle cx="647.29" cy="557.78" r="1.37" fill="url(#bn)"/><circle cx="650.5" cy="556.21" r="0.8" fill="url(#gn)"/></g>
<g opacity="0.36"><path d="M625.58 542.61L619.96 543.04M625.58 542.61L627.31 545.16M627.31 545.16L623.85 547.28M623.85 547.28L619.52 548.97M619.52 548.97L616.5 551.09M616.5 551.09L612.6 548.12M612.6 548.12L607.85 549.4M607.85 549.4L605.25 547.28M616.5 551.09L611.31 551.94M611.31 551.94L613.9 555.33M617.36 553.21L621.69 551.51M623.85 547.28L621.69 551.51M617.36 553.21L616.5 551.09M613.9 555.33L610.44 557.02M625.58 570.59L619.96 570.16M625.58 570.59L627.31 568.04M627.31 568.04L623.85 565.92M623.85 565.92L619.52 564.23M619.52 564.23L616.5 562.11M616.5 562.11L612.6 565.08M612.6 565.08L607.85 563.8M607.85 563.8L605.25 565.92M616.5 562.11L611.31 561.26M611.31 561.26L613.9 557.87M617.36 559.99L621.69 561.69M623.85 565.92L621.69 561.69M617.36 559.99L616.5 562.11M613.9 557.87L610.44 556.18M636.82 542.61L642.44 543.04M636.82 542.61L635.09 545.16M635.09 545.16L638.55 547.28M638.55 547.28L642.88 548.97M642.88 548.97L645.9 551.09M645.9 551.09L649.8 548.12M649.8 548.12L654.55 549.4M654.55 549.4L657.15 547.28M645.9 551.09L651.09 551.94M651.09 551.94L648.5 555.33M645.04 553.21L640.71 551.51M638.55 547.28L640.71 551.51M645.04 553.21L645.9 551.09M648.5 555.33L651.96 557.02M636.82 570.59L642.44 570.16M636.82 570.59L635.09 568.04M635.09 568.04L638.55 565.92M638.55 565.92L642.88 564.23M642.88 564.23L645.9 562.11M645.9 562.11L649.8 565.08M649.8 565.08L654.55 563.8M654.55 563.8L657.15 565.92M645.9 562.11L651.09 561.26M651.09 561.26L648.5 557.87M645.04 559.99L640.71 561.69M638.55 565.92L640.71 561.69M645.04 559.99L645.9 562.11M648.5 557.87L651.96 556.18M625.58 542.33H636.82M625.58 570.87H636.82M625.58 544.92H636.82M625.58 568.28H636.82M612.17 554.01H623.42M638.98 554.01H650.23M612.17 555.74H623.42M638.98 555.74H650.23M612.17 557.46H623.42M638.98 557.46H650.23M612.17 559.19H623.42M638.98 559.19H650.23M613.04 555.3V557.9M649.36 555.3V557.9" stroke="#777" stroke-width="0.69" fill="none"/><circle cx="625.58" cy="542.61" r="1.47" fill="url(#bn)"/><circle cx="619.96" cy="543.04" r="1.47" fill="url(#bn)"/><circle cx="627.31" cy="545.16" r="1.47" fill="url(#bn)"/><circle cx="623.85" cy="547.28" r="0.86" fill="url(#gn)"/><circle cx="619.52" cy="548.97" r="1.47" fill="url(#bn)"/><circle cx="616.5" cy="551.09" r="1.47" fill="url(#bn)"/><circle cx="612.6" cy="548.12" r="1.47" fill="url(#bn)"/><circle cx="607.85" cy="549.4" r="1.47" fill="url(#bn)"/><circle cx="605.25" cy="547.28" r="1.47" fill="url(#bn)"/><circle cx="611.31" cy="551.94" r="0.86" fill="url(#gn)"/><circle cx="617.36" cy="553.21" r="0.86" fill="url(#gn)"/><circle cx="621.69" cy="551.51" r="0.86" fill="url(#gn)"/><circle cx="613.9" cy="555.33" r="1.47" fill="url(#bn)"/><circle cx="610.44" cy="557.02" r="0.86" fill="url(#gn)"/><circle cx="625.58" cy="570.59" r="1.47" fill="url(#bn)"/><circle cx="619.96" cy="570.16" r="1.47" fill="url(#bn)"/><circle cx="627.31" cy="568.04" r="1.47" fill="url(#bn)"/><circle cx="623.85" cy="565.92" r="0.86" fill="url(#gn)"/><circle cx="619.52" cy="564.23" r="1.47" fill="url(#bn)"/><circle cx="616.5" cy="562.11" r="1.47" fill="url(#bn)"/><circle cx="612.6" cy="565.08" r="1.47" fill="url(#bn)"/><circle cx="607.85" cy="563.8" r="1.47" fill="url(#bn)"/><circle cx="605.25" cy="565.92" r="1.47" fill="url(#bn)"/><circle cx="611.31" cy="561.26" r="0.86" fill="url(#gn)"/><circle cx="617.36" cy="559.99" r="0.86" fill="url(#gn)"/><circle cx="621.69" cy="561.69" r="0.86" fill="url(#gn)"/><circle cx="613.9" cy="557.87" r="1.47" fill="url(#bn)"/><circle cx="610.44" cy="556.18" r="0.86" fill="url(#gn)"/><circle cx="636.82" cy="542.61" r="1.47" fill="url(#bn)"/><circle cx="642.44" cy="543.04" r="1.47" fill="url(#bn)"/><circle cx="635.09" cy="545.16" r="1.47" fill="url(#bn)"/><circle cx="638.55" cy="547.28" r="0.86" fill="url(#gn)"/><circle cx="642.88" cy="548.97" r="1.47" fill="url(#bn)"/><circle cx="645.9" cy="551.09" r="1.47" fill="url(#bn)"/><circle cx="649.8" cy="548.12" r="1.47" fill="url(#bn)"/><circle cx="654.55" cy="549.4" r="1.47" fill="url(#bn)"/><circle cx="657.15" cy="547.28" r="1.47" fill="url(#bn)"/><circle cx="651.09" cy="551.94" r="0.86" fill="url(#gn)"/><circle cx="645.04" cy="553.21" r="0.86" fill="url(#gn)"/><circle cx="640.71" cy="551.51" r="0.86" fill="url(#gn)"/><circle cx="648.5" cy="555.33" r="1.47" fill="url(#bn)"/><circle cx="651.96" cy="557.02" r="0.86" fill="url(#gn)"/><circle cx="636.82" cy="570.59" r="1.47" fill="url(#bn)"/><circle cx="642.44" cy="570.16" r="1.47" fill="url(#bn)"/><circle cx="635.09" cy="568.04" r="1.47" fill="url(#bn)"/><circle cx="638.55" cy="565.92" r="0.86" fill="url(#gn)"/><circle cx="642.88" cy="564.23" r="1.47" fill="url(#bn)"/><circle cx="645.9" cy="562.11" r="1.47" fill="url(#bn)"/><circle cx="649.8" cy="565.08" r="1.47" fill="url(#bn)"/><circle cx="654.55" cy="563.8" r="1.47" fill="url(#bn)"/><circle cx="657.15" cy="565.92" r="1.47" fill="url(#bn)"/><circle cx="651.09" cy="561.26" r="0.86" fill="url(#gn)"/><circle cx="645.04" cy="559.99" r="0.86" fill="url(#gn)"/><circle cx="640.71" cy="561.69" r="0.86" fill="url(#gn)"/><circle cx="648.5" cy="557.87" r="1.47" fill="url(#bn)"/><circle cx="651.96" cy="556.18" r="0.86" fill="url(#gn)"/></g>
<g opacity="0.48"><path d="M625.16 541.56L619.11 542.02M625.16 541.56L627.02 544.3M627.02 544.3L623.3 546.57M623.3 546.57L618.65 548.4M618.65 548.4L615.39 550.68M615.39 550.68L611.21 547.49M611.21 547.49L606.09 548.85M606.09 548.85L603.3 546.57M615.39 550.68L609.81 551.59M609.81 551.59L612.6 555.23M616.32 552.95L620.97 551.13M623.3 546.57L620.97 551.13M616.32 552.95L615.39 550.68M612.6 555.23L608.88 557.06M625.16 571.64L619.11 571.18M625.16 571.64L627.02 568.9M627.02 568.9L623.3 566.63M623.3 566.63L618.65 564.8M618.65 564.8L615.39 562.52M615.39 562.52L611.21 565.71M611.21 565.71L606.09 564.35M606.09 564.35L603.3 566.63M615.39 562.52L609.81 561.61M609.81 561.61L612.6 557.97M616.32 560.25L620.97 562.07M623.3 566.63L620.97 562.07M616.32 560.25L615.39 562.52M612.6 557.97L608.88 556.14M637.25 541.56L643.29 542.02M637.25 541.56L635.38 544.3M635.38 544.3L639.11 546.57M639.11 546.57L643.75 548.4M643.75 548.4L647.01 550.68M647.01 550.68L651.2 547.49M651.2 547.49L656.31 548.85M656.31 548.85L659.1 546.57M647.01 550.68L652.59 551.59M652.59 551.59L649.8 555.23M646.08 552.95L641.43 551.13M639.11 546.57L641.43 551.13M646.08 552.95L647.01 550.68M649.8 555.23L653.52 557.06M637.25 571.64L643.29 571.18M637.25 571.64L635.38 568.9M635.38 568.9L639.11 566.63M639.11 566.63L643.75 564.8M643.75 564.8L647.01 562.52M647.01 562.52L651.2 565.71M651.2 565.71L656.31 564.35M656.31 564.35L659.1 566.63M647.01 562.52L652.59 561.61M652.59 561.61L649.8 557.97M646.08 560.25L641.43 562.07M639.11 566.63L641.43 562.07M646.08 560.25L647.01 562.52M649.8 557.97L653.52 556.14M625.16 541.25H637.25M625.16 571.95H637.25M625.16 544.05H637.25M625.16 569.15H637.25M610.74 553.81H622.83M639.57 553.81H651.66M610.74 555.67H622.83M639.57 555.67H651.66M610.74 557.53H622.83M639.57 557.53H651.66M610.74 559.39H622.83M639.57 559.39H651.66M611.67 555.21V558M650.73 555.21V558" stroke="#777" stroke-width="0.74" fill="none"/><circle cx="625.16" cy="541.56" r="1.58" fill="url(#bn)"/><circle cx="619.11" cy="542.02" r="1.58" fill="url(#bn)"/><circle cx="627.02" cy="544.3" r="1.58" fill="url(#bn)"/><circle cx="623.3" cy="546.57" r="0.93" fill="url(#gn)"/><circle cx="618.65" cy="548.4" r="1.58" fill="url(#bn)"/><circle cx="615.39" cy="550.68" r="1.58" fill="url(#bn)"/><circle cx="611.21" cy="547.49" r="1.58" fill="url(#bn)"/><circle cx="606.09" cy="548.85" r="1.58" fill="url(#bn)"/><circle cx="603.3" cy="546.57" r="1.58" fill="url(#bn)"/><circle cx="609.81" cy="551.59" r="0.93" fill="url(#gn)"/><circle cx="616.32" cy="552.95" r="0.93" fill="url(#gn)"/><circle cx="620.97" cy="551.13" r="0.93" fill="url(#gn)"/><circle cx="612.6" cy="555.23" r="1.58" fill="url(#bn)"/><circle cx="608.88" cy="557.06" r="0.93" fill="url(#gn)"/><circle cx="625.16" cy="571.64" r="1.58" fill="url(#bn)"/><circle cx="619.11" cy="571.18" r="1.58" fill="url(#bn)"/><circle cx="627.02" cy="568.9" r="1.58" fill="url(#bn)"/><circle cx="623.3" cy="566.63" r="0.93" fill="url(#gn)"/><circle cx="618.65" cy="564.8" r="1.58" fill="url(#bn)"/><circle cx="615.39" cy="562.52" r="1.58" fill="url(#bn)"/><circle cx="611.21" cy="565.71" r="1.58" fill="url(#bn)"/><circle cx="606.09" cy="564.35" r="1.58" fill="url(#bn)"/><circle cx="603.3" cy="566.63" r="1.58" fill="url(#bn)"/><circle cx="609.81" cy="561.61" r="0.93" fill="url(#gn)"/><circle cx="616.32" cy="560.25" r="0.93" fill="url(#gn)"/><circle cx="620.97" cy="562.07" r="0.93" fill="url(#gn)"/><circle cx="612.6" cy="557.97" r="1.58" fill="url(#bn)"/><circle cx="608.88" cy="556.14" r="0.93" fill="url(#gn)"/><circle cx="637.25" cy="541.56" r="1.58" fill="url(#bn)"/><circle cx="643.29" cy="542.02" r="1.58" fill="url(#bn)"/><circle cx="635.38" cy="544.3" r="1.58" fill="url(#bn)"/><circle cx="639.11" cy="546.57" r="0.93" fill="url(#gn)"/><circle cx="643.75" cy="548.4" r="1.58" fill="url(#bn)"/><circle cx="647.01" cy="550.68" r="1.58" fill="url(#bn)"/><circle cx="651.2" cy="547.49" r="1.58" fill="url(#bn)"/><circle cx="656.31" cy="548.85" r="1.58" fill="url(#bn)"/><circle cx="659.1" cy="546.57" r="1.58" fill="url(#bn)"/><circle cx="652.59" cy="551.59" r="0.93" fill="url(#gn)"/><circle cx="646.08" cy="552.95" r="0.93" fill="url(#gn)"/><circle cx="641.43" cy="551.13" r="0.93" fill="url(#gn)"/><circle cx="649.8" cy="555.23" r="1.58" fill="url(#bn)"/><circle cx="653.52" cy="557.06" r="0.93" fill="url(#gn)"/><circle cx="637.25" cy="571.64" r="1.58" fill="url(#bn)"/><circle cx="643.29" cy="571.18" r="1.58" fill="url(#bn)"/><circle cx="635.38" cy="568.9" r="1.58" fill="url(#bn)"/><circle cx="639.11" cy="566.63" r="0.93" fill="url(#gn)"/><circle cx="643.75" cy="564.8" r="1.58" fill="url(#bn)"/><circle cx="647.01" cy="562.52" r="1.58" fill="url(#bn)"/><circle cx="651.2" cy="565.71" r="1.58" fill="url(#bn)"/><circle cx="656.31" cy="564.35" r="1.58" fill="url(#bn)"/><circle cx="659.1" cy="566.63" r="1.58" fill="url(#bn)"/><circle cx="652.59" cy="561.61" r="0.93" fill="url(#gn)"/><circle cx="646.08" cy="560.25" r="0.93" fill="url(#gn)"/><circle cx="641.43" cy="562.07" r="0.93" fill="url(#gn)"/><circle cx="649.8" cy="557.97" r="1.58" fill="url(#bn)"/><circle cx="653.52" cy="556.14" r="0.93" fill="url(#gn)"/></g>
<g opacity="1"><path d="M624.7 540.43L618.2 540.92M624.7 540.43L626.7 543.37M626.7 543.37L622.7 545.82M622.7 545.82L617.7 547.78M617.7 547.78L614.2 550.23M614.2 550.23L609.7 546.8M609.7 546.8L604.2 548.27M604.2 548.27L601.2 545.82M614.2 550.23L608.2 551.21M608.2 551.21L611.2 555.13M615.2 552.68L620.2 550.72M622.7 545.82L620.2 550.72M615.2 552.68L614.2 550.23M611.2 555.13L607.2 557.09M624.7 572.77L618.2 572.28M624.7 572.77L626.7 569.83M626.7 569.83L622.7 567.38M622.7 567.38L617.7 565.42M617.7 565.42L614.2 562.97M614.2 562.97L609.7 566.4M609.7 566.4L604.2 564.93M604.2 564.93L601.2 567.38M614.2 562.97L608.2 561.99M608.2 561.99L611.2 558.07M615.2 560.52L620.2 562.48M622.7 567.38L620.2 562.48M615.2 560.52L614.2 562.97M611.2 558.07L607.2 556.11M637.7 540.43L644.2 540.92M637.7 540.43L635.7 543.37M635.7 543.37L639.7 545.82M639.7 545.82L644.7 547.78M644.7 547.78L648.2 550.23M648.2 550.23L652.7 546.8M652.7 546.8L658.2 548.27M658.2 548.27L661.2 545.82M648.2 550.23L654.2 551.21M654.2 551.21L651.2 555.13M647.2 552.68L642.2 550.72M639.7 545.82L642.2 550.72M647.2 552.68L648.2 550.23M651.2 555.13L655.2 557.09M637.7 572.77L644.2 572.28M637.7 572.77L635.7 569.83M635.7 569.83L639.7 567.38M639.7 567.38L644.7 565.42M644.7 565.42L648.2 562.97M648.2 562.97L652.7 566.4M652.7 566.4L658.2 564.93M658.2 564.93L661.2 567.38M648.2 562.97L654.2 561.99M654.2 561.99L651.2 558.07M647.2 560.52L642.2 562.48M639.7 567.38L642.2 562.48M647.2 560.52L648.2 562.97M651.2 558.07L655.2 556.11M624.7 540.1H637.7M624.7 573.1H637.7M624.7 543.1H637.7M624.7 570.1H637.7M609.2 553.6H622.2M640.2 553.6H653.2M609.2 555.6H622.2M640.2 555.6H653.2M609.2 557.6H622.2M640.2 557.6H653.2M609.2 559.6H622.2M640.2 559.6H653.2M610.2 555.1V558.1M652.2 555.1V558.1" stroke="#777" stroke-width="0.8" fill="none"/><circle cx="624.7" cy="540.43" r="1.7" fill="url(#bn)"/><circle cx="618.2" cy="540.92" r="1.7" fill="url(#bn)"/><circle cx="626.7" cy="543.37" r="1.7" fill="url(#bn)"/><circle cx="622.7" cy="545.82" r="1" fill="url(#gn)"/><circle cx="617.7" cy="547.78" r="1.7" fill="url(#bn)"/><circle cx="614.2" cy="550.23" r="1.7" fill="url(#bn)"/><circle cx="609.7" cy="546.8" r="1.7" fill="url(#bn)"/><circle cx="604.2" cy="548.27" r="1.7" fill="url(#bn)"/><circle cx="601.2" cy="545.82" r="1.7" fill="url(#bn)"/><circle cx="608.2" cy="551.21" r="1" fill="url(#gn)"/><circle cx="615.2" cy="552.68" r="1" fill="url(#gn)"/><circle cx="620.2" cy="550.72" r="1" fill="url(#gn)"/><circle cx="611.2" cy="555.13" r="1.7" fill="url(#bn)"/><circle cx="607.2" cy="557.09" r="1" fill="url(#gn)"/><circle cx="624.7" cy="572.77" r="1.7" fill="url(#bn)"/><circle cx="618.2" cy="572.28" r="1.7" fill="url(#bn)"/><circle cx="626.7" cy="569.83" r="1.7" fill="url(#bn)"/><circle cx="622.7" cy="567.38" r="1" fill="url(#gn)"/><circle cx="617.7" cy="565.42" r="1.7" fill="url(#bn)"/><circle cx="614.2" cy="562.97" r="1.7" fill="url(#bn)"/><circle cx="609.7" cy="566.4" r="1.7" fill="url(#bn)"/><circle cx="604.2" cy="564.93" r="1.7" fill="url(#bn)"/><circle cx="601.2" cy="567.38" r="1.7" fill="url(#bn)"/><circle cx="608.2" cy="561.99" r="1" fill="url(#gn)"/><circle cx="615.2" cy="560.52" r="1" fill="url(#gn)"/><circle cx="620.2" cy="562.48" r="1" fill="url(#gn)"/><circle cx="611.2" cy="558.07" r="1.7" fill="url(#bn)"/><circle cx="607.2" cy="556.11" r="1" fill="url(#gn)"/><circle cx="637.7" cy="540.43" r="1.7" fill="url(#bn)"/><circle cx="644.2" cy="540.92" r="1.7" fill="url(#bn)"/><circle cx="635.7" cy="543.37" r="1.7" fill="url(#bn)"/><circle cx="639.7" cy="545.82" r="1" fill="url(#gn)"/><circle cx="644.7" cy="547.78" r="1.7" fill="url(#bn)"/><circle cx="648.2" cy="550.23" r="1.7" fill="url(#bn)"/><circle cx="652.7" cy="546.8" r="1.7" fill="url(#bn)"/><circle cx="658.2" cy="548.27" r="1.7" fill="url(#bn)"/><circle cx="661.2" cy="545.82" r="1.7" fill="url(#bn)"/><circle cx="654.2" cy="551.21" r="1" fill="url(#gn)"/><circle cx="647.2" cy="552.68" r="1" fill="url(#gn)"/><circle cx="642.2" cy="550.72" r="1" fill="url(#gn)"/><circle cx="651.2" cy="555.13" r="1.7" fill="url(#bn)"/><circle cx="655.2" cy="557.09" r="1" fill="url(#gn)"/><circle cx="637.7" cy="572.77" r="1.7" fill="url(#bn)"/><circle cx="644.2" cy="572.28" r="1.7" fill="url(#bn)"/><circle cx="635.7" cy="569.83" r="1.7" fill="url(#bn)"/><circle cx="639.7" cy="567.38" r="1" fill="url(#gn)"/><circle cx="644.7" cy="565.42" r="1.7" fill="url(#bn)"/><circle cx="648.2" cy="562.97" r="1.7" fill="url(#bn)"/><circle cx="652.7" cy="566.4" r="1.7" fill="url(#bn)"/><circle cx="658.2" cy="564.93" r="1.7" fill="url(#bn)"/><circle cx="661.2" cy="567.38" r="1.7" fill="url(#bn)"/><circle cx="654.2" cy="561.99" r="1" fill="url(#gn)"/><circle cx="647.2" cy="560.52" r="1" fill="url(#gn)"/><circle cx="642.2" cy="562.48" r="1" fill="url(#gn)"/><circle cx="651.2" cy="558.07" r="1.7" fill="url(#bn)"/><circle cx="655.2" cy="556.11" r="1" fill="url(#gn)"/></g>
</g>
<circle cx="631.2" cy="556.4" r="2.7" fill="url(#pn)"/>
<circle cx="631.4" cy="572.6" r="2.7" fill="url(#pn)"/>
<text x="628.4" y="553.2" font-size="9.6" font-weight="bold" text-anchor="start" fill="#f5a04c" stroke="#f5a04c" stroke-width="0.2" >F</text>
<text x="627.8" y="569.4" font-size="9.6" font-weight="bold" text-anchor="start" fill="#f5a04c" stroke="#f5a04c" stroke-width="0.2" >G</text>
<text x="443.8" y="491.2" font-size="22" font-weight="bold" text-anchor="start" fill="#000" stroke="#000" stroke-width="0.3" >g</text>
</g>
</svg>
</body>
</html>
